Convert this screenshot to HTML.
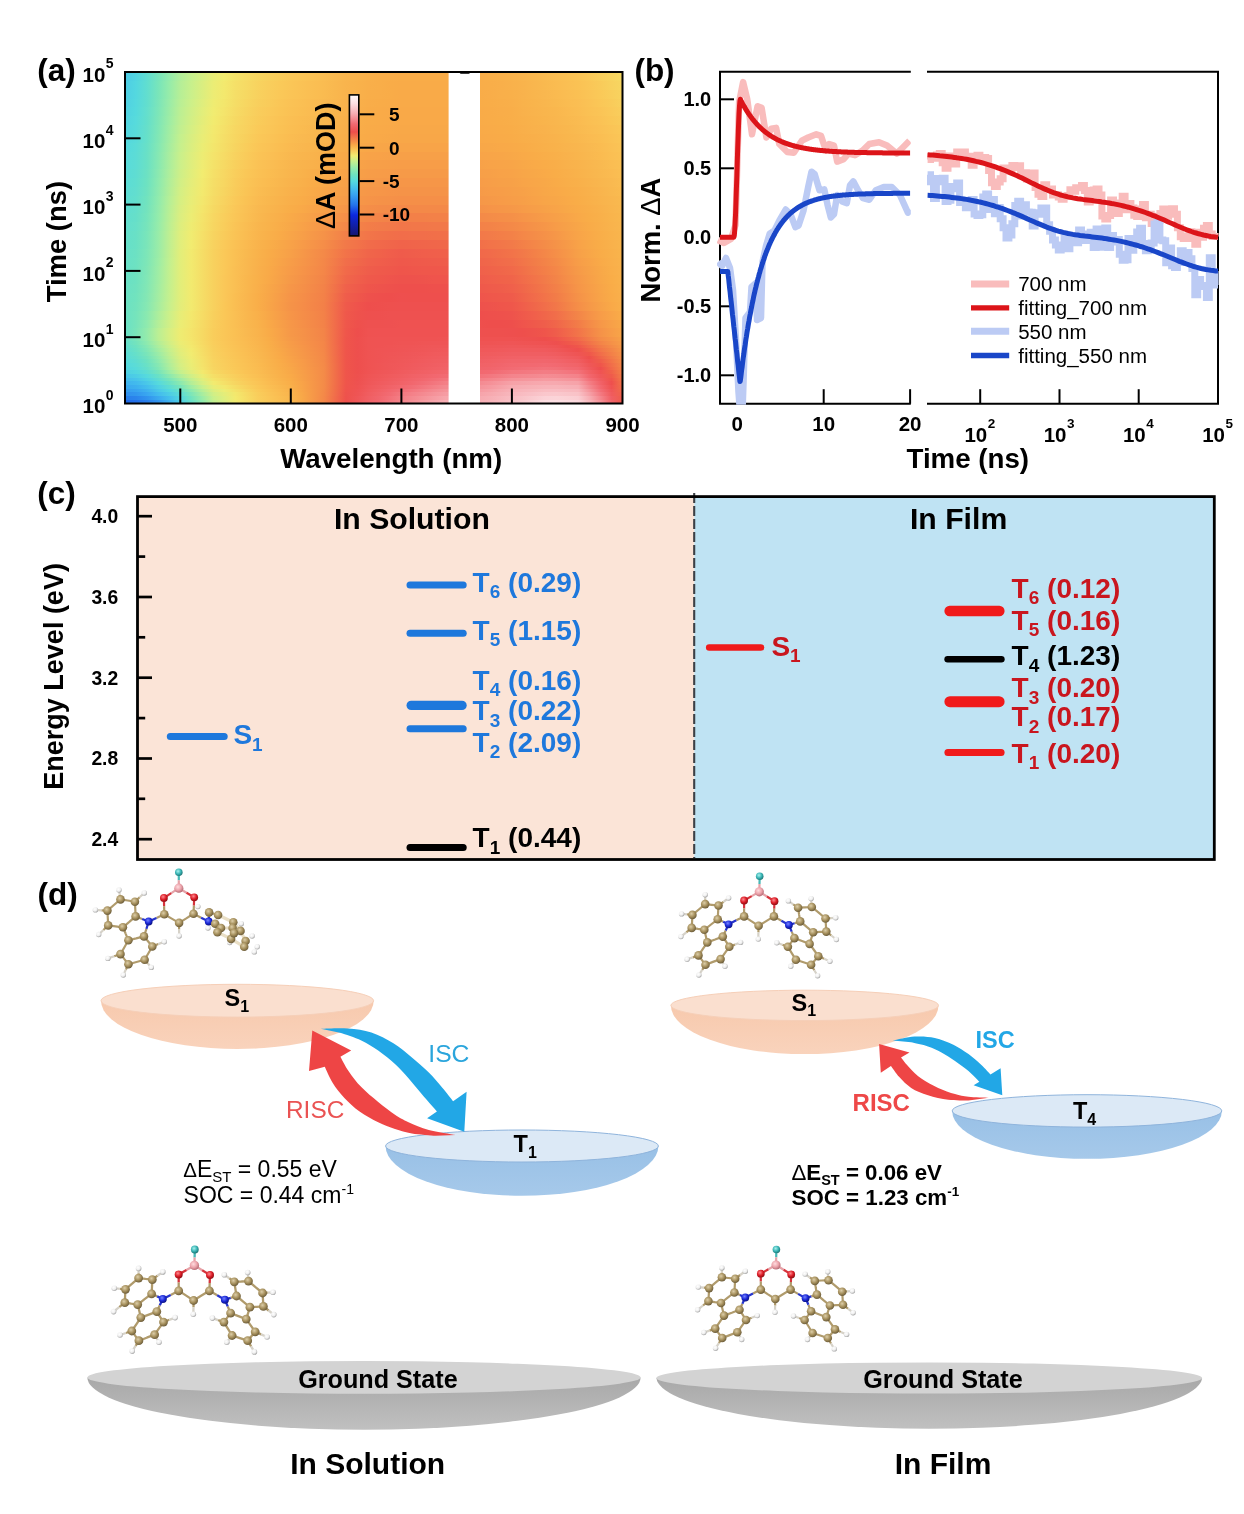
<!DOCTYPE html>
<html lang="en"><head><meta charset="utf-8"><title>Figure</title>
<style>
html,body{margin:0;padding:0;background:#fff;}
body{width:1244px;height:1514px;overflow:hidden;}
svg{display:block;font-family:"Liberation Sans", sans-serif;}
</style></head><body>
<svg width="1244" height="1514" viewBox="0 0 1244 1514">
<defs>
<linearGradient id="h0" x1="0" x2="1" y1="0" y2="0"><stop offset="0%" stop-color="#4ccbe6"/><stop offset="2.2%" stop-color="#52d5e0"/><stop offset="4.4%" stop-color="#60ddd1"/><stop offset="6.7%" stop-color="#77e4bb"/><stop offset="8.9%" stop-color="#93ebac"/><stop offset="11.1%" stop-color="#b1ee9a"/><stop offset="13.3%" stop-color="#c5f08e"/><stop offset="15.6%" stop-color="#d7ef82"/><stop offset="17.8%" stop-color="#e9ed76"/><stop offset="20%" stop-color="#f2eb6f"/><stop offset="22.2%" stop-color="#f4e269"/><stop offset="24.4%" stop-color="#f6db65"/><stop offset="26.7%" stop-color="#f7d560"/><stop offset="28.9%" stop-color="#f8d05d"/><stop offset="31.1%" stop-color="#f9cc5a"/><stop offset="33.3%" stop-color="#fac758"/><stop offset="35.6%" stop-color="#fac456"/><stop offset="37.8%" stop-color="#fac154"/><stop offset="40%" stop-color="#fabd52"/><stop offset="42.2%" stop-color="#f9b950"/><stop offset="44.4%" stop-color="#f9b54d"/><stop offset="46.7%" stop-color="#f9b34c"/><stop offset="48.9%" stop-color="#f9b04a"/><stop offset="51.1%" stop-color="#f9ae49"/><stop offset="53.3%" stop-color="#f9ad49"/><stop offset="55.6%" stop-color="#f9ac48"/><stop offset="57.8%" stop-color="#f9ac48"/><stop offset="60%" stop-color="#f9ac48"/><stop offset="62.2%" stop-color="#f9ac48"/><stop offset="64.4%" stop-color="#f9ac48"/><stop offset="66.7%" stop-color="#f9ac48"/><stop offset="68.9%" stop-color="#f9ad49"/><stop offset="71.1%" stop-color="#f9ad49"/><stop offset="73.3%" stop-color="#f9af49"/><stop offset="75.6%" stop-color="#f9b04a"/><stop offset="77.8%" stop-color="#f9b24b"/><stop offset="80%" stop-color="#f9b44d"/><stop offset="82.2%" stop-color="#f9b74e"/><stop offset="84.4%" stop-color="#f9ba50"/><stop offset="86.7%" stop-color="#fabd52"/><stop offset="88.9%" stop-color="#fac053"/><stop offset="91.1%" stop-color="#fac355"/><stop offset="93.3%" stop-color="#fac858"/><stop offset="95.6%" stop-color="#f9ce5c"/><stop offset="97.8%" stop-color="#f8d35f"/><stop offset="100%" stop-color="#f6d963"/></linearGradient>
<linearGradient id="h1" x1="0" x2="1" y1="0" y2="0"><stop offset="0%" stop-color="#4dcde5"/><stop offset="2.2%" stop-color="#53d7e0"/><stop offset="4.4%" stop-color="#60ded0"/><stop offset="6.7%" stop-color="#78e5ba"/><stop offset="8.9%" stop-color="#95ecaa"/><stop offset="11.1%" stop-color="#b4ee98"/><stop offset="13.3%" stop-color="#c7f08c"/><stop offset="15.6%" stop-color="#daee80"/><stop offset="17.8%" stop-color="#ebed75"/><stop offset="20%" stop-color="#f3e96e"/><stop offset="22.2%" stop-color="#f5e068"/><stop offset="24.4%" stop-color="#f6da64"/><stop offset="26.7%" stop-color="#f8d35f"/><stop offset="28.9%" stop-color="#f9ce5c"/><stop offset="31.1%" stop-color="#faca59"/><stop offset="33.3%" stop-color="#fac657"/><stop offset="35.6%" stop-color="#fac255"/><stop offset="37.8%" stop-color="#fabf53"/><stop offset="40%" stop-color="#fabc51"/><stop offset="42.2%" stop-color="#f9b84f"/><stop offset="44.4%" stop-color="#f9b44d"/><stop offset="46.7%" stop-color="#f9b24b"/><stop offset="48.9%" stop-color="#f9af4a"/><stop offset="51.1%" stop-color="#f9ae49"/><stop offset="53.3%" stop-color="#f9ac48"/><stop offset="55.6%" stop-color="#f9ab48"/><stop offset="57.8%" stop-color="#f9ab48"/><stop offset="60%" stop-color="#f9ab48"/><stop offset="62.2%" stop-color="#f9ab48"/><stop offset="64.4%" stop-color="#f9ab48"/><stop offset="66.7%" stop-color="#f9ac48"/><stop offset="68.9%" stop-color="#f9ac48"/><stop offset="71.1%" stop-color="#f9ad49"/><stop offset="73.3%" stop-color="#f9ae49"/><stop offset="75.6%" stop-color="#f9af4a"/><stop offset="77.8%" stop-color="#f9b14b"/><stop offset="80%" stop-color="#f9b34c"/><stop offset="82.2%" stop-color="#f9b64e"/><stop offset="84.4%" stop-color="#f9b94f"/><stop offset="86.7%" stop-color="#fabc51"/><stop offset="88.9%" stop-color="#fabf53"/><stop offset="91.1%" stop-color="#fac254"/><stop offset="93.3%" stop-color="#fac657"/><stop offset="95.6%" stop-color="#f9cb5a"/><stop offset="97.8%" stop-color="#f8d15e"/><stop offset="100%" stop-color="#f7d661"/></linearGradient>
<linearGradient id="h2" x1="0" x2="1" y1="0" y2="0"><stop offset="0%" stop-color="#4ecfe4"/><stop offset="2.2%" stop-color="#54d8df"/><stop offset="4.4%" stop-color="#62decf"/><stop offset="6.7%" stop-color="#7ae5b9"/><stop offset="8.9%" stop-color="#97eca9"/><stop offset="11.1%" stop-color="#b6ef96"/><stop offset="13.3%" stop-color="#caf08b"/><stop offset="15.6%" stop-color="#dcee7e"/><stop offset="17.8%" stop-color="#edec74"/><stop offset="20%" stop-color="#f3e86d"/><stop offset="22.2%" stop-color="#f5de67"/><stop offset="24.4%" stop-color="#f6d862"/><stop offset="26.7%" stop-color="#f8d15e"/><stop offset="28.9%" stop-color="#f9cc5b"/><stop offset="31.1%" stop-color="#fac858"/><stop offset="33.3%" stop-color="#fac456"/><stop offset="35.6%" stop-color="#fac154"/><stop offset="37.8%" stop-color="#fabe52"/><stop offset="40%" stop-color="#fabb50"/><stop offset="42.2%" stop-color="#f9b74e"/><stop offset="44.4%" stop-color="#f9b34c"/><stop offset="46.7%" stop-color="#f9b14b"/><stop offset="48.9%" stop-color="#f9ae49"/><stop offset="51.1%" stop-color="#f9ad49"/><stop offset="53.3%" stop-color="#f9ac48"/><stop offset="55.6%" stop-color="#f9aa48"/><stop offset="57.8%" stop-color="#f9aa48"/><stop offset="60%" stop-color="#f9aa48"/><stop offset="62.2%" stop-color="#f9aa48"/><stop offset="64.4%" stop-color="#f9aa48"/><stop offset="66.7%" stop-color="#f9ab48"/><stop offset="68.9%" stop-color="#f9ac48"/><stop offset="71.1%" stop-color="#f9ac48"/><stop offset="73.3%" stop-color="#f9ad49"/><stop offset="75.6%" stop-color="#f9af4a"/><stop offset="77.8%" stop-color="#f9b04a"/><stop offset="80%" stop-color="#f9b24c"/><stop offset="82.2%" stop-color="#f9b54d"/><stop offset="84.4%" stop-color="#f9b74f"/><stop offset="86.7%" stop-color="#faba50"/><stop offset="88.9%" stop-color="#fabd52"/><stop offset="91.1%" stop-color="#fac053"/><stop offset="93.3%" stop-color="#fac456"/><stop offset="95.6%" stop-color="#fac958"/><stop offset="97.8%" stop-color="#f9ce5c"/><stop offset="100%" stop-color="#f8d35f"/></linearGradient>
<linearGradient id="h3" x1="0" x2="1" y1="0" y2="0"><stop offset="0%" stop-color="#4fd0e3"/><stop offset="2.2%" stop-color="#55d9de"/><stop offset="4.4%" stop-color="#62dece"/><stop offset="6.7%" stop-color="#7ce5b9"/><stop offset="8.9%" stop-color="#9aeca8"/><stop offset="11.1%" stop-color="#b9ef95"/><stop offset="13.3%" stop-color="#cdf089"/><stop offset="15.6%" stop-color="#dfee7d"/><stop offset="17.8%" stop-color="#efec72"/><stop offset="20%" stop-color="#f3e66c"/><stop offset="22.2%" stop-color="#f5dd66"/><stop offset="24.4%" stop-color="#f7d661"/><stop offset="26.7%" stop-color="#f8cf5d"/><stop offset="28.9%" stop-color="#f9cb5a"/><stop offset="31.1%" stop-color="#fac657"/><stop offset="33.3%" stop-color="#fac255"/><stop offset="35.6%" stop-color="#fabf53"/><stop offset="37.8%" stop-color="#fabc51"/><stop offset="40%" stop-color="#f9b950"/><stop offset="42.2%" stop-color="#f9b64e"/><stop offset="44.4%" stop-color="#f9b24c"/><stop offset="46.7%" stop-color="#f9b04a"/><stop offset="48.9%" stop-color="#f9ad49"/><stop offset="51.1%" stop-color="#f9ac48"/><stop offset="53.3%" stop-color="#f9ab48"/><stop offset="55.6%" stop-color="#f9aa48"/><stop offset="57.8%" stop-color="#f9aa48"/><stop offset="60%" stop-color="#f9aa48"/><stop offset="62.2%" stop-color="#f9aa48"/><stop offset="64.4%" stop-color="#f9aa48"/><stop offset="66.7%" stop-color="#f9aa48"/><stop offset="68.9%" stop-color="#f9ab48"/><stop offset="71.1%" stop-color="#f9ac48"/><stop offset="73.3%" stop-color="#f9ad48"/><stop offset="75.6%" stop-color="#f9ae49"/><stop offset="77.8%" stop-color="#f9af4a"/><stop offset="80%" stop-color="#f9b24b"/><stop offset="82.2%" stop-color="#f9b44c"/><stop offset="84.4%" stop-color="#f9b64e"/><stop offset="86.7%" stop-color="#f9b94f"/><stop offset="88.9%" stop-color="#fabc51"/><stop offset="91.1%" stop-color="#fabe53"/><stop offset="93.3%" stop-color="#fac255"/><stop offset="95.6%" stop-color="#fac757"/><stop offset="97.8%" stop-color="#f9cb5a"/><stop offset="100%" stop-color="#f8d15e"/></linearGradient>
<linearGradient id="h4" x1="0" x2="1" y1="0" y2="0"><stop offset="0%" stop-color="#50d2e2"/><stop offset="2.2%" stop-color="#55dadd"/><stop offset="4.4%" stop-color="#64dfcd"/><stop offset="6.7%" stop-color="#7de6b8"/><stop offset="8.9%" stop-color="#9ceca6"/><stop offset="11.1%" stop-color="#bcef93"/><stop offset="13.3%" stop-color="#d0ef87"/><stop offset="15.6%" stop-color="#e2ee7b"/><stop offset="17.8%" stop-color="#f1ec71"/><stop offset="20%" stop-color="#f4e46b"/><stop offset="22.2%" stop-color="#f6db65"/><stop offset="24.4%" stop-color="#f7d460"/><stop offset="26.7%" stop-color="#f9cd5c"/><stop offset="28.9%" stop-color="#fac959"/><stop offset="31.1%" stop-color="#fac556"/><stop offset="33.3%" stop-color="#fac154"/><stop offset="35.6%" stop-color="#fabe52"/><stop offset="37.8%" stop-color="#fabb51"/><stop offset="40%" stop-color="#f9b84f"/><stop offset="42.2%" stop-color="#f9b54d"/><stop offset="44.4%" stop-color="#f9b14b"/><stop offset="46.7%" stop-color="#f9af4a"/><stop offset="48.9%" stop-color="#f9ac48"/><stop offset="51.1%" stop-color="#f9ab48"/><stop offset="53.3%" stop-color="#f9aa48"/><stop offset="55.6%" stop-color="#f9a948"/><stop offset="57.8%" stop-color="#f9a948"/><stop offset="60%" stop-color="#f9a948"/><stop offset="62.2%" stop-color="#f9a948"/><stop offset="64.4%" stop-color="#f9a948"/><stop offset="66.7%" stop-color="#f9aa48"/><stop offset="68.9%" stop-color="#f9ab48"/><stop offset="71.1%" stop-color="#f9ab48"/><stop offset="73.3%" stop-color="#f9ac48"/><stop offset="75.6%" stop-color="#f9ad49"/><stop offset="77.8%" stop-color="#f9ae49"/><stop offset="80%" stop-color="#f9b14b"/><stop offset="82.2%" stop-color="#f9b34c"/><stop offset="84.4%" stop-color="#f9b54d"/><stop offset="86.7%" stop-color="#f9b74e"/><stop offset="88.9%" stop-color="#faba50"/><stop offset="91.1%" stop-color="#fabd52"/><stop offset="93.3%" stop-color="#fac154"/><stop offset="95.6%" stop-color="#fac456"/><stop offset="97.8%" stop-color="#fac959"/><stop offset="100%" stop-color="#f9ce5c"/></linearGradient>
<linearGradient id="h5" x1="0" x2="1" y1="0" y2="0"><stop offset="0%" stop-color="#51d4e1"/><stop offset="2.2%" stop-color="#57dbdc"/><stop offset="4.4%" stop-color="#64dfcb"/><stop offset="6.7%" stop-color="#7fe6b7"/><stop offset="8.9%" stop-color="#9eeda5"/><stop offset="11.1%" stop-color="#beef92"/><stop offset="13.3%" stop-color="#d2ef85"/><stop offset="15.6%" stop-color="#e4ed79"/><stop offset="17.8%" stop-color="#f2eb6f"/><stop offset="20%" stop-color="#f4e269"/><stop offset="22.2%" stop-color="#f6d963"/><stop offset="24.4%" stop-color="#f8d25f"/><stop offset="26.7%" stop-color="#f9cc5a"/><stop offset="28.9%" stop-color="#fac758"/><stop offset="31.1%" stop-color="#fac355"/><stop offset="33.3%" stop-color="#fabf53"/><stop offset="35.6%" stop-color="#fabc51"/><stop offset="37.8%" stop-color="#f9ba50"/><stop offset="40%" stop-color="#f9b74e"/><stop offset="42.2%" stop-color="#f9b34c"/><stop offset="44.4%" stop-color="#f9b04a"/><stop offset="46.7%" stop-color="#f9ae49"/><stop offset="48.9%" stop-color="#f9ac48"/><stop offset="51.1%" stop-color="#f9ab48"/><stop offset="53.3%" stop-color="#f9aa48"/><stop offset="55.6%" stop-color="#f9a948"/><stop offset="57.8%" stop-color="#f9a948"/><stop offset="60%" stop-color="#f9a948"/><stop offset="62.2%" stop-color="#f9a948"/><stop offset="64.4%" stop-color="#f9a948"/><stop offset="66.7%" stop-color="#f9a948"/><stop offset="68.9%" stop-color="#f9aa48"/><stop offset="71.1%" stop-color="#f9ab48"/><stop offset="73.3%" stop-color="#f9ac48"/><stop offset="75.6%" stop-color="#f9ad48"/><stop offset="77.8%" stop-color="#f9ae49"/><stop offset="80%" stop-color="#f9b04a"/><stop offset="82.2%" stop-color="#f9b24b"/><stop offset="84.4%" stop-color="#f9b44c"/><stop offset="86.7%" stop-color="#f9b64e"/><stop offset="88.9%" stop-color="#f9b94f"/><stop offset="91.1%" stop-color="#fabb51"/><stop offset="93.3%" stop-color="#fabf53"/><stop offset="95.6%" stop-color="#fac255"/><stop offset="97.8%" stop-color="#fac757"/><stop offset="100%" stop-color="#f9cb5a"/></linearGradient>
<linearGradient id="h6" x1="0" x2="1" y1="0" y2="0"><stop offset="0%" stop-color="#52d6e0"/><stop offset="2.2%" stop-color="#58dbda"/><stop offset="4.4%" stop-color="#66dfca"/><stop offset="6.7%" stop-color="#80e7b6"/><stop offset="8.9%" stop-color="#a1eda3"/><stop offset="11.1%" stop-color="#c1ef90"/><stop offset="13.3%" stop-color="#d5ef83"/><stop offset="15.6%" stop-color="#e7ed78"/><stop offset="17.8%" stop-color="#f3e96e"/><stop offset="20%" stop-color="#f5e068"/><stop offset="22.2%" stop-color="#f7d762"/><stop offset="24.4%" stop-color="#f8d15e"/><stop offset="26.7%" stop-color="#faca59"/><stop offset="28.9%" stop-color="#fac657"/><stop offset="31.1%" stop-color="#fac254"/><stop offset="33.3%" stop-color="#fabe52"/><stop offset="35.6%" stop-color="#fabb50"/><stop offset="37.8%" stop-color="#f9b84f"/><stop offset="40%" stop-color="#f9b54d"/><stop offset="42.2%" stop-color="#f9b24c"/><stop offset="44.4%" stop-color="#f9af4a"/><stop offset="46.7%" stop-color="#f9ad49"/><stop offset="48.9%" stop-color="#f9ab48"/><stop offset="51.1%" stop-color="#f9aa48"/><stop offset="53.3%" stop-color="#f9a948"/><stop offset="55.6%" stop-color="#f8a848"/><stop offset="57.8%" stop-color="#f8a848"/><stop offset="60%" stop-color="#f8a848"/><stop offset="62.2%" stop-color="#f8a848"/><stop offset="64.4%" stop-color="#f8a848"/><stop offset="66.7%" stop-color="#f9a948"/><stop offset="68.9%" stop-color="#f9a948"/><stop offset="71.1%" stop-color="#f9aa48"/><stop offset="73.3%" stop-color="#f9ab48"/><stop offset="75.6%" stop-color="#f9ac48"/><stop offset="77.8%" stop-color="#f9ad48"/><stop offset="80%" stop-color="#f9af4a"/><stop offset="82.2%" stop-color="#f9b14b"/><stop offset="84.4%" stop-color="#f9b24c"/><stop offset="86.7%" stop-color="#f9b54d"/><stop offset="88.9%" stop-color="#f9b74e"/><stop offset="91.1%" stop-color="#f9ba50"/><stop offset="93.3%" stop-color="#fabd52"/><stop offset="95.6%" stop-color="#fac054"/><stop offset="97.8%" stop-color="#fac456"/><stop offset="100%" stop-color="#fac858"/></linearGradient>
<linearGradient id="h7" x1="0" x2="1" y1="0" y2="0"><stop offset="0%" stop-color="#53d7df"/><stop offset="2.2%" stop-color="#59dbd9"/><stop offset="4.4%" stop-color="#66e0c9"/><stop offset="6.7%" stop-color="#82e7b5"/><stop offset="8.9%" stop-color="#a3eda2"/><stop offset="11.1%" stop-color="#c4f08e"/><stop offset="13.3%" stop-color="#d8ee81"/><stop offset="15.6%" stop-color="#e9ed76"/><stop offset="17.8%" stop-color="#f3e86d"/><stop offset="20%" stop-color="#f5de67"/><stop offset="22.2%" stop-color="#f7d661"/><stop offset="24.4%" stop-color="#f8cf5c"/><stop offset="26.7%" stop-color="#fac858"/><stop offset="28.9%" stop-color="#fac456"/><stop offset="31.1%" stop-color="#fac053"/><stop offset="33.3%" stop-color="#fabc51"/><stop offset="35.6%" stop-color="#f9b950"/><stop offset="37.8%" stop-color="#f9b74e"/><stop offset="40%" stop-color="#f9b44d"/><stop offset="42.2%" stop-color="#f9b14b"/><stop offset="44.4%" stop-color="#f9ae49"/><stop offset="46.7%" stop-color="#f9ac48"/><stop offset="48.9%" stop-color="#f9aa48"/><stop offset="51.1%" stop-color="#f9a948"/><stop offset="53.3%" stop-color="#f8a848"/><stop offset="55.6%" stop-color="#f8a748"/><stop offset="57.8%" stop-color="#f8a748"/><stop offset="60%" stop-color="#f8a748"/><stop offset="62.2%" stop-color="#f8a748"/><stop offset="64.4%" stop-color="#f8a748"/><stop offset="66.7%" stop-color="#f8a848"/><stop offset="68.9%" stop-color="#f9a948"/><stop offset="71.1%" stop-color="#f9a948"/><stop offset="73.3%" stop-color="#f9aa48"/><stop offset="75.6%" stop-color="#f9ab48"/><stop offset="77.8%" stop-color="#f9ac48"/><stop offset="80%" stop-color="#f9ae49"/><stop offset="82.2%" stop-color="#f9af4a"/><stop offset="84.4%" stop-color="#f9b14b"/><stop offset="86.7%" stop-color="#f9b34c"/><stop offset="88.9%" stop-color="#f9b64d"/><stop offset="91.1%" stop-color="#f9b84f"/><stop offset="93.3%" stop-color="#fabb51"/><stop offset="95.6%" stop-color="#fabe52"/><stop offset="97.8%" stop-color="#fac255"/><stop offset="100%" stop-color="#fac657"/></linearGradient>
<linearGradient id="h8" x1="0" x2="1" y1="0" y2="0"><stop offset="0%" stop-color="#54d9de"/><stop offset="2.2%" stop-color="#5bdcd7"/><stop offset="4.4%" stop-color="#68e0c7"/><stop offset="6.7%" stop-color="#84e8b4"/><stop offset="8.9%" stop-color="#a6eda0"/><stop offset="11.1%" stop-color="#c6f08d"/><stop offset="13.3%" stop-color="#daee80"/><stop offset="15.6%" stop-color="#ebed74"/><stop offset="17.8%" stop-color="#f3e66c"/><stop offset="20%" stop-color="#f5dd66"/><stop offset="22.2%" stop-color="#f7d460"/><stop offset="24.4%" stop-color="#f9cd5b"/><stop offset="26.7%" stop-color="#fac657"/><stop offset="28.9%" stop-color="#fac255"/><stop offset="31.1%" stop-color="#fabe52"/><stop offset="33.3%" stop-color="#faba50"/><stop offset="35.6%" stop-color="#f9b74f"/><stop offset="37.8%" stop-color="#f9b54d"/><stop offset="40%" stop-color="#f9b24b"/><stop offset="42.2%" stop-color="#f9af4a"/><stop offset="44.4%" stop-color="#f9ac48"/><stop offset="46.7%" stop-color="#f9a948"/><stop offset="48.9%" stop-color="#f8a748"/><stop offset="51.1%" stop-color="#f8a648"/><stop offset="53.3%" stop-color="#f8a548"/><stop offset="55.6%" stop-color="#f8a448"/><stop offset="57.8%" stop-color="#f8a448"/><stop offset="60%" stop-color="#f8a448"/><stop offset="62.2%" stop-color="#f8a448"/><stop offset="64.4%" stop-color="#f8a448"/><stop offset="66.7%" stop-color="#f8a548"/><stop offset="68.9%" stop-color="#f8a648"/><stop offset="71.1%" stop-color="#f8a748"/><stop offset="73.3%" stop-color="#f8a848"/><stop offset="75.6%" stop-color="#f9a948"/><stop offset="77.8%" stop-color="#f9aa48"/><stop offset="80%" stop-color="#f9ac48"/><stop offset="82.2%" stop-color="#f9ae49"/><stop offset="84.4%" stop-color="#f9b04a"/><stop offset="86.7%" stop-color="#f9b24b"/><stop offset="88.9%" stop-color="#f9b44d"/><stop offset="91.1%" stop-color="#f9b64e"/><stop offset="93.3%" stop-color="#f9b950"/><stop offset="95.6%" stop-color="#fabc51"/><stop offset="97.8%" stop-color="#fac054"/><stop offset="100%" stop-color="#fac456"/></linearGradient>
<linearGradient id="h9" x1="0" x2="1" y1="0" y2="0"><stop offset="0%" stop-color="#56dadd"/><stop offset="2.2%" stop-color="#5cdcd6"/><stop offset="4.4%" stop-color="#69e0c6"/><stop offset="6.7%" stop-color="#86e8b3"/><stop offset="8.9%" stop-color="#a9ed9f"/><stop offset="11.1%" stop-color="#c9f08b"/><stop offset="13.3%" stop-color="#ddee7e"/><stop offset="15.6%" stop-color="#edec73"/><stop offset="17.8%" stop-color="#f4e46b"/><stop offset="20%" stop-color="#f6db65"/><stop offset="22.2%" stop-color="#f8d25f"/><stop offset="24.4%" stop-color="#f9cb5a"/><stop offset="26.7%" stop-color="#fac456"/><stop offset="28.9%" stop-color="#fac054"/><stop offset="31.1%" stop-color="#fabc51"/><stop offset="33.3%" stop-color="#f9b84f"/><stop offset="35.6%" stop-color="#f9b54d"/><stop offset="37.8%" stop-color="#f9b34c"/><stop offset="40%" stop-color="#f9b04a"/><stop offset="42.2%" stop-color="#f9ac48"/><stop offset="44.4%" stop-color="#f9a948"/><stop offset="46.7%" stop-color="#f8a648"/><stop offset="48.9%" stop-color="#f8a348"/><stop offset="51.1%" stop-color="#f8a248"/><stop offset="53.3%" stop-color="#f7a148"/><stop offset="55.6%" stop-color="#f7a048"/><stop offset="57.8%" stop-color="#f7a048"/><stop offset="60%" stop-color="#f7a048"/><stop offset="62.2%" stop-color="#f7a048"/><stop offset="64.4%" stop-color="#f7a048"/><stop offset="66.7%" stop-color="#f8a248"/><stop offset="68.9%" stop-color="#f8a348"/><stop offset="71.1%" stop-color="#f8a448"/><stop offset="73.3%" stop-color="#f8a548"/><stop offset="75.6%" stop-color="#f8a648"/><stop offset="77.8%" stop-color="#f8a848"/><stop offset="80%" stop-color="#f9aa48"/><stop offset="82.2%" stop-color="#f9ac48"/><stop offset="84.4%" stop-color="#f9ae49"/><stop offset="86.7%" stop-color="#f9b04a"/><stop offset="88.9%" stop-color="#f9b24c"/><stop offset="91.1%" stop-color="#f9b54d"/><stop offset="93.3%" stop-color="#f9b84f"/><stop offset="95.6%" stop-color="#fabb50"/><stop offset="97.8%" stop-color="#fabf53"/><stop offset="100%" stop-color="#fac255"/></linearGradient>
<linearGradient id="h10" x1="0" x2="1" y1="0" y2="0"><stop offset="0%" stop-color="#58dbdb"/><stop offset="2.2%" stop-color="#5eddd4"/><stop offset="4.4%" stop-color="#6ae1c4"/><stop offset="6.7%" stop-color="#88e9b1"/><stop offset="8.9%" stop-color="#abee9d"/><stop offset="11.1%" stop-color="#ccf08a"/><stop offset="13.3%" stop-color="#dfee7d"/><stop offset="15.6%" stop-color="#f0ec72"/><stop offset="17.8%" stop-color="#f4e269"/><stop offset="20%" stop-color="#f6d963"/><stop offset="22.2%" stop-color="#f8d05d"/><stop offset="24.4%" stop-color="#fac959"/><stop offset="26.7%" stop-color="#fac255"/><stop offset="28.9%" stop-color="#fabe53"/><stop offset="31.1%" stop-color="#faba50"/><stop offset="33.3%" stop-color="#f9b64e"/><stop offset="35.6%" stop-color="#f9b34c"/><stop offset="37.8%" stop-color="#f9b14b"/><stop offset="40%" stop-color="#f9ae49"/><stop offset="42.2%" stop-color="#f9aa48"/><stop offset="44.4%" stop-color="#f8a648"/><stop offset="46.7%" stop-color="#f8a348"/><stop offset="48.9%" stop-color="#f7a048"/><stop offset="51.1%" stop-color="#f79f48"/><stop offset="53.3%" stop-color="#f79e48"/><stop offset="55.6%" stop-color="#f79d48"/><stop offset="57.8%" stop-color="#f79d48"/><stop offset="60%" stop-color="#f79d48"/><stop offset="62.2%" stop-color="#f79d48"/><stop offset="64.4%" stop-color="#f79d48"/><stop offset="66.7%" stop-color="#f79f48"/><stop offset="68.9%" stop-color="#f7a048"/><stop offset="71.1%" stop-color="#f7a148"/><stop offset="73.3%" stop-color="#f8a348"/><stop offset="75.6%" stop-color="#f8a448"/><stop offset="77.8%" stop-color="#f8a548"/><stop offset="80%" stop-color="#f8a848"/><stop offset="82.2%" stop-color="#f9aa48"/><stop offset="84.4%" stop-color="#f9ac48"/><stop offset="86.7%" stop-color="#f9ae49"/><stop offset="88.9%" stop-color="#f9b14b"/><stop offset="91.1%" stop-color="#f9b34c"/><stop offset="93.3%" stop-color="#f9b64e"/><stop offset="95.6%" stop-color="#f9b950"/><stop offset="97.8%" stop-color="#fabd52"/><stop offset="100%" stop-color="#fac054"/></linearGradient>
<linearGradient id="h11" x1="0" x2="1" y1="0" y2="0"><stop offset="0%" stop-color="#59dbd9"/><stop offset="2.2%" stop-color="#5fddd2"/><stop offset="4.4%" stop-color="#6ce1c3"/><stop offset="6.7%" stop-color="#8be9b0"/><stop offset="8.9%" stop-color="#aeee9c"/><stop offset="11.1%" stop-color="#ceef88"/><stop offset="13.3%" stop-color="#e1ee7b"/><stop offset="15.6%" stop-color="#f2ec70"/><stop offset="17.8%" stop-color="#f5e068"/><stop offset="20%" stop-color="#f7d762"/><stop offset="22.2%" stop-color="#f9ce5c"/><stop offset="24.4%" stop-color="#fac757"/><stop offset="26.7%" stop-color="#fac154"/><stop offset="28.9%" stop-color="#fabd51"/><stop offset="31.1%" stop-color="#f9b94f"/><stop offset="33.3%" stop-color="#f9b54d"/><stop offset="35.6%" stop-color="#f9b24b"/><stop offset="37.8%" stop-color="#f9ae49"/><stop offset="40%" stop-color="#f9ab48"/><stop offset="42.2%" stop-color="#f8a748"/><stop offset="44.4%" stop-color="#f8a348"/><stop offset="46.7%" stop-color="#f7a048"/><stop offset="48.9%" stop-color="#f79d48"/><stop offset="51.1%" stop-color="#f79c48"/><stop offset="53.3%" stop-color="#f79b48"/><stop offset="55.6%" stop-color="#f69a48"/><stop offset="57.8%" stop-color="#f69a48"/><stop offset="60%" stop-color="#f69a48"/><stop offset="62.2%" stop-color="#f69a48"/><stop offset="64.4%" stop-color="#f69a48"/><stop offset="66.7%" stop-color="#f79b48"/><stop offset="68.9%" stop-color="#f79d48"/><stop offset="71.1%" stop-color="#f79f48"/><stop offset="73.3%" stop-color="#f7a048"/><stop offset="75.6%" stop-color="#f8a248"/><stop offset="77.8%" stop-color="#f8a348"/><stop offset="80%" stop-color="#f8a648"/><stop offset="82.2%" stop-color="#f8a848"/><stop offset="84.4%" stop-color="#f9aa48"/><stop offset="86.7%" stop-color="#f9ad48"/><stop offset="88.9%" stop-color="#f9af4a"/><stop offset="91.1%" stop-color="#f9b24b"/><stop offset="93.3%" stop-color="#f9b54d"/><stop offset="95.6%" stop-color="#f9b84f"/><stop offset="97.8%" stop-color="#fabb51"/><stop offset="100%" stop-color="#fabf53"/></linearGradient>
<linearGradient id="h12" x1="0" x2="1" y1="0" y2="0"><stop offset="0%" stop-color="#5bdcd7"/><stop offset="2.2%" stop-color="#60ded0"/><stop offset="4.4%" stop-color="#6de2c1"/><stop offset="6.7%" stop-color="#8deaaf"/><stop offset="8.9%" stop-color="#b1ee9a"/><stop offset="11.1%" stop-color="#d1ef86"/><stop offset="13.3%" stop-color="#e4ed7a"/><stop offset="15.6%" stop-color="#f2ea6f"/><stop offset="17.8%" stop-color="#f5de67"/><stop offset="20%" stop-color="#f7d661"/><stop offset="22.2%" stop-color="#f9cc5b"/><stop offset="24.4%" stop-color="#fac556"/><stop offset="26.7%" stop-color="#fabf53"/><stop offset="28.9%" stop-color="#fabb50"/><stop offset="31.1%" stop-color="#f9b74e"/><stop offset="33.3%" stop-color="#f9b34c"/><stop offset="35.6%" stop-color="#f9b04a"/><stop offset="37.8%" stop-color="#f9ac48"/><stop offset="40%" stop-color="#f9a948"/><stop offset="42.2%" stop-color="#f8a548"/><stop offset="44.4%" stop-color="#f7a048"/><stop offset="46.7%" stop-color="#f79d48"/><stop offset="48.9%" stop-color="#f69a48"/><stop offset="51.1%" stop-color="#f69948"/><stop offset="53.3%" stop-color="#f69848"/><stop offset="55.6%" stop-color="#f69648"/><stop offset="57.8%" stop-color="#f69648"/><stop offset="60%" stop-color="#f69648"/><stop offset="62.2%" stop-color="#f69648"/><stop offset="64.4%" stop-color="#f69648"/><stop offset="66.7%" stop-color="#f69848"/><stop offset="68.9%" stop-color="#f69a48"/><stop offset="71.1%" stop-color="#f79c48"/><stop offset="73.3%" stop-color="#f79e48"/><stop offset="75.6%" stop-color="#f7a048"/><stop offset="77.8%" stop-color="#f7a148"/><stop offset="80%" stop-color="#f8a448"/><stop offset="82.2%" stop-color="#f8a648"/><stop offset="84.4%" stop-color="#f8a848"/><stop offset="86.7%" stop-color="#f9ab48"/><stop offset="88.9%" stop-color="#f9ae49"/><stop offset="91.1%" stop-color="#f9b04a"/><stop offset="93.3%" stop-color="#f9b34c"/><stop offset="95.6%" stop-color="#f9b64e"/><stop offset="97.8%" stop-color="#f9b950"/><stop offset="100%" stop-color="#fabd52"/></linearGradient>
<linearGradient id="h13" x1="0" x2="1" y1="0" y2="0"><stop offset="0%" stop-color="#5ddcd5"/><stop offset="2.2%" stop-color="#62decf"/><stop offset="4.4%" stop-color="#6fe2c0"/><stop offset="6.7%" stop-color="#8feaae"/><stop offset="8.9%" stop-color="#b3ee98"/><stop offset="11.1%" stop-color="#d4ef84"/><stop offset="13.3%" stop-color="#e6ed78"/><stop offset="15.6%" stop-color="#f3e96e"/><stop offset="17.8%" stop-color="#f5dd66"/><stop offset="20%" stop-color="#f7d460"/><stop offset="22.2%" stop-color="#f9cb5a"/><stop offset="24.4%" stop-color="#fac455"/><stop offset="26.7%" stop-color="#fabd52"/><stop offset="28.9%" stop-color="#f9b94f"/><stop offset="31.1%" stop-color="#f9b54d"/><stop offset="33.3%" stop-color="#f9b14b"/><stop offset="35.6%" stop-color="#f9ae49"/><stop offset="37.8%" stop-color="#f9aa48"/><stop offset="40%" stop-color="#f8a648"/><stop offset="42.2%" stop-color="#f8a248"/><stop offset="44.4%" stop-color="#f79e48"/><stop offset="46.7%" stop-color="#f69a48"/><stop offset="48.9%" stop-color="#f69748"/><stop offset="51.1%" stop-color="#f69648"/><stop offset="53.3%" stop-color="#f69448"/><stop offset="55.6%" stop-color="#f59348"/><stop offset="57.8%" stop-color="#f59348"/><stop offset="60%" stop-color="#f59348"/><stop offset="62.2%" stop-color="#f59348"/><stop offset="64.4%" stop-color="#f59348"/><stop offset="66.7%" stop-color="#f69548"/><stop offset="68.9%" stop-color="#f69748"/><stop offset="71.1%" stop-color="#f69a48"/><stop offset="73.3%" stop-color="#f79c48"/><stop offset="75.6%" stop-color="#f79d48"/><stop offset="77.8%" stop-color="#f79f48"/><stop offset="80%" stop-color="#f7a148"/><stop offset="82.2%" stop-color="#f8a448"/><stop offset="84.4%" stop-color="#f8a748"/><stop offset="86.7%" stop-color="#f9a948"/><stop offset="88.9%" stop-color="#f9ac48"/><stop offset="91.1%" stop-color="#f9ae49"/><stop offset="93.3%" stop-color="#f9b14b"/><stop offset="95.6%" stop-color="#f9b44d"/><stop offset="97.8%" stop-color="#f9b84f"/><stop offset="100%" stop-color="#fabb50"/></linearGradient>
<linearGradient id="h14" x1="0" x2="1" y1="0" y2="0"><stop offset="0%" stop-color="#5eddd3"/><stop offset="2.2%" stop-color="#63dfcd"/><stop offset="4.4%" stop-color="#71e3be"/><stop offset="6.7%" stop-color="#91ebad"/><stop offset="8.9%" stop-color="#b6ef97"/><stop offset="11.1%" stop-color="#d6ef82"/><stop offset="13.3%" stop-color="#e8ed77"/><stop offset="15.6%" stop-color="#f3e76d"/><stop offset="17.8%" stop-color="#f6db65"/><stop offset="20%" stop-color="#f8d25f"/><stop offset="22.2%" stop-color="#fac959"/><stop offset="24.4%" stop-color="#fac254"/><stop offset="26.7%" stop-color="#fabb51"/><stop offset="28.9%" stop-color="#f9b74e"/><stop offset="31.1%" stop-color="#f9b34c"/><stop offset="33.3%" stop-color="#f9af4a"/><stop offset="35.6%" stop-color="#f9ac48"/><stop offset="37.8%" stop-color="#f8a848"/><stop offset="40%" stop-color="#f8a448"/><stop offset="42.2%" stop-color="#f79f48"/><stop offset="44.4%" stop-color="#f79b48"/><stop offset="46.7%" stop-color="#f69748"/><stop offset="48.9%" stop-color="#f69448"/><stop offset="51.1%" stop-color="#f59248"/><stop offset="53.3%" stop-color="#f59148"/><stop offset="55.6%" stop-color="#f58f48"/><stop offset="57.8%" stop-color="#f58f48"/><stop offset="60%" stop-color="#f58f48"/><stop offset="62.2%" stop-color="#f58f48"/><stop offset="64.4%" stop-color="#f58f48"/><stop offset="66.7%" stop-color="#f59248"/><stop offset="68.9%" stop-color="#f69448"/><stop offset="71.1%" stop-color="#f69748"/><stop offset="73.3%" stop-color="#f69948"/><stop offset="75.6%" stop-color="#f79b48"/><stop offset="77.8%" stop-color="#f79d48"/><stop offset="80%" stop-color="#f79f48"/><stop offset="82.2%" stop-color="#f8a248"/><stop offset="84.4%" stop-color="#f8a548"/><stop offset="86.7%" stop-color="#f8a748"/><stop offset="88.9%" stop-color="#f9aa48"/><stop offset="91.1%" stop-color="#f9ad48"/><stop offset="93.3%" stop-color="#f9b04a"/><stop offset="95.6%" stop-color="#f9b34c"/><stop offset="97.8%" stop-color="#f9b64e"/><stop offset="100%" stop-color="#f9b94f"/></linearGradient>
<linearGradient id="h15" x1="0" x2="1" y1="0" y2="0"><stop offset="0%" stop-color="#60ddd1"/><stop offset="2.2%" stop-color="#65dfcb"/><stop offset="4.4%" stop-color="#73e3bd"/><stop offset="6.7%" stop-color="#93ebac"/><stop offset="8.9%" stop-color="#b8ef95"/><stop offset="11.1%" stop-color="#d9ee81"/><stop offset="13.3%" stop-color="#eaed75"/><stop offset="15.6%" stop-color="#f4e56b"/><stop offset="17.8%" stop-color="#f6d963"/><stop offset="20%" stop-color="#f8d05d"/><stop offset="22.2%" stop-color="#fac758"/><stop offset="24.4%" stop-color="#fac054"/><stop offset="26.7%" stop-color="#f9b950"/><stop offset="28.9%" stop-color="#f9b54d"/><stop offset="31.1%" stop-color="#f9b14b"/><stop offset="33.3%" stop-color="#f9ad48"/><stop offset="35.6%" stop-color="#f9a948"/><stop offset="37.8%" stop-color="#f8a448"/><stop offset="40%" stop-color="#f7a048"/><stop offset="42.2%" stop-color="#f79b48"/><stop offset="44.4%" stop-color="#f69648"/><stop offset="46.7%" stop-color="#f59248"/><stop offset="48.9%" stop-color="#f58e48"/><stop offset="51.1%" stop-color="#f48c48"/><stop offset="53.3%" stop-color="#f48b48"/><stop offset="55.6%" stop-color="#f48948"/><stop offset="57.8%" stop-color="#f48948"/><stop offset="60%" stop-color="#f48948"/><stop offset="62.2%" stop-color="#f48948"/><stop offset="64.4%" stop-color="#f48948"/><stop offset="66.7%" stop-color="#f48c48"/><stop offset="68.9%" stop-color="#f58f48"/><stop offset="71.1%" stop-color="#f59148"/><stop offset="73.3%" stop-color="#f69448"/><stop offset="75.6%" stop-color="#f69648"/><stop offset="77.8%" stop-color="#f69848"/><stop offset="80%" stop-color="#f79b48"/><stop offset="82.2%" stop-color="#f79e48"/><stop offset="84.4%" stop-color="#f7a148"/><stop offset="86.7%" stop-color="#f8a448"/><stop offset="88.9%" stop-color="#f8a848"/><stop offset="91.1%" stop-color="#f9ab48"/><stop offset="93.3%" stop-color="#f9ae49"/><stop offset="95.6%" stop-color="#f9b14b"/><stop offset="97.8%" stop-color="#f9b54d"/><stop offset="100%" stop-color="#f9b84f"/></linearGradient>
<linearGradient id="h16" x1="0" x2="1" y1="0" y2="0"><stop offset="0%" stop-color="#61decf"/><stop offset="2.2%" stop-color="#66dfc9"/><stop offset="4.4%" stop-color="#75e4bc"/><stop offset="6.7%" stop-color="#94ecab"/><stop offset="8.9%" stop-color="#baef94"/><stop offset="11.1%" stop-color="#dbee80"/><stop offset="13.3%" stop-color="#eced74"/><stop offset="15.6%" stop-color="#f4e36a"/><stop offset="17.8%" stop-color="#f7d762"/><stop offset="20%" stop-color="#f9ce5c"/><stop offset="22.2%" stop-color="#fac657"/><stop offset="24.4%" stop-color="#fabf53"/><stop offset="26.7%" stop-color="#f9b84f"/><stop offset="28.9%" stop-color="#f9b34c"/><stop offset="31.1%" stop-color="#f9af4a"/><stop offset="33.3%" stop-color="#f9aa48"/><stop offset="35.6%" stop-color="#f8a548"/><stop offset="37.8%" stop-color="#f7a048"/><stop offset="40%" stop-color="#f79b48"/><stop offset="42.2%" stop-color="#f69548"/><stop offset="44.4%" stop-color="#f58f48"/><stop offset="46.7%" stop-color="#f48a48"/><stop offset="48.9%" stop-color="#f48648"/><stop offset="51.1%" stop-color="#f38448"/><stop offset="53.3%" stop-color="#f38248"/><stop offset="55.6%" stop-color="#f38048"/><stop offset="57.8%" stop-color="#f38048"/><stop offset="60%" stop-color="#f38048"/><stop offset="62.2%" stop-color="#f38148"/><stop offset="64.4%" stop-color="#f38148"/><stop offset="66.7%" stop-color="#f38448"/><stop offset="68.9%" stop-color="#f48648"/><stop offset="71.1%" stop-color="#f48948"/><stop offset="73.3%" stop-color="#f48c48"/><stop offset="75.6%" stop-color="#f58e48"/><stop offset="77.8%" stop-color="#f59048"/><stop offset="80%" stop-color="#f69448"/><stop offset="82.2%" stop-color="#f69848"/><stop offset="84.4%" stop-color="#f79c48"/><stop offset="86.7%" stop-color="#f7a048"/><stop offset="88.9%" stop-color="#f8a448"/><stop offset="91.1%" stop-color="#f9a948"/><stop offset="93.3%" stop-color="#f9ad48"/><stop offset="95.6%" stop-color="#f9b04a"/><stop offset="97.8%" stop-color="#f9b44c"/><stop offset="100%" stop-color="#f9b74e"/></linearGradient>
<linearGradient id="h17" x1="0" x2="1" y1="0" y2="0"><stop offset="0%" stop-color="#63dece"/><stop offset="2.2%" stop-color="#68e0c8"/><stop offset="4.4%" stop-color="#77e4bb"/><stop offset="6.7%" stop-color="#96ecaa"/><stop offset="8.9%" stop-color="#bcef93"/><stop offset="11.1%" stop-color="#ddee7e"/><stop offset="13.3%" stop-color="#eeec72"/><stop offset="15.6%" stop-color="#f4e269"/><stop offset="17.8%" stop-color="#f7d661"/><stop offset="20%" stop-color="#f9cd5b"/><stop offset="22.2%" stop-color="#fac456"/><stop offset="24.4%" stop-color="#fabd52"/><stop offset="26.7%" stop-color="#f9b64e"/><stop offset="28.9%" stop-color="#f9b24b"/><stop offset="31.1%" stop-color="#f9ad49"/><stop offset="33.3%" stop-color="#f8a848"/><stop offset="35.6%" stop-color="#f8a248"/><stop offset="37.8%" stop-color="#f79c48"/><stop offset="40%" stop-color="#f69648"/><stop offset="42.2%" stop-color="#f58f48"/><stop offset="44.4%" stop-color="#f48848"/><stop offset="46.7%" stop-color="#f38248"/><stop offset="48.9%" stop-color="#f37d48"/><stop offset="51.1%" stop-color="#f27b49"/><stop offset="53.3%" stop-color="#f27949"/><stop offset="55.6%" stop-color="#f27649"/><stop offset="57.8%" stop-color="#f27749"/><stop offset="60%" stop-color="#f27749"/><stop offset="62.2%" stop-color="#f27849"/><stop offset="64.4%" stop-color="#f27849"/><stop offset="66.7%" stop-color="#f27b49"/><stop offset="68.9%" stop-color="#f37e48"/><stop offset="71.1%" stop-color="#f38148"/><stop offset="73.3%" stop-color="#f38348"/><stop offset="75.6%" stop-color="#f48648"/><stop offset="77.8%" stop-color="#f48948"/><stop offset="80%" stop-color="#f58d48"/><stop offset="82.2%" stop-color="#f59248"/><stop offset="84.4%" stop-color="#f69648"/><stop offset="86.7%" stop-color="#f79c48"/><stop offset="88.9%" stop-color="#f7a148"/><stop offset="91.1%" stop-color="#f8a648"/><stop offset="93.3%" stop-color="#f9ab48"/><stop offset="95.6%" stop-color="#f9af4a"/><stop offset="97.8%" stop-color="#f9b34c"/><stop offset="100%" stop-color="#f9b64e"/></linearGradient>
<linearGradient id="h18" x1="0" x2="1" y1="0" y2="0"><stop offset="0%" stop-color="#64dfcc"/><stop offset="2.2%" stop-color="#69e0c6"/><stop offset="4.4%" stop-color="#79e5ba"/><stop offset="6.7%" stop-color="#98eca9"/><stop offset="8.9%" stop-color="#beef92"/><stop offset="11.1%" stop-color="#dfee7d"/><stop offset="13.3%" stop-color="#f0ec71"/><stop offset="15.6%" stop-color="#f5e068"/><stop offset="17.8%" stop-color="#f7d460"/><stop offset="20%" stop-color="#f9cb5a"/><stop offset="22.2%" stop-color="#fac355"/><stop offset="24.4%" stop-color="#fabc51"/><stop offset="26.7%" stop-color="#f9b54d"/><stop offset="28.9%" stop-color="#f9b04a"/><stop offset="31.1%" stop-color="#f9ab48"/><stop offset="33.3%" stop-color="#f8a548"/><stop offset="35.6%" stop-color="#f79f48"/><stop offset="37.8%" stop-color="#f69848"/><stop offset="40%" stop-color="#f59248"/><stop offset="42.2%" stop-color="#f48948"/><stop offset="44.4%" stop-color="#f38048"/><stop offset="46.7%" stop-color="#f27b49"/><stop offset="48.9%" stop-color="#f27549"/><stop offset="51.1%" stop-color="#f17249"/><stop offset="53.3%" stop-color="#f16f49"/><stop offset="55.6%" stop-color="#f16d4a"/><stop offset="57.8%" stop-color="#f16e4a"/><stop offset="60%" stop-color="#f16e4a"/><stop offset="62.2%" stop-color="#f16f49"/><stop offset="64.4%" stop-color="#f17049"/><stop offset="66.7%" stop-color="#f27349"/><stop offset="68.9%" stop-color="#f27549"/><stop offset="71.1%" stop-color="#f27849"/><stop offset="73.3%" stop-color="#f27b49"/><stop offset="75.6%" stop-color="#f37e48"/><stop offset="77.8%" stop-color="#f38148"/><stop offset="80%" stop-color="#f48748"/><stop offset="82.2%" stop-color="#f48c48"/><stop offset="84.4%" stop-color="#f59148"/><stop offset="86.7%" stop-color="#f69748"/><stop offset="88.9%" stop-color="#f79e48"/><stop offset="91.1%" stop-color="#f8a448"/><stop offset="93.3%" stop-color="#f9a948"/><stop offset="95.6%" stop-color="#f9ae49"/><stop offset="97.8%" stop-color="#f9b24b"/><stop offset="100%" stop-color="#f9b54d"/></linearGradient>
<linearGradient id="h19" x1="0" x2="1" y1="0" y2="0"><stop offset="0%" stop-color="#65dfca"/><stop offset="2.2%" stop-color="#6ae1c4"/><stop offset="4.4%" stop-color="#7be5b9"/><stop offset="6.7%" stop-color="#9aeca8"/><stop offset="8.9%" stop-color="#c0ef91"/><stop offset="11.1%" stop-color="#e1ee7c"/><stop offset="13.3%" stop-color="#f2ec70"/><stop offset="15.6%" stop-color="#f5de67"/><stop offset="17.8%" stop-color="#f8d25f"/><stop offset="20%" stop-color="#fac959"/><stop offset="22.2%" stop-color="#fac154"/><stop offset="24.4%" stop-color="#faba50"/><stop offset="26.7%" stop-color="#f9b34c"/><stop offset="28.9%" stop-color="#f9ae49"/><stop offset="31.1%" stop-color="#f8a848"/><stop offset="33.3%" stop-color="#f8a248"/><stop offset="35.6%" stop-color="#f79b48"/><stop offset="37.8%" stop-color="#f69448"/><stop offset="40%" stop-color="#f58d48"/><stop offset="42.2%" stop-color="#f38348"/><stop offset="44.4%" stop-color="#f27949"/><stop offset="46.7%" stop-color="#f27349"/><stop offset="48.9%" stop-color="#f16c4a"/><stop offset="51.1%" stop-color="#f1694a"/><stop offset="53.3%" stop-color="#f0664a"/><stop offset="55.6%" stop-color="#f0634a"/><stop offset="57.8%" stop-color="#f0644a"/><stop offset="60%" stop-color="#f0654a"/><stop offset="62.2%" stop-color="#f0664a"/><stop offset="64.4%" stop-color="#f0674a"/><stop offset="66.7%" stop-color="#f16a4a"/><stop offset="68.9%" stop-color="#f16d4a"/><stop offset="71.1%" stop-color="#f16f49"/><stop offset="73.3%" stop-color="#f27349"/><stop offset="75.6%" stop-color="#f27649"/><stop offset="77.8%" stop-color="#f27a49"/><stop offset="80%" stop-color="#f38048"/><stop offset="82.2%" stop-color="#f48648"/><stop offset="84.4%" stop-color="#f48c48"/><stop offset="86.7%" stop-color="#f59348"/><stop offset="88.9%" stop-color="#f69a48"/><stop offset="91.1%" stop-color="#f8a248"/><stop offset="93.3%" stop-color="#f8a848"/><stop offset="95.6%" stop-color="#f9ad48"/><stop offset="97.8%" stop-color="#f9b14b"/><stop offset="100%" stop-color="#f9b54d"/></linearGradient>
<linearGradient id="h20" x1="0" x2="1" y1="0" y2="0"><stop offset="0%" stop-color="#67e0c9"/><stop offset="2.2%" stop-color="#6ce1c3"/><stop offset="4.4%" stop-color="#7de6b8"/><stop offset="6.7%" stop-color="#9beca7"/><stop offset="8.9%" stop-color="#c1ef90"/><stop offset="11.1%" stop-color="#e2ee7a"/><stop offset="13.3%" stop-color="#f2ea6f"/><stop offset="15.6%" stop-color="#f5dd66"/><stop offset="17.8%" stop-color="#f8d15e"/><stop offset="20%" stop-color="#fac858"/><stop offset="22.2%" stop-color="#fac053"/><stop offset="24.4%" stop-color="#f9b94f"/><stop offset="26.7%" stop-color="#f9b24b"/><stop offset="28.9%" stop-color="#f9ac48"/><stop offset="31.1%" stop-color="#f8a648"/><stop offset="33.3%" stop-color="#f7a048"/><stop offset="35.6%" stop-color="#f69848"/><stop offset="37.8%" stop-color="#f59048"/><stop offset="40%" stop-color="#f48948"/><stop offset="42.2%" stop-color="#f37e48"/><stop offset="44.4%" stop-color="#f27349"/><stop offset="46.7%" stop-color="#f16c4a"/><stop offset="48.9%" stop-color="#f0654a"/><stop offset="51.1%" stop-color="#f0624a"/><stop offset="53.3%" stop-color="#f05e4b"/><stop offset="55.6%" stop-color="#ef5b4b"/><stop offset="57.8%" stop-color="#ef5d4b"/><stop offset="60%" stop-color="#f05e4b"/><stop offset="62.2%" stop-color="#f05f4b"/><stop offset="64.4%" stop-color="#f0604b"/><stop offset="66.7%" stop-color="#f0634a"/><stop offset="68.9%" stop-color="#f0654a"/><stop offset="71.1%" stop-color="#f1684a"/><stop offset="73.3%" stop-color="#f16b4a"/><stop offset="75.6%" stop-color="#f16f49"/><stop offset="77.8%" stop-color="#f27349"/><stop offset="80%" stop-color="#f27949"/><stop offset="82.2%" stop-color="#f38048"/><stop offset="84.4%" stop-color="#f48748"/><stop offset="86.7%" stop-color="#f58f48"/><stop offset="88.9%" stop-color="#f69748"/><stop offset="91.1%" stop-color="#f7a048"/><stop offset="93.3%" stop-color="#f8a648"/><stop offset="95.6%" stop-color="#f9ac48"/><stop offset="97.8%" stop-color="#f9b04a"/><stop offset="100%" stop-color="#f9b44c"/></linearGradient>
<linearGradient id="h21" x1="0" x2="1" y1="0" y2="0"><stop offset="0%" stop-color="#68e0c8"/><stop offset="2.2%" stop-color="#6de2c2"/><stop offset="4.4%" stop-color="#7ee6b7"/><stop offset="6.7%" stop-color="#9deda6"/><stop offset="8.9%" stop-color="#c2f090"/><stop offset="11.1%" stop-color="#e2ee7a"/><stop offset="13.3%" stop-color="#f2ea6f"/><stop offset="15.6%" stop-color="#f5dd66"/><stop offset="17.8%" stop-color="#f8d15e"/><stop offset="20%" stop-color="#fac858"/><stop offset="22.2%" stop-color="#fac053"/><stop offset="24.4%" stop-color="#f9b84f"/><stop offset="26.7%" stop-color="#f9b14b"/><stop offset="28.9%" stop-color="#f9ab48"/><stop offset="31.1%" stop-color="#f8a448"/><stop offset="33.3%" stop-color="#f79d48"/><stop offset="35.6%" stop-color="#f69648"/><stop offset="37.8%" stop-color="#f58f48"/><stop offset="40%" stop-color="#f48748"/><stop offset="42.2%" stop-color="#f27b49"/><stop offset="44.4%" stop-color="#f16e4a"/><stop offset="46.7%" stop-color="#f0684a"/><stop offset="48.9%" stop-color="#f0614b"/><stop offset="51.1%" stop-color="#f05e4b"/><stop offset="53.3%" stop-color="#ef5b4b"/><stop offset="55.6%" stop-color="#ef584b"/><stop offset="57.8%" stop-color="#ef594b"/><stop offset="60%" stop-color="#ef5a4b"/><stop offset="62.2%" stop-color="#ef5b4b"/><stop offset="64.4%" stop-color="#ef5c4b"/><stop offset="66.7%" stop-color="#f05f4b"/><stop offset="68.9%" stop-color="#f0614b"/><stop offset="71.1%" stop-color="#f0644a"/><stop offset="73.3%" stop-color="#f0674a"/><stop offset="75.6%" stop-color="#f16b4a"/><stop offset="77.8%" stop-color="#f16e4a"/><stop offset="80%" stop-color="#f27549"/><stop offset="82.2%" stop-color="#f27c48"/><stop offset="84.4%" stop-color="#f38348"/><stop offset="86.7%" stop-color="#f48b48"/><stop offset="88.9%" stop-color="#f69448"/><stop offset="91.1%" stop-color="#f79d48"/><stop offset="93.3%" stop-color="#f8a348"/><stop offset="95.6%" stop-color="#f9aa48"/><stop offset="97.8%" stop-color="#f9af4a"/><stop offset="100%" stop-color="#f9b34c"/></linearGradient>
<linearGradient id="h22" x1="0" x2="1" y1="0" y2="0"><stop offset="0%" stop-color="#68e0c7"/><stop offset="2.2%" stop-color="#6de2c1"/><stop offset="4.4%" stop-color="#80e6b6"/><stop offset="6.7%" stop-color="#9feda5"/><stop offset="8.9%" stop-color="#c3f08f"/><stop offset="11.1%" stop-color="#e2ee7a"/><stop offset="13.3%" stop-color="#f2ea6f"/><stop offset="15.6%" stop-color="#f5dd66"/><stop offset="17.8%" stop-color="#f8d15e"/><stop offset="20%" stop-color="#fac858"/><stop offset="22.2%" stop-color="#fabf53"/><stop offset="24.4%" stop-color="#f9b84f"/><stop offset="26.7%" stop-color="#f9b04b"/><stop offset="28.9%" stop-color="#f9aa48"/><stop offset="31.1%" stop-color="#f8a248"/><stop offset="33.3%" stop-color="#f79b48"/><stop offset="35.6%" stop-color="#f69448"/><stop offset="37.8%" stop-color="#f58d48"/><stop offset="40%" stop-color="#f48648"/><stop offset="42.2%" stop-color="#f27849"/><stop offset="44.4%" stop-color="#f16a4a"/><stop offset="46.7%" stop-color="#f0634a"/><stop offset="48.9%" stop-color="#ef5d4b"/><stop offset="51.1%" stop-color="#ef5a4b"/><stop offset="53.3%" stop-color="#ef584b"/><stop offset="55.6%" stop-color="#ef554b"/><stop offset="57.8%" stop-color="#ef564b"/><stop offset="60%" stop-color="#ef574b"/><stop offset="62.2%" stop-color="#ef574b"/><stop offset="64.4%" stop-color="#ef584b"/><stop offset="66.7%" stop-color="#ef5b4b"/><stop offset="68.9%" stop-color="#ef5d4b"/><stop offset="71.1%" stop-color="#f0604b"/><stop offset="73.3%" stop-color="#f0634a"/><stop offset="75.6%" stop-color="#f0664a"/><stop offset="77.8%" stop-color="#f1694a"/><stop offset="80%" stop-color="#f17049"/><stop offset="82.2%" stop-color="#f27849"/><stop offset="84.4%" stop-color="#f37f48"/><stop offset="86.7%" stop-color="#f48748"/><stop offset="88.9%" stop-color="#f59148"/><stop offset="91.1%" stop-color="#f69a48"/><stop offset="93.3%" stop-color="#f7a148"/><stop offset="95.6%" stop-color="#f8a848"/><stop offset="97.8%" stop-color="#f9ae49"/><stop offset="100%" stop-color="#f9b24c"/></linearGradient>
<linearGradient id="h23" x1="0" x2="1" y1="0" y2="0"><stop offset="0%" stop-color="#69e0c6"/><stop offset="2.2%" stop-color="#6ee2c0"/><stop offset="4.4%" stop-color="#81e7b6"/><stop offset="6.7%" stop-color="#a0eda4"/><stop offset="8.9%" stop-color="#c3f08f"/><stop offset="11.1%" stop-color="#e2ee7a"/><stop offset="13.3%" stop-color="#f2ea6f"/><stop offset="15.6%" stop-color="#f5dd66"/><stop offset="17.8%" stop-color="#f8d15e"/><stop offset="20%" stop-color="#fac758"/><stop offset="22.2%" stop-color="#fabf53"/><stop offset="24.4%" stop-color="#f9b74e"/><stop offset="26.7%" stop-color="#f9b04a"/><stop offset="28.9%" stop-color="#f9a948"/><stop offset="31.1%" stop-color="#f7a148"/><stop offset="33.3%" stop-color="#f69948"/><stop offset="35.6%" stop-color="#f59248"/><stop offset="37.8%" stop-color="#f48b48"/><stop offset="40%" stop-color="#f38448"/><stop offset="42.2%" stop-color="#f27549"/><stop offset="44.4%" stop-color="#f0664a"/><stop offset="46.7%" stop-color="#f05f4b"/><stop offset="48.9%" stop-color="#ef594b"/><stop offset="51.1%" stop-color="#ef574b"/><stop offset="53.3%" stop-color="#ef544c"/><stop offset="55.6%" stop-color="#ee524c"/><stop offset="57.8%" stop-color="#ee524c"/><stop offset="60%" stop-color="#ee534c"/><stop offset="62.2%" stop-color="#ef544c"/><stop offset="64.4%" stop-color="#ef544c"/><stop offset="66.7%" stop-color="#ef574b"/><stop offset="68.9%" stop-color="#ef5a4b"/><stop offset="71.1%" stop-color="#ef5c4b"/><stop offset="73.3%" stop-color="#f05f4b"/><stop offset="75.6%" stop-color="#f0624a"/><stop offset="77.8%" stop-color="#f0644a"/><stop offset="80%" stop-color="#f16c4a"/><stop offset="82.2%" stop-color="#f27349"/><stop offset="84.4%" stop-color="#f27b49"/><stop offset="86.7%" stop-color="#f38448"/><stop offset="88.9%" stop-color="#f58e48"/><stop offset="91.1%" stop-color="#f69748"/><stop offset="93.3%" stop-color="#f79f48"/><stop offset="95.6%" stop-color="#f8a748"/><stop offset="97.8%" stop-color="#f9ad48"/><stop offset="100%" stop-color="#f9b24b"/></linearGradient>
<linearGradient id="h24" x1="0" x2="1" y1="0" y2="0"><stop offset="0%" stop-color="#6ae1c5"/><stop offset="2.2%" stop-color="#70e2bf"/><stop offset="4.4%" stop-color="#82e7b5"/><stop offset="6.7%" stop-color="#a2eda3"/><stop offset="8.9%" stop-color="#c4f08e"/><stop offset="11.1%" stop-color="#e2ee7a"/><stop offset="13.3%" stop-color="#f2ea6f"/><stop offset="15.6%" stop-color="#f5dd66"/><stop offset="17.8%" stop-color="#f8d15e"/><stop offset="20%" stop-color="#fac758"/><stop offset="22.2%" stop-color="#fabf53"/><stop offset="24.4%" stop-color="#f9b74e"/><stop offset="26.7%" stop-color="#f9af4a"/><stop offset="28.9%" stop-color="#f8a748"/><stop offset="31.1%" stop-color="#f79f48"/><stop offset="33.3%" stop-color="#f69648"/><stop offset="35.6%" stop-color="#f59048"/><stop offset="37.8%" stop-color="#f48948"/><stop offset="40%" stop-color="#f38248"/><stop offset="42.2%" stop-color="#f17249"/><stop offset="44.4%" stop-color="#f0614b"/><stop offset="46.7%" stop-color="#ef5b4b"/><stop offset="48.9%" stop-color="#ef554b"/><stop offset="51.1%" stop-color="#ee534c"/><stop offset="53.3%" stop-color="#ee514c"/><stop offset="55.6%" stop-color="#ee4f4c"/><stop offset="57.8%" stop-color="#ee4f4c"/><stop offset="60%" stop-color="#ee4f4c"/><stop offset="62.2%" stop-color="#ee504c"/><stop offset="64.4%" stop-color="#ee504c"/><stop offset="66.7%" stop-color="#ee534c"/><stop offset="68.9%" stop-color="#ef564b"/><stop offset="71.1%" stop-color="#ef584b"/><stop offset="73.3%" stop-color="#ef5b4b"/><stop offset="75.6%" stop-color="#ef5d4b"/><stop offset="77.8%" stop-color="#f0604b"/><stop offset="80%" stop-color="#f0674a"/><stop offset="82.2%" stop-color="#f16f49"/><stop offset="84.4%" stop-color="#f27749"/><stop offset="86.7%" stop-color="#f38048"/><stop offset="88.9%" stop-color="#f48a48"/><stop offset="91.1%" stop-color="#f69548"/><stop offset="93.3%" stop-color="#f79d48"/><stop offset="95.6%" stop-color="#f8a548"/><stop offset="97.8%" stop-color="#f9ac48"/><stop offset="100%" stop-color="#f9b14b"/></linearGradient>
<linearGradient id="h25" x1="0" x2="1" y1="0" y2="0"><stop offset="0%" stop-color="#6be1c4"/><stop offset="2.2%" stop-color="#71e3be"/><stop offset="4.4%" stop-color="#84e7b4"/><stop offset="6.7%" stop-color="#a4eda2"/><stop offset="8.9%" stop-color="#c5f08e"/><stop offset="11.1%" stop-color="#e2ee7a"/><stop offset="13.3%" stop-color="#f2ea6f"/><stop offset="15.6%" stop-color="#f5dd66"/><stop offset="17.8%" stop-color="#f8d15e"/><stop offset="20%" stop-color="#fac758"/><stop offset="22.2%" stop-color="#fabe52"/><stop offset="24.4%" stop-color="#f9b64e"/><stop offset="26.7%" stop-color="#f9ae49"/><stop offset="28.9%" stop-color="#f8a648"/><stop offset="31.1%" stop-color="#f79d48"/><stop offset="33.3%" stop-color="#f69448"/><stop offset="35.6%" stop-color="#f58e48"/><stop offset="37.8%" stop-color="#f48748"/><stop offset="40%" stop-color="#f38148"/><stop offset="42.2%" stop-color="#f16f49"/><stop offset="44.4%" stop-color="#ef5d4b"/><stop offset="46.7%" stop-color="#ef574b"/><stop offset="48.9%" stop-color="#ee514c"/><stop offset="51.1%" stop-color="#ee4f4c"/><stop offset="53.3%" stop-color="#ee4e4c"/><stop offset="55.6%" stop-color="#ee4f4e"/><stop offset="57.8%" stop-color="#ee4f4d"/><stop offset="60%" stop-color="#ee4f4d"/><stop offset="62.2%" stop-color="#ee4f4d"/><stop offset="64.4%" stop-color="#ee4f4d"/><stop offset="66.7%" stop-color="#ee4f4c"/><stop offset="68.9%" stop-color="#ee524c"/><stop offset="71.1%" stop-color="#ef544c"/><stop offset="73.3%" stop-color="#ef574b"/><stop offset="75.6%" stop-color="#ef594b"/><stop offset="77.8%" stop-color="#ef5b4b"/><stop offset="80%" stop-color="#f0634a"/><stop offset="82.2%" stop-color="#f16b4a"/><stop offset="84.4%" stop-color="#f27349"/><stop offset="86.7%" stop-color="#f27c48"/><stop offset="88.9%" stop-color="#f48748"/><stop offset="91.1%" stop-color="#f59248"/><stop offset="93.3%" stop-color="#f79b48"/><stop offset="95.6%" stop-color="#f8a448"/><stop offset="97.8%" stop-color="#f9ab48"/><stop offset="100%" stop-color="#f9b04b"/></linearGradient>
<linearGradient id="h26" x1="0" x2="1" y1="0" y2="0"><stop offset="0%" stop-color="#6be1c3"/><stop offset="2.2%" stop-color="#73e3bd"/><stop offset="4.4%" stop-color="#86e8b3"/><stop offset="6.7%" stop-color="#a7eda0"/><stop offset="8.9%" stop-color="#c7f08d"/><stop offset="11.1%" stop-color="#e3ed7a"/><stop offset="13.3%" stop-color="#f2ea6f"/><stop offset="15.6%" stop-color="#f5dd66"/><stop offset="17.8%" stop-color="#f8d15e"/><stop offset="20%" stop-color="#fac757"/><stop offset="22.2%" stop-color="#fabe52"/><stop offset="24.4%" stop-color="#f9b64e"/><stop offset="26.7%" stop-color="#f9ae49"/><stop offset="28.9%" stop-color="#f8a548"/><stop offset="31.1%" stop-color="#f79c48"/><stop offset="33.3%" stop-color="#f59348"/><stop offset="35.6%" stop-color="#f58d48"/><stop offset="37.8%" stop-color="#f48648"/><stop offset="40%" stop-color="#f38048"/><stop offset="42.2%" stop-color="#f16d4a"/><stop offset="44.4%" stop-color="#ef5a4b"/><stop offset="46.7%" stop-color="#ef534c"/><stop offset="48.9%" stop-color="#ee4e4c"/><stop offset="51.1%" stop-color="#ee4f4d"/><stop offset="53.3%" stop-color="#ee504e"/><stop offset="55.6%" stop-color="#ee504f"/><stop offset="57.8%" stop-color="#ee504f"/><stop offset="60%" stop-color="#ee504f"/><stop offset="62.2%" stop-color="#ee504f"/><stop offset="64.4%" stop-color="#ee504f"/><stop offset="66.7%" stop-color="#ee4f4e"/><stop offset="68.9%" stop-color="#ee4e4c"/><stop offset="71.1%" stop-color="#ee514c"/><stop offset="73.3%" stop-color="#ee534c"/><stop offset="75.6%" stop-color="#ef554b"/><stop offset="77.8%" stop-color="#ef574b"/><stop offset="80%" stop-color="#f05e4b"/><stop offset="82.2%" stop-color="#f0664a"/><stop offset="84.4%" stop-color="#f16e4a"/><stop offset="86.7%" stop-color="#f27749"/><stop offset="88.9%" stop-color="#f38348"/><stop offset="91.1%" stop-color="#f58e48"/><stop offset="93.3%" stop-color="#f69848"/><stop offset="95.6%" stop-color="#f7a148"/><stop offset="97.8%" stop-color="#f9a948"/><stop offset="100%" stop-color="#f9af4a"/></linearGradient>
<linearGradient id="h27" x1="0" x2="1" y1="0" y2="0"><stop offset="0%" stop-color="#6be1c4"/><stop offset="2.2%" stop-color="#75e4bc"/><stop offset="4.4%" stop-color="#8ae9b0"/><stop offset="6.7%" stop-color="#adee9c"/><stop offset="8.9%" stop-color="#ccf089"/><stop offset="11.1%" stop-color="#e7ed77"/><stop offset="13.3%" stop-color="#f3e86d"/><stop offset="15.6%" stop-color="#f6dc65"/><stop offset="17.8%" stop-color="#f8d05d"/><stop offset="20%" stop-color="#fac757"/><stop offset="22.2%" stop-color="#fabf53"/><stop offset="24.4%" stop-color="#f9b74e"/><stop offset="26.7%" stop-color="#f9b04a"/><stop offset="28.9%" stop-color="#f8a748"/><stop offset="31.1%" stop-color="#f79e48"/><stop offset="33.3%" stop-color="#f69548"/><stop offset="35.6%" stop-color="#f58e48"/><stop offset="37.8%" stop-color="#f48848"/><stop offset="40%" stop-color="#f38148"/><stop offset="42.2%" stop-color="#f16d4a"/><stop offset="44.4%" stop-color="#ef584b"/><stop offset="46.7%" stop-color="#ee524c"/><stop offset="48.9%" stop-color="#ee504e"/><stop offset="51.1%" stop-color="#ee504f"/><stop offset="53.3%" stop-color="#ee5150"/><stop offset="55.6%" stop-color="#ee5150"/><stop offset="57.8%" stop-color="#ee5150"/><stop offset="60%" stop-color="#ee5150"/><stop offset="62.2%" stop-color="#ee5150"/><stop offset="64.4%" stop-color="#ee5150"/><stop offset="66.7%" stop-color="#ee504f"/><stop offset="68.9%" stop-color="#ee4f4d"/><stop offset="71.1%" stop-color="#ee4e4c"/><stop offset="73.3%" stop-color="#ee504c"/><stop offset="75.6%" stop-color="#ee514c"/><stop offset="77.8%" stop-color="#ee534c"/><stop offset="80%" stop-color="#ef594b"/><stop offset="82.2%" stop-color="#f05f4b"/><stop offset="84.4%" stop-color="#f0664a"/><stop offset="86.7%" stop-color="#f16e4a"/><stop offset="88.9%" stop-color="#f27a49"/><stop offset="91.1%" stop-color="#f38548"/><stop offset="93.3%" stop-color="#f59148"/><stop offset="95.6%" stop-color="#f79c48"/><stop offset="97.8%" stop-color="#f8a448"/><stop offset="100%" stop-color="#f9ac48"/></linearGradient>
<linearGradient id="h28" x1="0" x2="1" y1="0" y2="0"><stop offset="0%" stop-color="#6ae1c5"/><stop offset="2.2%" stop-color="#78e4bb"/><stop offset="4.4%" stop-color="#8feaae"/><stop offset="6.7%" stop-color="#b4ee98"/><stop offset="8.9%" stop-color="#d1ef86"/><stop offset="11.1%" stop-color="#ebed75"/><stop offset="13.3%" stop-color="#f3e66c"/><stop offset="15.6%" stop-color="#f6da64"/><stop offset="17.8%" stop-color="#f9ce5c"/><stop offset="20%" stop-color="#fac657"/><stop offset="22.2%" stop-color="#fabf53"/><stop offset="24.4%" stop-color="#f9b84f"/><stop offset="26.7%" stop-color="#f9b24b"/><stop offset="28.9%" stop-color="#f9a948"/><stop offset="31.1%" stop-color="#f7a048"/><stop offset="33.3%" stop-color="#f69748"/><stop offset="35.6%" stop-color="#f59048"/><stop offset="37.8%" stop-color="#f48948"/><stop offset="40%" stop-color="#f38248"/><stop offset="42.2%" stop-color="#f16d4a"/><stop offset="44.4%" stop-color="#ef574b"/><stop offset="46.7%" stop-color="#ee504c"/><stop offset="48.9%" stop-color="#ee5150"/><stop offset="51.1%" stop-color="#ee5150"/><stop offset="53.3%" stop-color="#ee5151"/><stop offset="55.6%" stop-color="#ef5251"/><stop offset="57.8%" stop-color="#ef5251"/><stop offset="60%" stop-color="#ef5251"/><stop offset="62.2%" stop-color="#ef5251"/><stop offset="64.4%" stop-color="#ef5251"/><stop offset="66.7%" stop-color="#ee5150"/><stop offset="68.9%" stop-color="#ee504f"/><stop offset="71.1%" stop-color="#ee4f4d"/><stop offset="73.3%" stop-color="#ee4e4c"/><stop offset="75.6%" stop-color="#ee4e4c"/><stop offset="77.8%" stop-color="#ee4f4c"/><stop offset="80%" stop-color="#ef544c"/><stop offset="82.2%" stop-color="#ef594b"/><stop offset="84.4%" stop-color="#ef5e4b"/><stop offset="86.7%" stop-color="#f0664a"/><stop offset="88.9%" stop-color="#f17149"/><stop offset="91.1%" stop-color="#f27c48"/><stop offset="93.3%" stop-color="#f48a48"/><stop offset="95.6%" stop-color="#f69748"/><stop offset="97.8%" stop-color="#f7a048"/><stop offset="100%" stop-color="#f8a848"/></linearGradient>
<linearGradient id="h29" x1="0" x2="1" y1="0" y2="0"><stop offset="0%" stop-color="#69e1c6"/><stop offset="2.2%" stop-color="#7ae5b9"/><stop offset="4.4%" stop-color="#94ebab"/><stop offset="6.7%" stop-color="#bbef94"/><stop offset="8.9%" stop-color="#d7ef82"/><stop offset="11.1%" stop-color="#eeec72"/><stop offset="13.3%" stop-color="#f4e46b"/><stop offset="15.6%" stop-color="#f6d963"/><stop offset="17.8%" stop-color="#f9cd5b"/><stop offset="20%" stop-color="#fac657"/><stop offset="22.2%" stop-color="#fac053"/><stop offset="24.4%" stop-color="#f9b950"/><stop offset="26.7%" stop-color="#f9b34c"/><stop offset="28.9%" stop-color="#f9ab48"/><stop offset="31.1%" stop-color="#f8a248"/><stop offset="33.3%" stop-color="#f69848"/><stop offset="35.6%" stop-color="#f59248"/><stop offset="37.8%" stop-color="#f48b48"/><stop offset="40%" stop-color="#f38448"/><stop offset="42.2%" stop-color="#f16d4a"/><stop offset="44.4%" stop-color="#ef564b"/><stop offset="46.7%" stop-color="#ee4e4c"/><stop offset="48.9%" stop-color="#ef5251"/><stop offset="51.1%" stop-color="#ef5252"/><stop offset="53.3%" stop-color="#ef5252"/><stop offset="55.6%" stop-color="#ef5252"/><stop offset="57.8%" stop-color="#ef5252"/><stop offset="60%" stop-color="#ef5252"/><stop offset="62.2%" stop-color="#ef5252"/><stop offset="64.4%" stop-color="#ef5252"/><stop offset="66.7%" stop-color="#ef5251"/><stop offset="68.9%" stop-color="#ee5150"/><stop offset="71.1%" stop-color="#ee504f"/><stop offset="73.3%" stop-color="#ee504e"/><stop offset="75.6%" stop-color="#ee504e"/><stop offset="77.8%" stop-color="#ee4f4e"/><stop offset="80%" stop-color="#ee4f4c"/><stop offset="82.2%" stop-color="#ee524c"/><stop offset="84.4%" stop-color="#ef554b"/><stop offset="86.7%" stop-color="#ef5d4b"/><stop offset="88.9%" stop-color="#f1684a"/><stop offset="91.1%" stop-color="#f27449"/><stop offset="93.3%" stop-color="#f38348"/><stop offset="95.6%" stop-color="#f59248"/><stop offset="97.8%" stop-color="#f79c48"/><stop offset="100%" stop-color="#f8a548"/></linearGradient>
<linearGradient id="h30" x1="0" x2="1" y1="0" y2="0"><stop offset="0%" stop-color="#68e0c8"/><stop offset="2.2%" stop-color="#79e5ba"/><stop offset="4.4%" stop-color="#93ebac"/><stop offset="6.7%" stop-color="#baef94"/><stop offset="8.9%" stop-color="#d6ef82"/><stop offset="11.1%" stop-color="#eeec72"/><stop offset="13.3%" stop-color="#f4e56b"/><stop offset="15.6%" stop-color="#f6d963"/><stop offset="17.8%" stop-color="#f9cd5b"/><stop offset="20%" stop-color="#fac657"/><stop offset="22.2%" stop-color="#fac054"/><stop offset="24.4%" stop-color="#faba50"/><stop offset="26.7%" stop-color="#f9b44d"/><stop offset="28.9%" stop-color="#f9ad48"/><stop offset="31.1%" stop-color="#f8a348"/><stop offset="33.3%" stop-color="#f69a48"/><stop offset="35.6%" stop-color="#f59348"/><stop offset="37.8%" stop-color="#f48c48"/><stop offset="40%" stop-color="#f38548"/><stop offset="42.2%" stop-color="#f16d4a"/><stop offset="44.4%" stop-color="#ef554b"/><stop offset="46.7%" stop-color="#ee4f4d"/><stop offset="48.9%" stop-color="#ef5352"/><stop offset="51.1%" stop-color="#ef5353"/><stop offset="53.3%" stop-color="#ef5353"/><stop offset="55.6%" stop-color="#ef5353"/><stop offset="57.8%" stop-color="#ef5353"/><stop offset="60%" stop-color="#ef5353"/><stop offset="62.2%" stop-color="#ef5353"/><stop offset="64.4%" stop-color="#ef5454"/><stop offset="66.7%" stop-color="#ef5353"/><stop offset="68.9%" stop-color="#ef5252"/><stop offset="71.1%" stop-color="#ef5251"/><stop offset="73.3%" stop-color="#ef5251"/><stop offset="75.6%" stop-color="#ef5251"/><stop offset="77.8%" stop-color="#ef5251"/><stop offset="80%" stop-color="#ee5150"/><stop offset="82.2%" stop-color="#ee504e"/><stop offset="84.4%" stop-color="#ee4e4c"/><stop offset="86.7%" stop-color="#ef544c"/><stop offset="88.9%" stop-color="#f05f4b"/><stop offset="91.1%" stop-color="#f16a4a"/><stop offset="93.3%" stop-color="#f27b49"/><stop offset="95.6%" stop-color="#f48c48"/><stop offset="97.8%" stop-color="#f69648"/><stop offset="100%" stop-color="#f7a148"/></linearGradient>
<linearGradient id="h31" x1="0" x2="1" y1="0" y2="0"><stop offset="0%" stop-color="#65dfcb"/><stop offset="2.2%" stop-color="#73e3bd"/><stop offset="4.4%" stop-color="#8deaaf"/><stop offset="6.7%" stop-color="#b2ee99"/><stop offset="8.9%" stop-color="#d1ef86"/><stop offset="11.1%" stop-color="#ebed75"/><stop offset="13.3%" stop-color="#f3e76c"/><stop offset="15.6%" stop-color="#f6da64"/><stop offset="17.8%" stop-color="#f9ce5c"/><stop offset="20%" stop-color="#fac758"/><stop offset="22.2%" stop-color="#fac154"/><stop offset="24.4%" stop-color="#fabb51"/><stop offset="26.7%" stop-color="#f9b54d"/><stop offset="28.9%" stop-color="#f9ae49"/><stop offset="31.1%" stop-color="#f8a548"/><stop offset="33.3%" stop-color="#f79c48"/><stop offset="35.6%" stop-color="#f69448"/><stop offset="37.8%" stop-color="#f58d48"/><stop offset="40%" stop-color="#f48648"/><stop offset="42.2%" stop-color="#f16d4a"/><stop offset="44.4%" stop-color="#ef554b"/><stop offset="46.7%" stop-color="#ee4f4d"/><stop offset="48.9%" stop-color="#ef5352"/><stop offset="51.1%" stop-color="#ef5353"/><stop offset="53.3%" stop-color="#ef5353"/><stop offset="55.6%" stop-color="#ef5454"/><stop offset="57.8%" stop-color="#ef5454"/><stop offset="60%" stop-color="#ef5555"/><stop offset="62.2%" stop-color="#ef5556"/><stop offset="64.4%" stop-color="#ef5556"/><stop offset="66.7%" stop-color="#ef5555"/><stop offset="68.9%" stop-color="#ef5455"/><stop offset="71.1%" stop-color="#ef5454"/><stop offset="73.3%" stop-color="#ef5454"/><stop offset="75.6%" stop-color="#ef5555"/><stop offset="77.8%" stop-color="#ef5556"/><stop offset="80%" stop-color="#ef5454"/><stop offset="82.2%" stop-color="#ef5353"/><stop offset="84.4%" stop-color="#ef5252"/><stop offset="86.7%" stop-color="#ee4f4e"/><stop offset="88.9%" stop-color="#ef564b"/><stop offset="91.1%" stop-color="#f0604b"/><stop offset="93.3%" stop-color="#f17249"/><stop offset="95.6%" stop-color="#f38448"/><stop offset="97.8%" stop-color="#f59148"/><stop offset="100%" stop-color="#f79d48"/></linearGradient>
<linearGradient id="h32" x1="0" x2="1" y1="0" y2="0"><stop offset="0%" stop-color="#62dece"/><stop offset="2.2%" stop-color="#6ee2c1"/><stop offset="4.4%" stop-color="#86e8b3"/><stop offset="6.7%" stop-color="#abee9e"/><stop offset="8.9%" stop-color="#cbf08a"/><stop offset="11.1%" stop-color="#e7ed77"/><stop offset="13.3%" stop-color="#f3e96e"/><stop offset="15.6%" stop-color="#f6dc65"/><stop offset="17.8%" stop-color="#f8cf5d"/><stop offset="20%" stop-color="#fac858"/><stop offset="22.2%" stop-color="#fac255"/><stop offset="24.4%" stop-color="#fabc51"/><stop offset="26.7%" stop-color="#f9b64e"/><stop offset="28.9%" stop-color="#f9af49"/><stop offset="31.1%" stop-color="#f8a648"/><stop offset="33.3%" stop-color="#f79d48"/><stop offset="35.6%" stop-color="#f69648"/><stop offset="37.8%" stop-color="#f58e48"/><stop offset="40%" stop-color="#f48648"/><stop offset="42.2%" stop-color="#f16e4a"/><stop offset="44.4%" stop-color="#ef554b"/><stop offset="46.7%" stop-color="#ee4f4d"/><stop offset="48.9%" stop-color="#ef5352"/><stop offset="51.1%" stop-color="#ef5353"/><stop offset="53.3%" stop-color="#ef5454"/><stop offset="55.6%" stop-color="#ef5555"/><stop offset="57.8%" stop-color="#ef5556"/><stop offset="60%" stop-color="#ef5657"/><stop offset="62.2%" stop-color="#ef5758"/><stop offset="64.4%" stop-color="#ef5758"/><stop offset="66.7%" stop-color="#ef5758"/><stop offset="68.9%" stop-color="#ef5758"/><stop offset="71.1%" stop-color="#ef5657"/><stop offset="73.3%" stop-color="#ef5758"/><stop offset="75.6%" stop-color="#ef5759"/><stop offset="77.8%" stop-color="#ef585a"/><stop offset="80%" stop-color="#ef5859"/><stop offset="82.2%" stop-color="#ef5758"/><stop offset="84.4%" stop-color="#ef5657"/><stop offset="86.7%" stop-color="#ef5454"/><stop offset="88.9%" stop-color="#ee4f4d"/><stop offset="91.1%" stop-color="#ef564b"/><stop offset="93.3%" stop-color="#f1694a"/><stop offset="95.6%" stop-color="#f27c48"/><stop offset="97.8%" stop-color="#f48b48"/><stop offset="100%" stop-color="#f69a48"/></linearGradient>
<linearGradient id="h33" x1="0" x2="1" y1="0" y2="0"><stop offset="0%" stop-color="#5fddd2"/><stop offset="2.2%" stop-color="#6ae1c5"/><stop offset="4.4%" stop-color="#80e7b6"/><stop offset="6.7%" stop-color="#a3eda2"/><stop offset="8.9%" stop-color="#c5f08e"/><stop offset="11.1%" stop-color="#e3ed7a"/><stop offset="13.3%" stop-color="#f2eb6f"/><stop offset="15.6%" stop-color="#f5dd66"/><stop offset="17.8%" stop-color="#f8d05d"/><stop offset="20%" stop-color="#fac959"/><stop offset="22.2%" stop-color="#fac355"/><stop offset="24.4%" stop-color="#fabd52"/><stop offset="26.7%" stop-color="#f9b74e"/><stop offset="28.9%" stop-color="#f9b04a"/><stop offset="31.1%" stop-color="#f8a848"/><stop offset="33.3%" stop-color="#f79f48"/><stop offset="35.6%" stop-color="#f69748"/><stop offset="37.8%" stop-color="#f58f48"/><stop offset="40%" stop-color="#f48748"/><stop offset="42.2%" stop-color="#f16e4a"/><stop offset="44.4%" stop-color="#ef554b"/><stop offset="46.7%" stop-color="#ee4f4d"/><stop offset="48.9%" stop-color="#ef5352"/><stop offset="51.1%" stop-color="#ef5454"/><stop offset="53.3%" stop-color="#ef5455"/><stop offset="55.6%" stop-color="#ef5556"/><stop offset="57.8%" stop-color="#ef5657"/><stop offset="60%" stop-color="#ef5758"/><stop offset="62.2%" stop-color="#ef585a"/><stop offset="64.4%" stop-color="#f0595b"/><stop offset="66.7%" stop-color="#f0595b"/><stop offset="68.9%" stop-color="#f0595b"/><stop offset="71.1%" stop-color="#f0595a"/><stop offset="73.3%" stop-color="#f0595b"/><stop offset="75.6%" stop-color="#f05a5c"/><stop offset="77.8%" stop-color="#f05b5e"/><stop offset="80%" stop-color="#f05b5e"/><stop offset="82.2%" stop-color="#f05b5d"/><stop offset="84.4%" stop-color="#f05a5d"/><stop offset="86.7%" stop-color="#ef5859"/><stop offset="88.9%" stop-color="#ef5353"/><stop offset="91.1%" stop-color="#ee4f4d"/><stop offset="93.3%" stop-color="#f0604b"/><stop offset="95.6%" stop-color="#f27549"/><stop offset="97.8%" stop-color="#f38548"/><stop offset="100%" stop-color="#f69648"/></linearGradient>
<linearGradient id="h34" x1="0" x2="1" y1="0" y2="0"><stop offset="0%" stop-color="#5cdcd5"/><stop offset="2.2%" stop-color="#66e0c9"/><stop offset="4.4%" stop-color="#7ae5b9"/><stop offset="6.7%" stop-color="#9beca7"/><stop offset="8.9%" stop-color="#c0ef91"/><stop offset="11.1%" stop-color="#e0ee7c"/><stop offset="13.3%" stop-color="#f1ec71"/><stop offset="15.6%" stop-color="#f5de67"/><stop offset="17.8%" stop-color="#f8d15e"/><stop offset="20%" stop-color="#faca5a"/><stop offset="22.2%" stop-color="#fac456"/><stop offset="24.4%" stop-color="#fabe52"/><stop offset="26.7%" stop-color="#f9b84f"/><stop offset="28.9%" stop-color="#f9b14b"/><stop offset="31.1%" stop-color="#f9a948"/><stop offset="33.3%" stop-color="#f7a048"/><stop offset="35.6%" stop-color="#f69848"/><stop offset="37.8%" stop-color="#f59048"/><stop offset="40%" stop-color="#f48848"/><stop offset="42.2%" stop-color="#f16e4a"/><stop offset="44.4%" stop-color="#ef554b"/><stop offset="46.7%" stop-color="#ee4f4d"/><stop offset="48.9%" stop-color="#ef5352"/><stop offset="51.1%" stop-color="#ef5454"/><stop offset="53.3%" stop-color="#ef5556"/><stop offset="55.6%" stop-color="#ef5657"/><stop offset="57.8%" stop-color="#ef5759"/><stop offset="60%" stop-color="#f0585a"/><stop offset="62.2%" stop-color="#f05a5c"/><stop offset="64.4%" stop-color="#f05b5d"/><stop offset="66.7%" stop-color="#f05b5d"/><stop offset="68.9%" stop-color="#f05b5d"/><stop offset="71.1%" stop-color="#f05b5d"/><stop offset="73.3%" stop-color="#f05c5e"/><stop offset="75.6%" stop-color="#f05d60"/><stop offset="77.8%" stop-color="#f05e62"/><stop offset="80%" stop-color="#f05e62"/><stop offset="82.2%" stop-color="#f05e62"/><stop offset="84.4%" stop-color="#f05e62"/><stop offset="86.7%" stop-color="#f05c5f"/><stop offset="88.9%" stop-color="#ef585a"/><stop offset="91.1%" stop-color="#ef5454"/><stop offset="93.3%" stop-color="#ef574b"/><stop offset="95.6%" stop-color="#f16d4a"/><stop offset="97.8%" stop-color="#f38048"/><stop offset="100%" stop-color="#f59248"/></linearGradient>
<linearGradient id="h35" x1="0" x2="1" y1="0" y2="0"><stop offset="0%" stop-color="#5adcd8"/><stop offset="2.2%" stop-color="#63decd"/><stop offset="4.4%" stop-color="#74e3bd"/><stop offset="6.7%" stop-color="#94ebab"/><stop offset="8.9%" stop-color="#baef94"/><stop offset="11.1%" stop-color="#dcee7f"/><stop offset="13.3%" stop-color="#efec72"/><stop offset="15.6%" stop-color="#f5e068"/><stop offset="17.8%" stop-color="#f8d25f"/><stop offset="20%" stop-color="#f9cb5a"/><stop offset="22.2%" stop-color="#fac556"/><stop offset="24.4%" stop-color="#fabf53"/><stop offset="26.7%" stop-color="#f9b94f"/><stop offset="28.9%" stop-color="#f9b24b"/><stop offset="31.1%" stop-color="#f9aa48"/><stop offset="33.3%" stop-color="#f8a248"/><stop offset="35.6%" stop-color="#f69948"/><stop offset="37.8%" stop-color="#f59148"/><stop offset="40%" stop-color="#f48948"/><stop offset="42.2%" stop-color="#f16f49"/><stop offset="44.4%" stop-color="#ef554b"/><stop offset="46.7%" stop-color="#ee4f4d"/><stop offset="48.9%" stop-color="#ef5352"/><stop offset="51.1%" stop-color="#ef5454"/><stop offset="53.3%" stop-color="#ef5656"/><stop offset="55.6%" stop-color="#ef5758"/><stop offset="57.8%" stop-color="#ef585a"/><stop offset="60%" stop-color="#f05a5c"/><stop offset="62.2%" stop-color="#f05b5e"/><stop offset="64.4%" stop-color="#f05d60"/><stop offset="66.7%" stop-color="#f05d60"/><stop offset="68.9%" stop-color="#f05d60"/><stop offset="71.1%" stop-color="#f05d60"/><stop offset="73.3%" stop-color="#f05e62"/><stop offset="75.6%" stop-color="#f16064"/><stop offset="77.8%" stop-color="#f16166"/><stop offset="80%" stop-color="#f16267"/><stop offset="82.2%" stop-color="#f16267"/><stop offset="84.4%" stop-color="#f16268"/><stop offset="86.7%" stop-color="#f16165"/><stop offset="88.9%" stop-color="#f05d60"/><stop offset="91.1%" stop-color="#f0595b"/><stop offset="93.3%" stop-color="#ee4f4c"/><stop offset="95.6%" stop-color="#f0654a"/><stop offset="97.8%" stop-color="#f27a49"/><stop offset="100%" stop-color="#f58f48"/></linearGradient>
<linearGradient id="h36" x1="0" x2="1" y1="0" y2="0"><stop offset="0%" stop-color="#57dbdc"/><stop offset="2.2%" stop-color="#5fddd1"/><stop offset="4.4%" stop-color="#6ee2c0"/><stop offset="6.7%" stop-color="#8eeaaf"/><stop offset="8.9%" stop-color="#b5ee98"/><stop offset="11.1%" stop-color="#d8ee81"/><stop offset="13.3%" stop-color="#eced74"/><stop offset="15.6%" stop-color="#f4e169"/><stop offset="17.8%" stop-color="#f8d35f"/><stop offset="20%" stop-color="#f9cc5b"/><stop offset="22.2%" stop-color="#fac657"/><stop offset="24.4%" stop-color="#fac053"/><stop offset="26.7%" stop-color="#f9ba50"/><stop offset="28.9%" stop-color="#f9b34c"/><stop offset="31.1%" stop-color="#f9ac48"/><stop offset="33.3%" stop-color="#f8a348"/><stop offset="35.6%" stop-color="#f79b48"/><stop offset="37.8%" stop-color="#f59248"/><stop offset="40%" stop-color="#f48948"/><stop offset="42.2%" stop-color="#f16f49"/><stop offset="44.4%" stop-color="#ef554b"/><stop offset="46.7%" stop-color="#ee4f4d"/><stop offset="48.9%" stop-color="#ef5352"/><stop offset="51.1%" stop-color="#ef5455"/><stop offset="53.3%" stop-color="#ef5657"/><stop offset="55.6%" stop-color="#ef5859"/><stop offset="57.8%" stop-color="#f0595b"/><stop offset="60%" stop-color="#f05b5e"/><stop offset="62.2%" stop-color="#f05d60"/><stop offset="64.4%" stop-color="#f05e62"/><stop offset="66.7%" stop-color="#f05f63"/><stop offset="68.9%" stop-color="#f05f63"/><stop offset="71.1%" stop-color="#f05f64"/><stop offset="73.3%" stop-color="#f16165"/><stop offset="75.6%" stop-color="#f16368"/><stop offset="77.8%" stop-color="#f1656b"/><stop offset="80%" stop-color="#f1656b"/><stop offset="82.2%" stop-color="#f1666c"/><stop offset="84.4%" stop-color="#f1666d"/><stop offset="86.7%" stop-color="#f1656b"/><stop offset="88.9%" stop-color="#f16166"/><stop offset="91.1%" stop-color="#f05e61"/><stop offset="93.3%" stop-color="#ef5252"/><stop offset="95.6%" stop-color="#ef5d4b"/><stop offset="97.8%" stop-color="#f27449"/><stop offset="100%" stop-color="#f48b48"/></linearGradient>
<linearGradient id="h37" x1="0" x2="1" y1="0" y2="0"><stop offset="0%" stop-color="#54d9de"/><stop offset="2.2%" stop-color="#5cdcd6"/><stop offset="4.4%" stop-color="#6ae1c5"/><stop offset="6.7%" stop-color="#87e8b2"/><stop offset="8.9%" stop-color="#afee9b"/><stop offset="11.1%" stop-color="#d5ef84"/><stop offset="13.3%" stop-color="#eaed75"/><stop offset="15.6%" stop-color="#f4e26a"/><stop offset="17.8%" stop-color="#f7d460"/><stop offset="20%" stop-color="#f9cd5c"/><stop offset="22.2%" stop-color="#fac757"/><stop offset="24.4%" stop-color="#fac154"/><stop offset="26.7%" stop-color="#fabb50"/><stop offset="28.9%" stop-color="#f9b44c"/><stop offset="31.1%" stop-color="#f9ad49"/><stop offset="33.3%" stop-color="#f8a548"/><stop offset="35.6%" stop-color="#f79c48"/><stop offset="37.8%" stop-color="#f59348"/><stop offset="40%" stop-color="#f48a48"/><stop offset="42.2%" stop-color="#f17049"/><stop offset="44.4%" stop-color="#ef554b"/><stop offset="46.7%" stop-color="#ee4f4d"/><stop offset="48.9%" stop-color="#ef5352"/><stop offset="51.1%" stop-color="#ef5555"/><stop offset="53.3%" stop-color="#ef5758"/><stop offset="55.6%" stop-color="#f0585a"/><stop offset="57.8%" stop-color="#f05a5d"/><stop offset="60%" stop-color="#f05c60"/><stop offset="62.2%" stop-color="#f05e62"/><stop offset="64.4%" stop-color="#f16065"/><stop offset="66.7%" stop-color="#f16165"/><stop offset="68.9%" stop-color="#f16166"/><stop offset="71.1%" stop-color="#f16267"/><stop offset="73.3%" stop-color="#f16368"/><stop offset="75.6%" stop-color="#f1656c"/><stop offset="77.8%" stop-color="#f2686f"/><stop offset="80%" stop-color="#f26970"/><stop offset="82.2%" stop-color="#f26971"/><stop offset="84.4%" stop-color="#f26b73"/><stop offset="86.7%" stop-color="#f26971"/><stop offset="88.9%" stop-color="#f1666c"/><stop offset="91.1%" stop-color="#f16368"/><stop offset="93.3%" stop-color="#ef5758"/><stop offset="95.6%" stop-color="#ef554b"/><stop offset="97.8%" stop-color="#f16e4a"/><stop offset="100%" stop-color="#f48748"/></linearGradient>
<linearGradient id="h38" x1="0" x2="1" y1="0" y2="0"><stop offset="0%" stop-color="#53d6e0"/><stop offset="2.2%" stop-color="#58dbda"/><stop offset="4.4%" stop-color="#66dfca"/><stop offset="6.7%" stop-color="#81e7b5"/><stop offset="8.9%" stop-color="#aaee9e"/><stop offset="11.1%" stop-color="#d1ef86"/><stop offset="13.3%" stop-color="#e8ed77"/><stop offset="15.6%" stop-color="#f4e46b"/><stop offset="17.8%" stop-color="#f7d561"/><stop offset="20%" stop-color="#f9ce5c"/><stop offset="22.2%" stop-color="#fac858"/><stop offset="24.4%" stop-color="#fac254"/><stop offset="26.7%" stop-color="#fabc51"/><stop offset="28.9%" stop-color="#f9b54d"/><stop offset="31.1%" stop-color="#f9ae49"/><stop offset="33.3%" stop-color="#f8a748"/><stop offset="35.6%" stop-color="#f79d48"/><stop offset="37.8%" stop-color="#f69448"/><stop offset="40%" stop-color="#f48b48"/><stop offset="42.2%" stop-color="#f17049"/><stop offset="44.4%" stop-color="#ef554b"/><stop offset="46.7%" stop-color="#ee4f4d"/><stop offset="48.9%" stop-color="#ef5352"/><stop offset="51.1%" stop-color="#ef5555"/><stop offset="53.3%" stop-color="#ef5758"/><stop offset="55.6%" stop-color="#f0595b"/><stop offset="57.8%" stop-color="#f05b5e"/><stop offset="60%" stop-color="#f05e61"/><stop offset="62.2%" stop-color="#f16064"/><stop offset="64.4%" stop-color="#f16267"/><stop offset="66.7%" stop-color="#f16368"/><stop offset="68.9%" stop-color="#f16369"/><stop offset="71.1%" stop-color="#f1646a"/><stop offset="73.3%" stop-color="#f1656c"/><stop offset="75.6%" stop-color="#f2686f"/><stop offset="77.8%" stop-color="#f26b73"/><stop offset="80%" stop-color="#f26e76"/><stop offset="82.2%" stop-color="#f27078"/><stop offset="84.4%" stop-color="#f3727a"/><stop offset="86.7%" stop-color="#f27178"/><stop offset="88.9%" stop-color="#f26b73"/><stop offset="91.1%" stop-color="#f2686f"/><stop offset="93.3%" stop-color="#f05b5e"/><stop offset="95.6%" stop-color="#ee4e4d"/><stop offset="97.8%" stop-color="#f1694a"/><stop offset="100%" stop-color="#f38448"/></linearGradient>
<linearGradient id="h39" x1="0" x2="1" y1="0" y2="0"><stop offset="0%" stop-color="#4fd0e3"/><stop offset="2.2%" stop-color="#53d7e0"/><stop offset="4.4%" stop-color="#5fddd2"/><stop offset="6.7%" stop-color="#76e4bb"/><stop offset="8.9%" stop-color="#9deda6"/><stop offset="11.1%" stop-color="#c4f08e"/><stop offset="13.3%" stop-color="#dfee7d"/><stop offset="15.6%" stop-color="#f3e96e"/><stop offset="17.8%" stop-color="#f6d963"/><stop offset="20%" stop-color="#f8d15e"/><stop offset="22.2%" stop-color="#faca59"/><stop offset="24.4%" stop-color="#fac355"/><stop offset="26.7%" stop-color="#fabd52"/><stop offset="28.9%" stop-color="#f9b64e"/><stop offset="31.1%" stop-color="#f9b04a"/><stop offset="33.3%" stop-color="#f8a848"/><stop offset="35.6%" stop-color="#f79f48"/><stop offset="37.8%" stop-color="#f69548"/><stop offset="40%" stop-color="#f48b48"/><stop offset="42.2%" stop-color="#f17049"/><stop offset="44.4%" stop-color="#ef554b"/><stop offset="46.7%" stop-color="#ee4f4d"/><stop offset="48.9%" stop-color="#ef5353"/><stop offset="51.1%" stop-color="#ef5657"/><stop offset="53.3%" stop-color="#ef585a"/><stop offset="55.6%" stop-color="#f05b5e"/><stop offset="57.8%" stop-color="#f05e61"/><stop offset="60%" stop-color="#f16065"/><stop offset="62.2%" stop-color="#f16368"/><stop offset="64.4%" stop-color="#f1666c"/><stop offset="66.7%" stop-color="#f1666d"/><stop offset="68.9%" stop-color="#f2676e"/><stop offset="71.1%" stop-color="#f2686f"/><stop offset="73.3%" stop-color="#f26a72"/><stop offset="75.6%" stop-color="#f27078"/><stop offset="77.8%" stop-color="#f3767d"/><stop offset="80%" stop-color="#f37880"/><stop offset="82.2%" stop-color="#f37b82"/><stop offset="84.4%" stop-color="#f37d85"/><stop offset="86.7%" stop-color="#f37c83"/><stop offset="88.9%" stop-color="#f3777f"/><stop offset="91.1%" stop-color="#f3727a"/><stop offset="93.3%" stop-color="#f16165"/><stop offset="95.6%" stop-color="#ef5353"/><stop offset="97.8%" stop-color="#f0624a"/><stop offset="100%" stop-color="#f38048"/></linearGradient>
<linearGradient id="h40" x1="0" x2="1" y1="0" y2="0"><stop offset="0%" stop-color="#49c7e8"/><stop offset="2.2%" stop-color="#4dcee5"/><stop offset="4.4%" stop-color="#56dadd"/><stop offset="6.7%" stop-color="#69e1c6"/><stop offset="8.9%" stop-color="#8ae9b0"/><stop offset="11.1%" stop-color="#b0ee9a"/><stop offset="13.3%" stop-color="#d0ef87"/><stop offset="15.6%" stop-color="#ebed74"/><stop offset="17.8%" stop-color="#f5df67"/><stop offset="20%" stop-color="#f7d662"/><stop offset="22.2%" stop-color="#f9ce5c"/><stop offset="24.4%" stop-color="#fac657"/><stop offset="26.7%" stop-color="#fabf53"/><stop offset="28.9%" stop-color="#f9b84f"/><stop offset="31.1%" stop-color="#f9b14b"/><stop offset="33.3%" stop-color="#f9aa48"/><stop offset="35.6%" stop-color="#f7a048"/><stop offset="37.8%" stop-color="#f69648"/><stop offset="40%" stop-color="#f48b48"/><stop offset="42.2%" stop-color="#f17049"/><stop offset="44.4%" stop-color="#ef554b"/><stop offset="46.7%" stop-color="#ee504e"/><stop offset="48.9%" stop-color="#ef5555"/><stop offset="51.1%" stop-color="#ef5859"/><stop offset="53.3%" stop-color="#f05b5d"/><stop offset="55.6%" stop-color="#f05e61"/><stop offset="57.8%" stop-color="#f16166"/><stop offset="60%" stop-color="#f1646a"/><stop offset="62.2%" stop-color="#f2676f"/><stop offset="64.4%" stop-color="#f26b73"/><stop offset="66.7%" stop-color="#f26e76"/><stop offset="68.9%" stop-color="#f27078"/><stop offset="71.1%" stop-color="#f3727a"/><stop offset="73.3%" stop-color="#f3777f"/><stop offset="75.6%" stop-color="#f37e85"/><stop offset="77.8%" stop-color="#f4848c"/><stop offset="80%" stop-color="#f4878e"/><stop offset="82.2%" stop-color="#f48990"/><stop offset="84.4%" stop-color="#f58c93"/><stop offset="86.7%" stop-color="#f48b92"/><stop offset="88.9%" stop-color="#f4868e"/><stop offset="91.1%" stop-color="#f48289"/><stop offset="93.3%" stop-color="#f2676e"/><stop offset="95.6%" stop-color="#ef585a"/><stop offset="97.8%" stop-color="#ef5b4b"/><stop offset="100%" stop-color="#f27c48"/></linearGradient>
<linearGradient id="h41" x1="0" x2="1" y1="0" y2="0"><stop offset="0%" stop-color="#44bdec"/><stop offset="2.2%" stop-color="#48c4ea"/><stop offset="4.4%" stop-color="#50d2e3"/><stop offset="6.7%" stop-color="#60ddd1"/><stop offset="8.9%" stop-color="#79e5ba"/><stop offset="11.1%" stop-color="#9ceca7"/><stop offset="13.3%" stop-color="#c1ef90"/><stop offset="15.6%" stop-color="#e1ee7b"/><stop offset="17.8%" stop-color="#f4e56b"/><stop offset="20%" stop-color="#f6db65"/><stop offset="22.2%" stop-color="#f8d15e"/><stop offset="24.4%" stop-color="#fac959"/><stop offset="26.7%" stop-color="#fac254"/><stop offset="28.9%" stop-color="#faba50"/><stop offset="31.1%" stop-color="#f9b34c"/><stop offset="33.3%" stop-color="#f9ac48"/><stop offset="35.6%" stop-color="#f7a148"/><stop offset="37.8%" stop-color="#f69648"/><stop offset="40%" stop-color="#f48b48"/><stop offset="42.2%" stop-color="#f17049"/><stop offset="44.4%" stop-color="#ef554b"/><stop offset="46.7%" stop-color="#ee504f"/><stop offset="48.9%" stop-color="#ef5657"/><stop offset="51.1%" stop-color="#f0595b"/><stop offset="53.3%" stop-color="#f05d60"/><stop offset="55.6%" stop-color="#f16065"/><stop offset="57.8%" stop-color="#f1646a"/><stop offset="60%" stop-color="#f2686f"/><stop offset="62.2%" stop-color="#f26e76"/><stop offset="64.4%" stop-color="#f3757d"/><stop offset="66.7%" stop-color="#f37880"/><stop offset="68.9%" stop-color="#f37b83"/><stop offset="71.1%" stop-color="#f47e86"/><stop offset="73.3%" stop-color="#f4848b"/><stop offset="75.6%" stop-color="#f58b92"/><stop offset="77.8%" stop-color="#f5939a"/><stop offset="80%" stop-color="#f5969c"/><stop offset="82.2%" stop-color="#f5989f"/><stop offset="84.4%" stop-color="#f69ba1"/><stop offset="86.7%" stop-color="#f69aa0"/><stop offset="88.9%" stop-color="#f5969c"/><stop offset="91.1%" stop-color="#f59299"/><stop offset="93.3%" stop-color="#f3727a"/><stop offset="95.6%" stop-color="#f05d61"/><stop offset="97.8%" stop-color="#ef544c"/><stop offset="100%" stop-color="#f27849"/></linearGradient>
<linearGradient id="h42" x1="0" x2="1" y1="0" y2="0"><stop offset="0%" stop-color="#3fb3ee"/><stop offset="2.2%" stop-color="#42baed"/><stop offset="4.4%" stop-color="#4ac8e8"/><stop offset="6.7%" stop-color="#56dadd"/><stop offset="8.9%" stop-color="#6be1c4"/><stop offset="11.1%" stop-color="#8ae9b0"/><stop offset="13.3%" stop-color="#b3ee98"/><stop offset="15.6%" stop-color="#d7ef82"/><stop offset="17.8%" stop-color="#f2eb70"/><stop offset="20%" stop-color="#f5e068"/><stop offset="22.2%" stop-color="#f7d561"/><stop offset="24.4%" stop-color="#f9cc5b"/><stop offset="26.7%" stop-color="#fac456"/><stop offset="28.9%" stop-color="#fabc51"/><stop offset="31.1%" stop-color="#f9b54d"/><stop offset="33.3%" stop-color="#f9ae49"/><stop offset="35.6%" stop-color="#f8a348"/><stop offset="37.8%" stop-color="#f69748"/><stop offset="40%" stop-color="#f48b48"/><stop offset="42.2%" stop-color="#f17049"/><stop offset="44.4%" stop-color="#ef554b"/><stop offset="46.7%" stop-color="#ee5150"/><stop offset="48.9%" stop-color="#ef5758"/><stop offset="51.1%" stop-color="#f05b5e"/><stop offset="53.3%" stop-color="#f05f63"/><stop offset="55.6%" stop-color="#f16368"/><stop offset="57.8%" stop-color="#f2676e"/><stop offset="60%" stop-color="#f26e76"/><stop offset="62.2%" stop-color="#f3767e"/><stop offset="64.4%" stop-color="#f47f86"/><stop offset="66.7%" stop-color="#f4838a"/><stop offset="68.9%" stop-color="#f4868e"/><stop offset="71.1%" stop-color="#f48a91"/><stop offset="73.3%" stop-color="#f59097"/><stop offset="75.6%" stop-color="#f699a0"/><stop offset="77.8%" stop-color="#f6a2a8"/><stop offset="80%" stop-color="#f6a4aa"/><stop offset="82.2%" stop-color="#f7a7ad"/><stop offset="84.4%" stop-color="#f7a9af"/><stop offset="86.7%" stop-color="#f7a9af"/><stop offset="88.9%" stop-color="#f6a5ab"/><stop offset="91.1%" stop-color="#f6a2a8"/><stop offset="93.3%" stop-color="#f47f86"/><stop offset="95.6%" stop-color="#f16268"/><stop offset="97.8%" stop-color="#ee4f4d"/><stop offset="100%" stop-color="#f27449"/></linearGradient>
<linearGradient id="h43" x1="0" x2="1" y1="0" y2="0"><stop offset="0%" stop-color="#3aa9ef"/><stop offset="2.2%" stop-color="#3db0ee"/><stop offset="4.4%" stop-color="#44beec"/><stop offset="6.7%" stop-color="#50d1e3"/><stop offset="8.9%" stop-color="#5fddd2"/><stop offset="11.1%" stop-color="#77e4bb"/><stop offset="13.3%" stop-color="#9feda4"/><stop offset="15.6%" stop-color="#c7f08d"/><stop offset="17.8%" stop-color="#e8ed77"/><stop offset="20%" stop-color="#f3e86e"/><stop offset="22.2%" stop-color="#f6dc65"/><stop offset="24.4%" stop-color="#f8d15e"/><stop offset="26.7%" stop-color="#fac757"/><stop offset="28.9%" stop-color="#fabf53"/><stop offset="31.1%" stop-color="#f9b84f"/><stop offset="33.3%" stop-color="#f9b04a"/><stop offset="35.6%" stop-color="#f8a448"/><stop offset="37.8%" stop-color="#f69748"/><stop offset="40%" stop-color="#f48b48"/><stop offset="42.2%" stop-color="#f16f49"/><stop offset="44.4%" stop-color="#ef544c"/><stop offset="46.7%" stop-color="#ef5251"/><stop offset="48.9%" stop-color="#f0595b"/><stop offset="51.1%" stop-color="#f05e61"/><stop offset="53.3%" stop-color="#f16368"/><stop offset="55.6%" stop-color="#f2686f"/><stop offset="57.8%" stop-color="#f26e76"/><stop offset="60%" stop-color="#f3777f"/><stop offset="62.2%" stop-color="#f48087"/><stop offset="64.4%" stop-color="#f48990"/><stop offset="66.7%" stop-color="#f58c93"/><stop offset="68.9%" stop-color="#f59096"/><stop offset="71.1%" stop-color="#f5939a"/><stop offset="73.3%" stop-color="#f699a0"/><stop offset="75.6%" stop-color="#f6a2a8"/><stop offset="77.8%" stop-color="#f7abb1"/><stop offset="80%" stop-color="#f7aeb4"/><stop offset="82.2%" stop-color="#f7b1b6"/><stop offset="84.4%" stop-color="#f8b3b9"/><stop offset="86.7%" stop-color="#f8b4b9"/><stop offset="88.9%" stop-color="#f7b1b7"/><stop offset="91.1%" stop-color="#f7aeb4"/><stop offset="93.3%" stop-color="#f48a91"/><stop offset="95.6%" stop-color="#f2686f"/><stop offset="97.8%" stop-color="#ef5352"/><stop offset="100%" stop-color="#f16f49"/></linearGradient>
<linearGradient id="h44" x1="0" x2="1" y1="0" y2="0"><stop offset="0%" stop-color="#359def"/><stop offset="2.2%" stop-color="#38a4f0"/><stop offset="4.4%" stop-color="#3fb2ee"/><stop offset="6.7%" stop-color="#4ac8e8"/><stop offset="8.9%" stop-color="#54d9df"/><stop offset="11.1%" stop-color="#67e0c8"/><stop offset="13.3%" stop-color="#8deaaf"/><stop offset="15.6%" stop-color="#b7ef96"/><stop offset="17.8%" stop-color="#dcee7f"/><stop offset="20%" stop-color="#eded74"/><stop offset="22.2%" stop-color="#f4e269"/><stop offset="24.4%" stop-color="#f7d661"/><stop offset="26.7%" stop-color="#faca59"/><stop offset="28.9%" stop-color="#fac254"/><stop offset="31.1%" stop-color="#faba50"/><stop offset="33.3%" stop-color="#f9b24c"/><stop offset="35.6%" stop-color="#f8a548"/><stop offset="37.8%" stop-color="#f69848"/><stop offset="40%" stop-color="#f48a48"/><stop offset="42.2%" stop-color="#f16f49"/><stop offset="44.4%" stop-color="#ef534c"/><stop offset="46.7%" stop-color="#ef5353"/><stop offset="48.9%" stop-color="#f05b5d"/><stop offset="51.1%" stop-color="#f16165"/><stop offset="53.3%" stop-color="#f2676e"/><stop offset="55.6%" stop-color="#f26f77"/><stop offset="57.8%" stop-color="#f37880"/><stop offset="60%" stop-color="#f48188"/><stop offset="62.2%" stop-color="#f48a91"/><stop offset="64.4%" stop-color="#f59399"/><stop offset="66.7%" stop-color="#f5959c"/><stop offset="68.9%" stop-color="#f6989f"/><stop offset="71.1%" stop-color="#f69ba2"/><stop offset="73.3%" stop-color="#f6a1a7"/><stop offset="75.6%" stop-color="#f7aab0"/><stop offset="77.8%" stop-color="#f8b1b7"/><stop offset="80%" stop-color="#f8b5bb"/><stop offset="82.2%" stop-color="#f8b9be"/><stop offset="84.4%" stop-color="#f9bdc2"/><stop offset="86.7%" stop-color="#f9bdc3"/><stop offset="88.9%" stop-color="#f8bbc0"/><stop offset="91.1%" stop-color="#f8b8be"/><stop offset="93.3%" stop-color="#f5969c"/><stop offset="95.6%" stop-color="#f26f77"/><stop offset="97.8%" stop-color="#ef5758"/><stop offset="100%" stop-color="#f16a4a"/></linearGradient>
<linearGradient id="h45" x1="0" x2="1" y1="0" y2="0"><stop offset="0%" stop-color="#3090ee"/><stop offset="2.2%" stop-color="#3297ee"/><stop offset="4.4%" stop-color="#39a6f0"/><stop offset="6.7%" stop-color="#43bced"/><stop offset="8.9%" stop-color="#4dcde5"/><stop offset="11.1%" stop-color="#5cdcd6"/><stop offset="13.3%" stop-color="#7de6b8"/><stop offset="15.6%" stop-color="#a8ed9f"/><stop offset="17.8%" stop-color="#d1ef86"/><stop offset="20%" stop-color="#e4ed79"/><stop offset="22.2%" stop-color="#f3e86d"/><stop offset="24.4%" stop-color="#f6da64"/><stop offset="26.7%" stop-color="#f9cd5b"/><stop offset="28.9%" stop-color="#fac456"/><stop offset="31.1%" stop-color="#fabc51"/><stop offset="33.3%" stop-color="#f9b44d"/><stop offset="35.6%" stop-color="#f8a748"/><stop offset="37.8%" stop-color="#f69848"/><stop offset="40%" stop-color="#f48948"/><stop offset="42.2%" stop-color="#f16e4a"/><stop offset="44.4%" stop-color="#ee524c"/><stop offset="46.7%" stop-color="#ef5454"/><stop offset="48.9%" stop-color="#f05d60"/><stop offset="51.1%" stop-color="#f16469"/><stop offset="53.3%" stop-color="#f26b73"/><stop offset="55.6%" stop-color="#f37980"/><stop offset="57.8%" stop-color="#f48189"/><stop offset="60%" stop-color="#f48a91"/><stop offset="62.2%" stop-color="#f5939a"/><stop offset="64.4%" stop-color="#f69ca3"/><stop offset="66.7%" stop-color="#f69fa5"/><stop offset="68.9%" stop-color="#f6a1a7"/><stop offset="71.1%" stop-color="#f6a3aa"/><stop offset="73.3%" stop-color="#f7a9af"/><stop offset="75.6%" stop-color="#f7b0b6"/><stop offset="77.8%" stop-color="#f8b7bd"/><stop offset="80%" stop-color="#f9bcc2"/><stop offset="82.2%" stop-color="#f9c1c7"/><stop offset="84.4%" stop-color="#fac7cc"/><stop offset="86.7%" stop-color="#fac8cd"/><stop offset="88.9%" stop-color="#f9c5ca"/><stop offset="91.1%" stop-color="#f9c2c7"/><stop offset="93.3%" stop-color="#f6a1a8"/><stop offset="95.6%" stop-color="#f37981"/><stop offset="97.8%" stop-color="#f05b5d"/><stop offset="100%" stop-color="#f0644a"/></linearGradient>
<linearGradient id="h46" x1="0" x2="1" y1="0" y2="0"><stop offset="0%" stop-color="#287feb"/><stop offset="2.2%" stop-color="#2b84ec"/><stop offset="4.4%" stop-color="#3193ee"/><stop offset="6.7%" stop-color="#3baaef"/><stop offset="8.9%" stop-color="#45c0ec"/><stop offset="11.1%" stop-color="#53d7df"/><stop offset="13.3%" stop-color="#71e3bf"/><stop offset="15.6%" stop-color="#9beca7"/><stop offset="17.8%" stop-color="#c9f08b"/><stop offset="20%" stop-color="#dfee7d"/><stop offset="22.2%" stop-color="#f3ea6e"/><stop offset="24.4%" stop-color="#f6dc65"/><stop offset="26.7%" stop-color="#f9ce5c"/><stop offset="28.9%" stop-color="#fac657"/><stop offset="31.1%" stop-color="#fabe52"/><stop offset="33.3%" stop-color="#f9b64e"/><stop offset="35.6%" stop-color="#f8a848"/><stop offset="37.8%" stop-color="#f69848"/><stop offset="40%" stop-color="#f48848"/><stop offset="42.2%" stop-color="#f16c4a"/><stop offset="44.4%" stop-color="#ee514c"/><stop offset="46.7%" stop-color="#ef5657"/><stop offset="48.9%" stop-color="#f05f63"/><stop offset="51.1%" stop-color="#f1666d"/><stop offset="53.3%" stop-color="#f37179"/><stop offset="55.6%" stop-color="#f47f86"/><stop offset="57.8%" stop-color="#f48990"/><stop offset="60%" stop-color="#f59399"/><stop offset="62.2%" stop-color="#f69ca3"/><stop offset="64.4%" stop-color="#f7a6ac"/><stop offset="66.7%" stop-color="#f7a8ae"/><stop offset="68.9%" stop-color="#f7a9af"/><stop offset="71.1%" stop-color="#f7aab0"/><stop offset="73.3%" stop-color="#f7afb5"/><stop offset="75.6%" stop-color="#f8b6bc"/><stop offset="77.8%" stop-color="#f9bdc3"/><stop offset="80%" stop-color="#f9c4c9"/><stop offset="82.2%" stop-color="#facbd0"/><stop offset="84.4%" stop-color="#fbd2d7"/><stop offset="86.7%" stop-color="#fbd4d8"/><stop offset="88.9%" stop-color="#fbd1d5"/><stop offset="91.1%" stop-color="#facdd2"/><stop offset="93.3%" stop-color="#f7aeb4"/><stop offset="95.6%" stop-color="#f4858c"/><stop offset="97.8%" stop-color="#f05f64"/><stop offset="100%" stop-color="#ef5d4b"/></linearGradient>
<linearGradient id="h47" x1="0" x2="1" y1="0" y2="0"><stop offset="0%" stop-color="#2069e8"/><stop offset="2.2%" stop-color="#2370e9"/><stop offset="4.4%" stop-color="#297feb"/><stop offset="6.7%" stop-color="#3295ee"/><stop offset="8.9%" stop-color="#3fb2ee"/><stop offset="11.1%" stop-color="#4ecee4"/><stop offset="13.3%" stop-color="#68e0c8"/><stop offset="15.6%" stop-color="#90ebad"/><stop offset="17.8%" stop-color="#c2ef90"/><stop offset="20%" stop-color="#daee80"/><stop offset="22.2%" stop-color="#f2eb6f"/><stop offset="24.4%" stop-color="#f5de66"/><stop offset="26.7%" stop-color="#f8d05d"/><stop offset="28.9%" stop-color="#fac758"/><stop offset="31.1%" stop-color="#fabf53"/><stop offset="33.3%" stop-color="#f9b74e"/><stop offset="35.6%" stop-color="#f8a848"/><stop offset="37.8%" stop-color="#f69848"/><stop offset="40%" stop-color="#f48748"/><stop offset="42.2%" stop-color="#f16b4a"/><stop offset="44.4%" stop-color="#ee4f4c"/><stop offset="46.7%" stop-color="#ef5859"/><stop offset="48.9%" stop-color="#f16267"/><stop offset="51.1%" stop-color="#f26971"/><stop offset="53.3%" stop-color="#f3777f"/><stop offset="55.6%" stop-color="#f4868d"/><stop offset="57.8%" stop-color="#f59097"/><stop offset="60%" stop-color="#f69ba1"/><stop offset="62.2%" stop-color="#f6a5ac"/><stop offset="64.4%" stop-color="#f7afb5"/><stop offset="66.7%" stop-color="#f7afb5"/><stop offset="68.9%" stop-color="#f7b0b6"/><stop offset="71.1%" stop-color="#f7b0b6"/><stop offset="73.3%" stop-color="#f8b4ba"/><stop offset="75.6%" stop-color="#f9bcc1"/><stop offset="77.8%" stop-color="#f9c4c9"/><stop offset="80%" stop-color="#faccd1"/><stop offset="82.2%" stop-color="#fbd5d9"/><stop offset="84.4%" stop-color="#fcdee2"/><stop offset="86.7%" stop-color="#fcdfe3"/><stop offset="88.9%" stop-color="#fcdce0"/><stop offset="91.1%" stop-color="#fbd8dd"/><stop offset="93.3%" stop-color="#f8b8bd"/><stop offset="95.6%" stop-color="#f59097"/><stop offset="97.8%" stop-color="#f1646a"/><stop offset="100%" stop-color="#ef564b"/></linearGradient>
<linearGradient id="cb" x1="0" x2="0" y1="0" y2="1"><stop offset="0%" stop-color="#fffbfb"/><stop offset="6.2%" stop-color="#fcdee2"/><stop offset="13.4%" stop-color="#f7acb2"/><stop offset="20.6%" stop-color="#f26a72"/><stop offset="26.3%" stop-color="#ee4e4c"/><stop offset="31.6%" stop-color="#f38248"/><stop offset="35.9%" stop-color="#f9ac48"/><stop offset="39.2%" stop-color="#fac858"/><stop offset="43.1%" stop-color="#f2ec70"/><stop offset="46.9%" stop-color="#c8f08c"/><stop offset="51.7%" stop-color="#96ecaa"/><stop offset="56.5%" stop-color="#6ee2c0"/><stop offset="61.2%" stop-color="#55dade"/><stop offset="66%" stop-color="#45c0ec"/><stop offset="70.8%" stop-color="#38a4f0"/><stop offset="78%" stop-color="#2474ea"/><stop offset="85.2%" stop-color="#0c28de"/><stop offset="100%" stop-color="#16166e"/></linearGradient>
<clipPath id="cb1"><rect x="717" y="71.7" width="193.8" height="333"/></clipPath>
<clipPath id="cb2"><rect x="927" y="71.7" width="292" height="333"/></clipPath>
<radialGradient id="atC" cx="0.4" cy="0.36" r="0.68"><stop offset="0" stop-color="#ddceA8"/><stop offset="0.55" stop-color="#a58f5c"/><stop offset="1" stop-color="#665736"/></radialGradient>
<radialGradient id="atH" cx="0.4" cy="0.36" r="0.68"><stop offset="0" stop-color="#ffffff"/><stop offset="0.55" stop-color="#efefef"/><stop offset="1" stop-color="#9c9c9c"/></radialGradient>
<radialGradient id="atN" cx="0.4" cy="0.36" r="0.68"><stop offset="0" stop-color="#7482ff"/><stop offset="0.55" stop-color="#1a28d6"/><stop offset="1" stop-color="#0a107a"/></radialGradient>
<radialGradient id="atO" cx="0.4" cy="0.36" r="0.68"><stop offset="0" stop-color="#ff8a90"/><stop offset="0.55" stop-color="#dc1c26"/><stop offset="1" stop-color="#860c12"/></radialGradient>
<radialGradient id="atB" cx="0.4" cy="0.36" r="0.68"><stop offset="0" stop-color="#ffdcdf"/><stop offset="0.55" stop-color="#eba2aa"/><stop offset="1" stop-color="#ae6670"/></radialGradient>
<radialGradient id="atF" cx="0.4" cy="0.36" r="0.68"><stop offset="0" stop-color="#a8f2ee"/><stop offset="0.55" stop-color="#38b4b4"/><stop offset="1" stop-color="#1a6e6e"/></radialGradient>
<linearGradient id="gPeach" x1="0" x2="0" y1="0" y2="1"><stop offset="0" stop-color="#f7c9ad"/><stop offset="1" stop-color="#f9d3bc"/></linearGradient>
<linearGradient id="gBlue" x1="0" x2="0" y1="0" y2="1"><stop offset="0" stop-color="#98c0e6"/><stop offset="1" stop-color="#a6c9ea"/></linearGradient>
<linearGradient id="gGrey" x1="0" x2="0" y1="0" y2="1"><stop offset="0" stop-color="#a8a8a8"/><stop offset="1" stop-color="#c0c0c0"/></linearGradient>
</defs>
<rect width="1244" height="1514" fill="#fff"/>
<g id="panelA">
<rect x="125" y="72" width="497.5" height="9" fill="url(#h0)"/>
<rect x="125" y="81" width="497.5" height="9" fill="url(#h1)"/>
<rect x="125" y="90" width="497.5" height="9" fill="url(#h2)"/>
<rect x="125" y="99" width="497.5" height="8" fill="url(#h3)"/>
<rect x="125" y="107" width="497.5" height="9" fill="url(#h4)"/>
<rect x="125" y="116" width="497.5" height="9" fill="url(#h5)"/>
<rect x="125" y="125" width="497.5" height="9" fill="url(#h6)"/>
<rect x="125" y="134" width="497.5" height="9" fill="url(#h7)"/>
<rect x="125" y="143" width="497.5" height="9" fill="url(#h8)"/>
<rect x="125" y="152" width="497.5" height="8" fill="url(#h9)"/>
<rect x="125" y="160" width="497.5" height="9" fill="url(#h10)"/>
<rect x="125" y="169" width="497.5" height="9" fill="url(#h11)"/>
<rect x="125" y="178" width="497.5" height="9" fill="url(#h12)"/>
<rect x="125" y="187" width="497.5" height="9" fill="url(#h13)"/>
<rect x="125" y="196" width="497.5" height="9" fill="url(#h14)"/>
<rect x="125" y="205" width="497.5" height="8" fill="url(#h15)"/>
<rect x="125" y="213" width="497.5" height="9" fill="url(#h16)"/>
<rect x="125" y="222" width="497.5" height="9" fill="url(#h17)"/>
<rect x="125" y="231" width="497.5" height="9" fill="url(#h18)"/>
<rect x="125" y="240" width="497.5" height="9" fill="url(#h19)"/>
<rect x="125" y="249" width="497.5" height="9" fill="url(#h20)"/>
<rect x="125" y="258" width="497.5" height="8" fill="url(#h21)"/>
<rect x="125" y="266" width="497.5" height="9" fill="url(#h22)"/>
<rect x="125" y="275" width="497.5" height="9" fill="url(#h23)"/>
<rect x="125" y="284" width="497.5" height="9" fill="url(#h24)"/>
<rect x="125" y="293" width="497.5" height="9" fill="url(#h25)"/>
<rect x="125" y="302" width="497.5" height="9" fill="url(#h26)"/>
<rect x="125" y="311" width="497.5" height="9" fill="url(#h27)"/>
<rect x="125" y="320" width="497.5" height="8" fill="url(#h28)"/>
<rect x="125" y="328" width="497.5" height="9" fill="url(#h29)"/>
<rect x="125" y="337" width="497.5" height="4" fill="url(#h30)"/>
<rect x="125" y="341" width="497.5" height="4" fill="url(#h31)"/>
<rect x="125" y="345" width="497.5" height="3" fill="url(#h32)"/>
<rect x="125" y="348" width="497.5" height="4" fill="url(#h33)"/>
<rect x="125" y="352" width="497.5" height="4" fill="url(#h34)"/>
<rect x="125" y="356" width="497.5" height="3" fill="url(#h35)"/>
<rect x="125" y="359" width="497.5" height="4" fill="url(#h36)"/>
<rect x="125" y="363" width="497.5" height="4" fill="url(#h37)"/>
<rect x="125" y="367" width="497.5" height="3" fill="url(#h38)"/>
<rect x="125" y="370" width="497.5" height="4" fill="url(#h39)"/>
<rect x="125" y="374" width="497.5" height="4" fill="url(#h40)"/>
<rect x="125" y="378" width="497.5" height="3" fill="url(#h41)"/>
<rect x="125" y="381" width="497.5" height="4" fill="url(#h42)"/>
<rect x="125" y="385" width="497.5" height="4" fill="url(#h43)"/>
<rect x="125" y="389" width="497.5" height="3" fill="url(#h44)"/>
<rect x="125" y="392" width="497.5" height="4" fill="url(#h45)"/>
<rect x="125" y="396" width="497.5" height="4" fill="url(#h46)"/>
<rect x="125" y="400" width="497.5" height="4" fill="url(#h47)"/>
<rect x="448.6" y="72" width="31.4" height="331.5" fill="#fff"/>
<rect x="125" y="72" width="497.5" height="331.5" fill="none" stroke="#000" stroke-width="2"/>
<ellipse cx="464.8" cy="72.9" rx="5" ry="0.9" fill="#000"/>
<line x1="180.3" y1="403.5" x2="180.3" y2="388.5" stroke="#000" stroke-width="2"/>
<line x1="290.8" y1="403.5" x2="290.8" y2="388.5" stroke="#000" stroke-width="2"/>
<line x1="401.4" y1="403.5" x2="401.4" y2="388.5" stroke="#000" stroke-width="2"/>
<line x1="511.9" y1="403.5" x2="511.9" y2="388.5" stroke="#000" stroke-width="2"/>
<line x1="125" y1="337.2" x2="140.5" y2="337.2" stroke="#000" stroke-width="2"/>
<line x1="125" y1="270.9" x2="140.5" y2="270.9" stroke="#000" stroke-width="2"/>
<line x1="125" y1="204.6" x2="140.5" y2="204.6" stroke="#000" stroke-width="2"/>
<line x1="125" y1="138.3" x2="140.5" y2="138.3" stroke="#000" stroke-width="2"/>
<text x="180.3" y="431.8" font-size="20.5" font-weight="bold" text-anchor="middle" fill="#000">500</text>
<text x="290.8" y="431.8" font-size="20.5" font-weight="bold" text-anchor="middle" fill="#000">600</text>
<text x="401.4" y="431.8" font-size="20.5" font-weight="bold" text-anchor="middle" fill="#000">700</text>
<text x="511.9" y="431.8" font-size="20.5" font-weight="bold" text-anchor="middle" fill="#000">800</text>
<text x="622.5" y="431.8" font-size="20.5" font-weight="bold" text-anchor="middle" fill="#000">900</text>
<text x="82.6" y="413.2" font-size="20.5" font-weight="bold">10<tspan dx="0.3" dy="-13.3" font-size="14">0</tspan></text>
<text x="82.6" y="346.9" font-size="20.5" font-weight="bold">10<tspan dx="0.3" dy="-13.3" font-size="14">1</tspan></text>
<text x="82.6" y="280.6" font-size="20.5" font-weight="bold">10<tspan dx="0.3" dy="-13.3" font-size="14">2</tspan></text>
<text x="82.6" y="214.3" font-size="20.5" font-weight="bold">10<tspan dx="0.3" dy="-13.3" font-size="14">3</tspan></text>
<text x="82.6" y="148" font-size="20.5" font-weight="bold">10<tspan dx="0.3" dy="-13.3" font-size="14">4</tspan></text>
<text x="82.6" y="81.7" font-size="20.5" font-weight="bold">10<tspan dx="0.3" dy="-13.3" font-size="14">5</tspan></text>
<text x="391.2" y="468.3" font-size="27.7" font-weight="bold" text-anchor="middle" fill="#000">Wavelength (nm)</text>
<text transform="translate(66,241.6) rotate(-90)" font-size="27.4" font-weight="bold" text-anchor="middle">Time (ns)</text>
<text x="37.3" y="80.8" font-size="31.5" font-weight="bold" text-anchor="start" fill="#000">(a)</text>
<rect x="349.4" y="94.9" width="9.4" height="141" fill="url(#cb)" stroke="#000" stroke-width="1.6"/>
<line x1="359.6" y1="114.3" x2="374.3" y2="114.3" stroke="#000" stroke-width="2"/>
<text x="389" y="121.2" font-size="19" font-weight="bold" text-anchor="start" fill="#000">5</text>
<line x1="359.6" y1="147.7" x2="374.3" y2="147.7" stroke="#000" stroke-width="2"/>
<text x="389" y="154.6" font-size="19" font-weight="bold" text-anchor="start" fill="#000">0</text>
<line x1="359.6" y1="181.1" x2="374.3" y2="181.1" stroke="#000" stroke-width="2"/>
<text x="382.7" y="188" font-size="19" font-weight="bold" text-anchor="start" fill="#000">-5</text>
<line x1="359.6" y1="214.5" x2="374.3" y2="214.5" stroke="#000" stroke-width="2"/>
<text x="382.7" y="221.4" font-size="19" font-weight="bold" text-anchor="start" fill="#000">-10</text>
<text transform="translate(334.5,165.7) rotate(-90)" font-size="27" font-weight="bold" text-anchor="middle"><tspan font-weight="normal">Δ</tspan>A (mOD)</text>
</g>
<g id="panelB">
<path d="M720 71.7 H909.8 M928 71.7 H1218 M720 403.7 H909.8 M928 403.7 H1218 M720 71.7 V403.7 M1218 71.7 V403.7" stroke="#000" stroke-width="2" fill="none" stroke-linecap="square"/>
<line x1="720" y1="99.3" x2="734" y2="99.3" stroke="#000" stroke-width="2"/>
<text x="711.2" y="106.2" font-size="20" font-weight="bold" text-anchor="end" fill="#000">1.0</text>
<line x1="720" y1="168.3" x2="734" y2="168.3" stroke="#000" stroke-width="2"/>
<text x="711.2" y="175.2" font-size="20" font-weight="bold" text-anchor="end" fill="#000">0.5</text>
<line x1="720" y1="237.3" x2="734" y2="237.3" stroke="#000" stroke-width="2"/>
<text x="711.2" y="244.2" font-size="20" font-weight="bold" text-anchor="end" fill="#000">0.0</text>
<line x1="720" y1="306.3" x2="734" y2="306.3" stroke="#000" stroke-width="2"/>
<text x="711.2" y="313.2" font-size="20" font-weight="bold" text-anchor="end" fill="#000">-0.5</text>
<line x1="720" y1="375.3" x2="734" y2="375.3" stroke="#000" stroke-width="2"/>
<text x="711.2" y="382.2" font-size="20" font-weight="bold" text-anchor="end" fill="#000">-1.0</text>
<line x1="737.3" y1="403.7" x2="737.3" y2="389.2" stroke="#000" stroke-width="2"/>
<text x="737.3" y="431.3" font-size="20.5" font-weight="bold" text-anchor="middle" fill="#000">0</text>
<line x1="823.7" y1="403.7" x2="823.7" y2="389.2" stroke="#000" stroke-width="2"/>
<text x="823.7" y="431.3" font-size="20.5" font-weight="bold" text-anchor="middle" fill="#000">10</text>
<line x1="910.1" y1="403.7" x2="910.1" y2="389.2" stroke="#000" stroke-width="2"/>
<text x="910.1" y="431.3" font-size="20.5" font-weight="bold" text-anchor="middle" fill="#000">20</text>
<line x1="980.2" y1="403.7" x2="980.2" y2="389.2" stroke="#000" stroke-width="2"/>
<text x="964.4" y="442.3" font-size="20.5" font-weight="bold">10<tspan dx="0.6" dy="-14.2" font-size="13.5">2</tspan></text>
<line x1="1059.5" y1="403.7" x2="1059.5" y2="389.2" stroke="#000" stroke-width="2"/>
<text x="1043.7" y="442.3" font-size="20.5" font-weight="bold">10<tspan dx="0.6" dy="-14.2" font-size="13.5">3</tspan></text>
<line x1="1138.7" y1="403.7" x2="1138.7" y2="389.2" stroke="#000" stroke-width="2"/>
<text x="1122.9" y="442.3" font-size="20.5" font-weight="bold">10<tspan dx="0.6" dy="-14.2" font-size="13.5">4</tspan></text>
<text x="1202.2" y="442.3" font-size="20.5" font-weight="bold">10<tspan dx="0.6" dy="-14.2" font-size="13.5">5</tspan></text>
<text x="967.8" y="468.3" font-size="27.7" font-weight="bold" text-anchor="middle" fill="#000">Time (ns)</text>
<text transform="translate(660,240) rotate(-90)" font-size="27.4" font-weight="bold" text-anchor="middle">Norm. <tspan font-weight="normal">Δ</tspan>A</text>
<text x="634.4" y="81.2" font-size="31.5" font-weight="bold" text-anchor="start" fill="#000">(b)</text>
<g clip-path="url(#cb1)" fill="none" stroke-linejoin="round">
<path d="M718 240 L724 243 L731 239 L735.5 225 L739.1 102.2 L743.1 82.1 L747.2 98.9 L752 134.3 L757.6 106.2 L761.6 107.8 L766.4 137.5 L771.3 128.7 L776.1 127.9 L779.3 144 L787.3 152 L793.8 152.8 L801.8 140.7 L808.2 137.5 L816.3 134.3 L821.1 135.9 L825.9 150.4 L829.1 144 L834 145.6 L837.2 161.6 L843.6 159.2 L848.4 153.6 L854.9 155.2 L862.9 150.4 L869.3 144 L879 142.3 L887 145.6 L896.7 153.6 L903.1 147.2 L909.5 140.7" stroke="#f9bcbc" stroke-width="6.5"/>
<path d="M718 262 L722 266 L726 258 L730 268 L733 290 L736 340 L738.5 392 L740 412 L742.5 412 L743.5 383 L744.5 350 L745.5 318 L750 312 L751.5 287 L756 283 L757 320 L761 318 L762.5 262 L766 246 L769.7 233.6 L774.5 230.4 L779.3 220.7 L785.7 209.5 L790.6 214.3 L795.4 227.2 L798.6 225.6 L803.4 211.1 L808.2 187 L811.5 171.7 L814.7 174.1 L819.5 190.2 L824.3 189.4 L827.5 204.7 L830.8 217.5 L834 214.3 L837.2 195 L842 201.4 L846.8 203.1 L850 185.4 L853.3 181.4 L858.1 190.2 L862.9 198.2 L869.3 199.8 L875.8 190.2 L883.8 187 L891.8 187 L899.9 195 L907.9 212.7 L910.3 209.5" stroke="#bccbf4" stroke-width="6.5"/>
<path d="M720 237.3 L720.5 237.3 L720.9 237.3 L721.3 237.3 L721.7 237.3 L722.2 237.3 L722.6 237.3 L723 237.3 L723.5 237.3 L723.9 237.3 L724.3 237.3 L724.8 237.3 L725.2 237.3 L725.6 237.3 L726.1 237.3 L726.5 237.3 L726.9 237.3 L727.4 237.3 L727.8 237.3 L728.2 237.3 L728.7 237.3 L729.1 237.3 L729.5 237.3 L730 237.3 L730.4 237.3 L730.8 237.3 L731.3 237.3 L731.7 237.3 L732.1 237.3 L732.5 237.3 L733 237.3 L733.4 237.3 L733.8 237.3 L734.3 235.5 L734.7 230.6 L735.1 222.9 L735.6 213.1 L736 201.5 L736.4 188.7 L736.9 175.2 L737.3 161.4 L737.7 147.9 L738.2 135.1 L738.6 123.5 L739 113.7 L739.5 106 L739.9 101.1 L740.3 99.3 L740.8 100.2 L741.2 101 L741.6 101.8 L742.1 102.7 L742.5 103.5 L742.9 104.3 L743.3 105 L743.8 105.8 L744.2 106.6 L744.6 107.3 L745.1 108 L745.5 108.8 L745.9 109.5 L746.4 110.2 L746.8 110.9 L747.2 111.5 L747.7 112.2 L748.1 112.9 L748.5 113.5 L749 114.1 L749.4 114.8 L749.8 115.4 L750.3 116 L750.7 116.6 L751.1 117.2 L751.6 117.7 L752 118.3 L752.4 118.9 L752.9 119.4 L753.3 119.9 L753.7 120.5 L754.1 121 L754.6 121.5 L755 122 L755.4 122.5 L755.9 123 L756.3 123.5 L756.7 124 L757.2 124.4 L757.6 124.9 L758 125.3 L758.5 125.8 L758.9 126.2 L759.3 126.7 L759.8 127.1 L760.2 127.5 L760.6 127.9 L761.1 128.3 L761.5 128.7 L761.9 129.1 L762.4 129.5 L762.8 129.9 L763.2 130.2 L763.7 130.6 L764.1 131 L764.5 131.3 L764.9 131.7 L765.4 132 L765.8 132.3 L766.2 132.7 L766.7 133 L767.1 133.3 L767.5 133.6 L768 133.9 L768.4 134.3 L768.8 134.6 L769.3 134.9 L769.7 135.1 L770.1 135.4 L770.6 135.7 L771 136 L771.4 136.3 L771.9 136.5 L772.3 136.8 L772.7 137.1 L773.2 137.3 L773.6 137.6 L774 137.8 L774.5 138.1 L774.9 138.3 L775.3 138.5 L775.7 138.8 L776.2 139 L776.6 139.2 L777 139.5 L777.5 139.7 L777.9 139.9 L778.3 140.1 L778.8 140.3 L779.2 140.5 L779.6 140.7 L780.1 140.9 L780.5 141.1 L780.9 141.3 L781.4 141.5 L781.8 141.7 L782.2 141.9 L782.7 142 L783.1 142.2 L783.5 142.4 L784 142.6 L784.4 142.7 L784.8 142.9 L785.3 143.1 L785.7 143.2 L786.1 143.4 L786.5 143.5 L787 143.7 L787.4 143.8 L787.8 144 L788.3 144.1 L788.7 144.3 L789.1 144.4 L789.6 144.6 L790 144.7 L790.4 144.8 L790.9 145 L791.3 145.1 L791.7 145.2 L792.2 145.4 L792.6 145.5 L793 145.6 L793.5 145.7 L793.9 145.8 L794.3 146 L794.8 146.1 L795.2 146.2 L795.6 146.3 L796.1 146.4 L796.5 146.5 L796.9 146.6 L797.3 146.7 L797.8 146.8 L798.2 146.9 L798.6 147 L799.1 147.1 L799.5 147.2 L799.9 147.3 L800.4 147.4 L800.8 147.5 L801.2 147.6 L801.7 147.7 L802.1 147.8 L802.5 147.8 L803 147.9 L803.4 148 L803.8 148.1 L804.3 148.2 L804.7 148.3 L805.1 148.3 L805.6 148.4 L806 148.5 L806.4 148.6 L806.9 148.6 L807.3 148.7 L807.7 148.8 L808.1 148.8 L808.6 148.9 L809 149 L809.4 149 L809.9 149.1 L810.3 149.2 L810.7 149.2 L811.2 149.3 L811.6 149.4 L812 149.4 L812.5 149.5 L812.9 149.5 L813.3 149.6 L813.8 149.7 L814.2 149.7 L814.6 149.8 L815.1 149.8 L815.5 149.9 L815.9 149.9 L816.4 150 L816.8 150 L817.2 150.1 L817.7 150.1 L818.1 150.2 L818.5 150.2 L818.9 150.3 L819.4 150.3 L819.8 150.4 L820.2 150.4 L820.7 150.4 L821.1 150.5 L821.5 150.5 L822 150.6 L822.4 150.6 L822.8 150.6 L823.3 150.7 L823.7 150.7 L824.1 150.8 L824.6 150.8 L825 150.8 L825.4 150.9 L825.9 150.9 L826.3 150.9 L826.7 151 L827.2 151 L827.6 151 L828 151.1 L828.5 151.1 L828.9 151.1 L829.3 151.2 L829.7 151.2 L830.2 151.2 L830.6 151.3 L831 151.3 L831.5 151.3 L831.9 151.4 L832.3 151.4 L832.8 151.4 L833.2 151.4 L833.6 151.5 L834.1 151.5 L834.5 151.5 L834.9 151.5 L835.4 151.6 L835.8 151.6 L836.2 151.6 L836.7 151.6 L837.1 151.7 L837.5 151.7 L838 151.7 L838.4 151.7 L838.8 151.8 L839.3 151.8 L839.7 151.8 L840.1 151.8 L840.5 151.8 L841 151.9 L841.4 151.9 L841.8 151.9 L842.3 151.9 L842.7 151.9 L843.1 152 L843.6 152 L844 152 L844.4 152 L844.9 152 L845.3 152.1 L845.7 152.1 L846.2 152.1 L846.6 152.1 L847 152.1 L847.5 152.1 L847.9 152.2 L848.3 152.2 L848.8 152.2 L849.2 152.2 L849.6 152.2 L850.1 152.2 L850.5 152.2 L850.9 152.3 L851.3 152.3 L851.8 152.3 L852.2 152.3 L852.6 152.3 L853.1 152.3 L853.5 152.3 L853.9 152.3 L854.4 152.4 L854.8 152.4 L855.2 152.4 L855.7 152.4 L856.1 152.4 L856.5 152.4 L857 152.4 L857.4 152.4 L857.8 152.5 L858.3 152.5 L858.7 152.5 L859.1 152.5 L859.6 152.5 L860 152.5 L860.4 152.5 L860.9 152.5 L861.3 152.5 L861.7 152.5 L862.1 152.6 L862.6 152.6 L863 152.6 L863.4 152.6 L863.9 152.6 L864.3 152.6 L864.7 152.6 L865.2 152.6 L865.6 152.6 L866 152.6 L866.5 152.6 L866.9 152.6 L867.3 152.7 L867.8 152.7 L868.2 152.7 L868.6 152.7 L869.1 152.7 L869.5 152.7 L869.9 152.7 L870.4 152.7 L870.8 152.7 L871.2 152.7 L871.7 152.7 L872.1 152.7 L872.5 152.7 L872.9 152.7 L873.4 152.7 L873.8 152.8 L874.2 152.8 L874.7 152.8 L875.1 152.8 L875.5 152.8 L876 152.8 L876.4 152.8 L876.8 152.8 L877.3 152.8 L877.7 152.8 L878.1 152.8 L878.6 152.8 L879 152.8 L879.4 152.8 L879.9 152.8 L880.3 152.8 L880.7 152.8 L881.2 152.8 L881.6 152.8 L882 152.8 L882.5 152.9 L882.9 152.9 L883.3 152.9 L883.7 152.9 L884.2 152.9 L884.6 152.9 L885 152.9 L885.5 152.9 L885.9 152.9 L886.3 152.9 L886.8 152.9 L887.2 152.9 L887.6 152.9 L888.1 152.9 L888.5 152.9 L888.9 152.9 L889.4 152.9 L889.8 152.9 L890.2 152.9 L890.7 152.9 L891.1 152.9 L891.5 152.9 L892 152.9 L892.4 152.9 L892.8 152.9 L893.3 152.9 L893.7 152.9 L894.1 152.9 L894.5 153 L895 153 L895.4 153 L895.8 153 L896.3 153 L896.7 153 L897.1 153 L897.6 153 L898 153 L898.4 153 L898.9 153 L899.3 153 L899.7 153 L900.2 153 L900.6 153 L901 153 L901.5 153 L901.9 153 L902.3 153 L902.8 153 L903.2 153 L903.6 153 L904.1 153 L904.5 153 L904.9 153 L905.3 153 L905.8 153 L906.2 153 L906.6 153 L907.1 153 L907.5 153 L907.9 153 L908.4 153 L908.8 153 L909.2 153 L909.7 153 L910.1 153" stroke="#dc1419" stroke-width="5"/>
<path d="M720 271.4 L720.5 271.4 L720.9 271.4 L721.3 271.4 L721.7 271.4 L722.2 271.4 L722.6 271.4 L723 271.4 L723.5 271.4 L723.9 271.4 L724.3 271.4 L724.8 271.4 L725.2 271.4 L725.6 271.4 L726.1 271.4 L726.5 271.4 L726.9 271.4 L727.4 271.4 L727.8 271.4 L728.2 275.3 L728.7 279.3 L729.1 283.2 L729.5 287.1 L730 291.1 L730.4 295 L730.8 298.9 L731.3 302.9 L731.7 306.8 L732.1 310.7 L732.5 314.7 L733 318.6 L733.4 322.6 L733.8 326.5 L734.3 330.4 L734.7 334.4 L735.1 338.3 L735.6 342.2 L736 346.2 L736.4 350.1 L736.9 354 L737.3 358 L737.7 361.9 L738.2 365.8 L738.6 369.8 L739 373.7 L739.5 377.7 L739.9 381.6 L740.3 381 L740.8 377.4 L741.2 373.9 L741.6 370.5 L742.1 367.1 L742.5 363.8 L742.9 360.5 L743.3 357.3 L743.8 354.2 L744.2 351.1 L744.6 348.1 L745.1 345.2 L745.5 342.3 L745.9 339.4 L746.4 336.6 L746.8 333.9 L747.2 331.2 L747.7 328.6 L748.1 326 L748.5 323.5 L749 321 L749.4 318.6 L749.8 316.2 L750.3 313.8 L750.7 311.5 L751.1 309.3 L751.6 307.1 L752 304.9 L752.4 302.8 L752.9 300.7 L753.3 298.6 L753.7 296.6 L754.1 294.7 L754.6 292.7 L755 290.8 L755.4 289 L755.9 287.1 L756.3 285.4 L756.7 283.6 L757.2 281.9 L757.6 280.2 L758 278.5 L758.5 276.9 L758.9 275.3 L759.3 273.7 L759.8 272.2 L760.2 270.7 L760.6 269.2 L761.1 267.8 L761.5 266.3 L761.9 265 L762.4 263.6 L762.8 262.2 L763.2 260.9 L763.7 259.6 L764.1 258.4 L764.5 257.1 L764.9 255.9 L765.4 254.7 L765.8 253.5 L766.2 252.4 L766.7 251.3 L767.1 250.2 L767.5 249.1 L768 248 L768.4 247 L768.8 245.9 L769.3 244.9 L769.7 243.9 L770.1 243 L770.6 242 L771 241.1 L771.4 240.2 L771.9 239.3 L772.3 238.4 L772.7 237.5 L773.2 236.7 L773.6 235.9 L774 235.1 L774.5 234.3 L774.9 233.5 L775.3 232.7 L775.7 232 L776.2 231.2 L776.6 230.5 L777 229.8 L777.5 229.1 L777.9 228.4 L778.3 227.7 L778.8 227.1 L779.2 226.4 L779.6 225.8 L780.1 225.2 L780.5 224.6 L780.9 224 L781.4 223.4 L781.8 222.8 L782.2 222.2 L782.7 221.7 L783.1 221.1 L783.5 220.6 L784 220.1 L784.4 219.6 L784.8 219.1 L785.3 218.6 L785.7 218.1 L786.1 217.6 L786.5 217.1 L787 216.7 L787.4 216.2 L787.8 215.8 L788.3 215.4 L788.7 214.9 L789.1 214.5 L789.6 214.1 L790 213.7 L790.4 213.3 L790.9 212.9 L791.3 212.6 L791.7 212.2 L792.2 211.8 L792.6 211.5 L793 211.1 L793.5 210.8 L793.9 210.4 L794.3 210.1 L794.8 209.8 L795.2 209.5 L795.6 209.2 L796.1 208.9 L796.5 208.6 L796.9 208.3 L797.3 208 L797.8 207.7 L798.2 207.4 L798.6 207.1 L799.1 206.9 L799.5 206.6 L799.9 206.4 L800.4 206.1 L800.8 205.9 L801.2 205.6 L801.7 205.4 L802.1 205.1 L802.5 204.9 L803 204.7 L803.4 204.5 L803.8 204.3 L804.3 204 L804.7 203.8 L805.1 203.6 L805.6 203.4 L806 203.2 L806.4 203 L806.9 202.9 L807.3 202.7 L807.7 202.5 L808.1 202.3 L808.6 202.1 L809 202 L809.4 201.8 L809.9 201.6 L810.3 201.5 L810.7 201.3 L811.2 201.2 L811.6 201 L812 200.9 L812.5 200.7 L812.9 200.6 L813.3 200.4 L813.8 200.3 L814.2 200.1 L814.6 200 L815.1 199.9 L815.5 199.8 L815.9 199.6 L816.4 199.5 L816.8 199.4 L817.2 199.3 L817.7 199.1 L818.1 199 L818.5 198.9 L818.9 198.8 L819.4 198.7 L819.8 198.6 L820.2 198.5 L820.7 198.4 L821.1 198.3 L821.5 198.2 L822 198.1 L822.4 198 L822.8 197.9 L823.3 197.8 L823.7 197.7 L824.1 197.6 L824.6 197.6 L825 197.5 L825.4 197.4 L825.9 197.3 L826.3 197.2 L826.7 197.2 L827.2 197.1 L827.6 197 L828 196.9 L828.5 196.9 L828.9 196.8 L829.3 196.7 L829.7 196.6 L830.2 196.6 L830.6 196.5 L831 196.5 L831.5 196.4 L831.9 196.3 L832.3 196.3 L832.8 196.2 L833.2 196.1 L833.6 196.1 L834.1 196 L834.5 196 L834.9 195.9 L835.4 195.9 L835.8 195.8 L836.2 195.8 L836.7 195.7 L837.1 195.7 L837.5 195.6 L838 195.6 L838.4 195.5 L838.8 195.5 L839.3 195.4 L839.7 195.4 L840.1 195.4 L840.5 195.3 L841 195.3 L841.4 195.2 L841.8 195.2 L842.3 195.1 L842.7 195.1 L843.1 195.1 L843.6 195 L844 195 L844.4 195 L844.9 194.9 L845.3 194.9 L845.7 194.9 L846.2 194.8 L846.6 194.8 L847 194.8 L847.5 194.7 L847.9 194.7 L848.3 194.7 L848.8 194.6 L849.2 194.6 L849.6 194.6 L850.1 194.6 L850.5 194.5 L850.9 194.5 L851.3 194.5 L851.8 194.5 L852.2 194.4 L852.6 194.4 L853.1 194.4 L853.5 194.4 L853.9 194.3 L854.4 194.3 L854.8 194.3 L855.2 194.3 L855.7 194.2 L856.1 194.2 L856.5 194.2 L857 194.2 L857.4 194.2 L857.8 194.1 L858.3 194.1 L858.7 194.1 L859.1 194.1 L859.6 194.1 L860 194.1 L860.4 194 L860.9 194 L861.3 194 L861.7 194 L862.1 194 L862.6 194 L863 193.9 L863.4 193.9 L863.9 193.9 L864.3 193.9 L864.7 193.9 L865.2 193.9 L865.6 193.9 L866 193.8 L866.5 193.8 L866.9 193.8 L867.3 193.8 L867.8 193.8 L868.2 193.8 L868.6 193.8 L869.1 193.7 L869.5 193.7 L869.9 193.7 L870.4 193.7 L870.8 193.7 L871.2 193.7 L871.7 193.7 L872.1 193.7 L872.5 193.7 L872.9 193.7 L873.4 193.6 L873.8 193.6 L874.2 193.6 L874.7 193.6 L875.1 193.6 L875.5 193.6 L876 193.6 L876.4 193.6 L876.8 193.6 L877.3 193.6 L877.7 193.6 L878.1 193.5 L878.6 193.5 L879 193.5 L879.4 193.5 L879.9 193.5 L880.3 193.5 L880.7 193.5 L881.2 193.5 L881.6 193.5 L882 193.5 L882.5 193.5 L882.9 193.5 L883.3 193.5 L883.7 193.5 L884.2 193.5 L884.6 193.4 L885 193.4 L885.5 193.4 L885.9 193.4 L886.3 193.4 L886.8 193.4 L887.2 193.4 L887.6 193.4 L888.1 193.4 L888.5 193.4 L888.9 193.4 L889.4 193.4 L889.8 193.4 L890.2 193.4 L890.7 193.4 L891.1 193.4 L891.5 193.4 L892 193.4 L892.4 193.4 L892.8 193.4 L893.3 193.3 L893.7 193.3 L894.1 193.3 L894.5 193.3 L895 193.3 L895.4 193.3 L895.8 193.3 L896.3 193.3 L896.7 193.3 L897.1 193.3 L897.6 193.3 L898 193.3 L898.4 193.3 L898.9 193.3 L899.3 193.3 L899.7 193.3 L900.2 193.3 L900.6 193.3 L901 193.3 L901.5 193.3 L901.9 193.3 L902.3 193.3 L902.8 193.3 L903.2 193.3 L903.6 193.3 L904.1 193.3 L904.5 193.3 L904.9 193.3 L905.3 193.3 L905.8 193.3 L906.2 193.3 L906.6 193.3 L907.1 193.3 L907.5 193.3 L907.9 193.2 L908.4 193.2 L908.8 193.2 L909.2 193.2 L909.7 193.2 L910.1 193.2" stroke="#1946c8" stroke-width="5"/>
</g>
<g clip-path="url(#cb2)" fill="none" stroke-linejoin="miter">
<path d="M927.6 159.6 L930.5 159.6 L930.5 156.4 L933.5 156.4 L933.5 158.3 L936.4 158.3 L936.4 155 L939.3 155 L939.3 153.4 L942.2 153.4 L942.2 162.8 L945.1 162.8 L945.1 168.2 L948 168.2 L948 156 L950.9 156 L950.9 161.1 L953.8 161.1 L953.8 164.1 L956.7 164.1 L956.7 152 L959.6 152 L959.6 156.3 L962.5 156.3 L962.5 151.9 L965.4 151.9 L965.4 156.7 L968.3 156.7 L968.3 156.3 L971.2 156.3 L971.2 165.2 L974.1 165.2 L974.1 160.9 L977 160.9 L977 155.2 L979.9 155.2 L979.9 159.2 L982.8 159.2 L982.8 157.6 L985.7 157.6 L985.7 158.6 L988.6 158.6 L988.6 170.4 L991.5 170.4 L991.5 182.7 L994.4 182.7 L994.4 186.4 L997.3 186.4 L997.3 181.9 L1000.2 181.9 L1000.2 178.7 L1003.1 178.7 L1003.1 168.1 L1006 168.1 L1006 171 L1008.9 171 L1008.9 168.6 L1011.9 168.6 L1011.9 165.4 L1014.8 165.4 L1014.8 167.6 L1017.7 167.6 L1017.7 165.7 L1020.6 165.7 L1020.6 175 L1023.5 175 L1023.5 172.7 L1026.4 172.7 L1026.4 178.9 L1029.3 178.9 L1029.3 173.6 L1032.2 173.6 L1032.2 173.1 L1035.1 173.1 L1035.1 187.6 L1038 187.6 L1038 194.2 L1040.9 194.2 L1040.9 196.4 L1043.8 196.4 L1043.8 184.7 L1046.7 184.7 L1046.7 189.6 L1049.6 189.6 L1049.6 189 L1052.5 189 L1052.5 195.1 L1055.4 195.1 L1055.4 194.7 L1058.3 194.7 L1058.3 197.1 L1061.2 197.1 L1061.2 199.3 L1064.1 199.3 L1064.1 196.5 L1067 196.5 L1067 195.5 L1069.9 195.5 L1069.9 189.7 L1072.8 189.7 L1072.8 191.3 L1075.7 191.3 L1075.7 187.8 L1078.6 187.8 L1078.6 187.8 L1081.5 187.8 L1081.5 185.6 L1084.4 185.6 L1084.4 190.5 L1087.3 190.5 L1087.3 202 L1090.2 202 L1090.2 194.9 L1093.2 194.9 L1093.2 190 L1096.1 190 L1096.1 189.1 L1099 189.1 L1099 195 L1101.9 195 L1101.9 215.9 L1104.8 215.9 L1104.8 219.1 L1107.7 219.1 L1107.7 215.5 L1110.6 215.5 L1110.6 200 L1113.5 200 L1113.5 206.4 L1116.4 206.4 L1116.4 213.5 L1119.3 213.5 L1119.3 203 L1122.2 203 L1122.2 196.2 L1125.1 196.2 L1125.1 209.7 L1128 209.7 L1128 203.4 L1130.9 203.4 L1130.9 208.1 L1133.8 208.1 L1133.8 215.3 L1136.7 215.3 L1136.7 216.5 L1139.6 216.5 L1139.6 209.1 L1142.5 209.1 L1142.5 204.5 L1145.4 204.5 L1145.4 217.8 L1148.3 217.8 L1148.3 214.2 L1151.2 214.2 L1151.2 223.5 L1154.1 223.5 L1154.1 216.2 L1157 216.2 L1157 220.6 L1159.9 220.6 L1159.9 213.4 L1162.8 213.4 L1162.8 209 L1165.7 209 L1165.7 216.3 L1168.6 216.3 L1168.6 210.3 L1171.6 210.3 L1171.6 208.8 L1174.5 208.8 L1174.5 214.2 L1177.4 214.2 L1177.4 227.8 L1180.3 227.8 L1180.3 236.7 L1183.2 236.7 L1183.2 238.4 L1186.1 238.4 L1186.1 236 L1189 236 L1189 231.8 L1191.9 231.8 L1191.9 238.6 L1194.8 238.6 L1194.8 244.2 L1197.7 244.2 L1197.7 232.3 L1200.6 232.3 L1200.6 237.3 L1203.5 237.3 L1203.5 228.3 L1206.4 228.3 L1206.4 225.6 L1209.3 225.6 L1209.3 233.9 L1212.2 233.9 L1212.2 236.4 L1215.1 236.4 L1215.1 236.6 L1218 236.6" stroke="#f9bcbc" stroke-width="7"/>
<path d="M927.6 174.7 L930.5 174.7 L930.5 181.8 L933.5 181.8 L933.5 198.5 L936.4 198.5 L936.4 178.5 L939.3 178.5 L939.3 181.7 L942.2 181.7 L942.2 178.3 L945.1 178.3 L945.1 201.6 L948 201.6 L948 200.2 L950.9 200.2 L950.9 186.6 L953.8 186.6 L953.8 188.8 L956.7 188.8 L956.7 183.1 L959.6 183.1 L959.6 202.4 L962.5 202.4 L962.5 201.6 L965.4 201.6 L965.4 207.7 L968.3 207.7 L968.3 202.5 L971.2 202.5 L971.2 199.6 L974.1 199.6 L974.1 214.1 L977 214.1 L977 215.4 L979.9 215.4 L979.9 214.7 L982.8 214.7 L982.8 197.1 L985.7 197.1 L985.7 193.9 L988.6 193.9 L988.6 209.6 L991.5 209.6 L991.5 199.5 L994.4 199.5 L994.4 213.7 L997.3 213.7 L997.3 207.4 L1000.2 207.4 L1000.2 218.7 L1003.1 218.7 L1003.1 227.8 L1006 227.8 L1006 238.1 L1008.9 238.1 L1008.9 235 L1011.9 235 L1011.9 223.8 L1014.8 223.8 L1014.8 205.6 L1017.7 205.6 L1017.7 201.2 L1020.6 201.2 L1020.6 215.9 L1023.5 215.9 L1023.5 204.8 L1026.4 204.8 L1026.4 212.1 L1029.3 212.1 L1029.3 212.3 L1032.2 212.3 L1032.2 226.1 L1035.1 226.1 L1035.1 212.7 L1038 212.7 L1038 214.3 L1040.9 214.3 L1040.9 208 L1043.8 208 L1043.8 207.9 L1046.7 207.9 L1046.7 224.8 L1049.6 224.8 L1049.6 231.3 L1052.5 231.3 L1052.5 240.1 L1055.4 240.1 L1055.4 245.1 L1058.3 245.1 L1058.3 250 L1061.2 250 L1061.2 246.1 L1064.1 246.1 L1064.1 236.3 L1067 236.3 L1067 248.8 L1069.9 248.8 L1069.9 236.1 L1072.8 236.1 L1072.8 240 L1075.7 240 L1075.7 242.7 L1078.6 242.7 L1078.6 230.1 L1081.5 230.1 L1081.5 233.9 L1084.4 233.9 L1084.4 240.4 L1087.3 240.4 L1087.3 238.9 L1090.2 238.9 L1090.2 232.3 L1093.2 232.3 L1093.2 247.4 L1096.1 247.4 L1096.1 229 L1099 229 L1099 247.2 L1101.9 247.2 L1101.9 235.6 L1104.8 235.6 L1104.8 228 L1107.7 228 L1107.7 247.6 L1110.6 247.6 L1110.6 235.5 L1113.5 235.5 L1113.5 242 L1116.4 242 L1116.4 239.4 L1119.3 239.4 L1119.3 254.3 L1122.2 254.3 L1122.2 260.3 L1125.1 260.3 L1125.1 259.7 L1128 259.7 L1128 238.4 L1130.9 238.4 L1130.9 250.3 L1133.8 250.3 L1133.8 240.6 L1136.7 240.6 L1136.7 231.9 L1139.6 231.9 L1139.6 228.2 L1142.5 228.2 L1142.5 243.6 L1145.4 243.6 L1145.4 250.7 L1148.3 250.7 L1148.3 249.8 L1151.2 249.8 L1151.2 243.1 L1154.1 243.1 L1154.1 224.1 L1157 224.1 L1157 222.4 L1159.9 222.4 L1159.9 240.1 L1162.8 240.1 L1162.8 240.8 L1165.7 240.8 L1165.7 262.7 L1168.6 262.7 L1168.6 248.1 L1171.6 248.1 L1171.6 265.7 L1174.5 265.7 L1174.5 267.5 L1177.4 267.5 L1177.4 261.4 L1180.3 261.4 L1180.3 250.8 L1183.2 250.8 L1183.2 262.6 L1186.1 262.6 L1186.1 252.4 L1189 252.4 L1189 258.7 L1191.9 258.7 L1191.9 268.5 L1194.8 268.5 L1194.8 294.8 L1197.7 294.8 L1197.7 279.6 L1200.6 279.6 L1200.6 285.5 L1203.5 285.5 L1203.5 286.6 L1206.4 286.6 L1206.4 297.4 L1209.3 297.4 L1209.3 257.7 L1212.2 257.7 L1212.2 274.4 L1215.1 274.4 L1215.1 285.1 L1218 285.1" stroke="#bccbf4" stroke-width="7"/>
<path d="M927.6 154.8 L930.1 155 L932.5 155.1 L934.9 155.3 L937.3 155.5 L939.7 155.8 L942.2 156 L944.6 156.2 L947 156.5 L949.4 156.8 L951.8 157.1 L954.3 157.4 L956.7 157.8 L959.1 158.1 L961.5 158.5 L963.9 158.9 L966.4 159.3 L968.8 159.8 L971.2 160.3 L973.6 160.8 L976 161.4 L978.5 161.9 L980.9 162.5 L983.3 163.2 L985.7 163.9 L988.1 164.6 L990.6 165.3 L993 166.1 L995.4 166.9 L997.8 167.8 L1000.2 168.7 L1002.7 169.6 L1005.1 170.5 L1007.5 171.5 L1009.9 172.6 L1012.3 173.6 L1014.8 174.7 L1017.2 175.8 L1019.6 177 L1022 178.1 L1024.4 179.3 L1026.9 180.5 L1029.3 181.7 L1031.7 182.9 L1034.1 184 L1036.5 185.2 L1039 186.4 L1041.4 187.5 L1043.8 188.6 L1046.2 189.6 L1048.6 190.7 L1051 191.6 L1053.5 192.6 L1055.9 193.4 L1058.3 194.2 L1060.7 195 L1063.1 195.7 L1065.6 196.3 L1068 196.9 L1070.4 197.4 L1072.8 197.9 L1075.2 198.3 L1077.7 198.7 L1080.1 199 L1082.5 199.4 L1084.9 199.7 L1087.3 200 L1089.8 200.3 L1092.2 200.6 L1094.6 200.9 L1097 201.2 L1099.4 201.5 L1101.9 201.9 L1104.3 202.2 L1106.7 202.6 L1109.1 203 L1111.5 203.5 L1114 203.9 L1116.4 204.4 L1118.8 204.9 L1121.2 205.4 L1123.6 206 L1126.1 206.6 L1128.5 207.2 L1130.9 207.9 L1133.3 208.6 L1135.7 209.3 L1138.2 210.1 L1140.6 210.8 L1143 211.7 L1145.4 212.5 L1147.8 213.4 L1150.3 214.3 L1152.7 215.3 L1155.1 216.2 L1157.5 217.2 L1159.9 218.2 L1162.4 219.3 L1164.8 220.3 L1167.2 221.4 L1169.6 222.5 L1172 223.5 L1174.5 224.6 L1176.9 225.7 L1179.3 226.7 L1181.7 227.7 L1184.1 228.7 L1186.6 229.7 L1189 230.6 L1191.4 231.5 L1193.8 232.3 L1196.2 233 L1198.7 233.8 L1201.1 234.4 L1203.5 235 L1205.9 235.5 L1208.3 236 L1210.8 236.4 L1213.2 236.7 L1215.6 237 L1218 237.2" stroke="#dc1419" stroke-width="5"/>
<path d="M927.6 195.3 L930.1 195.4 L932.5 195.6 L934.9 195.8 L937.3 196 L939.7 196.2 L942.2 196.4 L944.6 196.6 L947 196.8 L949.4 197.1 L951.8 197.4 L954.3 197.7 L956.7 198 L959.1 198.3 L961.5 198.6 L963.9 199 L966.4 199.4 L968.8 199.8 L971.2 200.3 L973.6 200.7 L976 201.2 L978.5 201.8 L980.9 202.3 L983.3 202.9 L985.7 203.5 L988.1 204.1 L990.6 204.8 L993 205.5 L995.4 206.3 L997.8 207 L1000.2 207.9 L1002.7 208.7 L1005.1 209.6 L1007.5 210.5 L1009.9 211.4 L1012.3 212.4 L1014.8 213.3 L1017.2 214.4 L1019.6 215.4 L1022 216.4 L1024.4 217.5 L1026.9 218.6 L1029.3 219.7 L1031.7 220.7 L1034.1 221.8 L1036.5 222.9 L1039 223.9 L1041.4 224.9 L1043.8 225.9 L1046.2 226.9 L1048.6 227.8 L1051 228.7 L1053.5 229.5 L1055.9 230.3 L1058.3 231.1 L1060.7 231.7 L1063.1 232.4 L1065.6 232.9 L1068 233.5 L1070.4 233.9 L1072.8 234.4 L1075.2 234.8 L1077.7 235.1 L1080.1 235.5 L1082.5 235.8 L1084.9 236.1 L1087.3 236.3 L1089.8 236.6 L1092.2 236.9 L1094.6 237.2 L1097 237.5 L1099.4 237.8 L1101.9 238.1 L1104.3 238.4 L1106.7 238.8 L1109.1 239.2 L1111.5 239.6 L1114 240 L1116.4 240.4 L1118.8 240.9 L1121.2 241.4 L1123.6 241.9 L1126.1 242.5 L1128.5 243.1 L1130.9 243.7 L1133.3 244.3 L1135.7 245 L1138.2 245.7 L1140.6 246.5 L1143 247.2 L1145.4 248 L1147.8 248.9 L1150.3 249.7 L1152.7 250.6 L1155.1 251.5 L1157.5 252.4 L1159.9 253.4 L1162.4 254.3 L1164.8 255.3 L1167.2 256.3 L1169.6 257.3 L1172 258.3 L1174.5 259.3 L1176.9 260.3 L1179.3 261.3 L1181.7 262.2 L1184.1 263.1 L1186.6 264 L1189 264.9 L1191.4 265.7 L1193.8 266.5 L1196.2 267.2 L1198.7 267.8 L1201.1 268.5 L1203.5 269 L1205.9 269.5 L1208.3 269.9 L1210.8 270.3 L1213.2 270.6 L1215.6 270.9 L1218 271.1" stroke="#1946c8" stroke-width="5"/>
</g>
<line x1="971" y1="283.9" x2="1009.2" y2="283.9" stroke="#f9bcbc" stroke-width="7"/>
<text x="1018.2" y="291.1" font-size="20.5" font-weight="normal" text-anchor="start" fill="#000">700 nm</text>
<line x1="971" y1="307.8" x2="1009.2" y2="307.8" stroke="#dc1419" stroke-width="5.3"/>
<text x="1018.2" y="315" font-size="20.5" font-weight="normal" text-anchor="start" fill="#000">fitting_700 nm</text>
<line x1="971" y1="331.3" x2="1009.2" y2="331.3" stroke="#bccbf4" stroke-width="7"/>
<text x="1018.2" y="338.5" font-size="20.5" font-weight="normal" text-anchor="start" fill="#000">550 nm</text>
<line x1="971" y1="355.5" x2="1009.2" y2="355.5" stroke="#1946c8" stroke-width="5.3"/>
<text x="1018.2" y="362.7" font-size="20.5" font-weight="normal" text-anchor="start" fill="#000">fitting_550 nm</text>
</g>
<g id="panelC">
<rect x="137.5" y="496.5" width="557" height="363" fill="#fbe4d7"/>
<rect x="694.3" y="496.5" width="520" height="363" fill="#bfe3f3"/>
<line x1="694.2" y1="493.1" x2="694.2" y2="858" stroke="#3c4046" stroke-width="2.1" stroke-dasharray="9.8 3.2"/>
<rect x="137.5" y="496.6" width="1076.8" height="362.9" fill="none" stroke="#000" stroke-width="2.8"/>
<line x1="138" y1="516.2" x2="152" y2="516.2" stroke="#000" stroke-width="2.7"/>
<text x="118.2" y="523" font-size="19.3" font-weight="bold" text-anchor="end" fill="#000">4.0</text>
<line x1="138" y1="556.6" x2="145.2" y2="556.6" stroke="#000" stroke-width="2.7"/>
<line x1="138" y1="597" x2="152" y2="597" stroke="#000" stroke-width="2.7"/>
<text x="118.2" y="603.8" font-size="19.3" font-weight="bold" text-anchor="end" fill="#000">3.6</text>
<line x1="138" y1="637.3" x2="145.2" y2="637.3" stroke="#000" stroke-width="2.7"/>
<line x1="138" y1="677.7" x2="152" y2="677.7" stroke="#000" stroke-width="2.7"/>
<text x="118.2" y="684.5" font-size="19.3" font-weight="bold" text-anchor="end" fill="#000">3.2</text>
<line x1="138" y1="718.1" x2="145.2" y2="718.1" stroke="#000" stroke-width="2.7"/>
<line x1="138" y1="758.5" x2="152" y2="758.5" stroke="#000" stroke-width="2.7"/>
<text x="118.2" y="765.2" font-size="19.3" font-weight="bold" text-anchor="end" fill="#000">2.8</text>
<line x1="138" y1="798.8" x2="145.2" y2="798.8" stroke="#000" stroke-width="2.7"/>
<line x1="138" y1="839.2" x2="152" y2="839.2" stroke="#000" stroke-width="2.7"/>
<text x="118.2" y="846" font-size="19.3" font-weight="bold" text-anchor="end" fill="#000">2.4</text>
<text transform="translate(63.2,676.4) rotate(-90)" font-size="27" font-weight="bold" text-anchor="middle">Energy Level (eV)</text>
<text x="37.3" y="504.4" font-size="31.5" font-weight="bold" text-anchor="start" fill="#000">(c)</text>
<text x="411.9" y="529" font-size="30.2" font-weight="bold" text-anchor="middle" fill="#000">In Solution</text>
<text x="958.6" y="528.8" font-size="30.2" font-weight="bold" text-anchor="middle" fill="#000">In Film</text>
<line x1="170.3" y1="736.5" x2="224.2" y2="736.5" stroke="#1e78dc" stroke-width="7" stroke-linecap="round"/>
<text x="233.4" y="744.4" font-size="28" font-weight="bold" text-anchor="start" fill="#1e78dc">S<tspan dy="6.6" font-size="19.0">1</tspan></text>
<line x1="410" y1="585" x2="463.2" y2="585" stroke="#1e78dc" stroke-width="7" stroke-linecap="round"/>
<line x1="410" y1="633.2" x2="463.2" y2="633.2" stroke="#1e78dc" stroke-width="7" stroke-linecap="round"/>
<line x1="411.2" y1="705.4" x2="462" y2="705.4" stroke="#1e78dc" stroke-width="9.4" stroke-linecap="round"/>
<line x1="410" y1="728.7" x2="463.2" y2="728.7" stroke="#1e78dc" stroke-width="7" stroke-linecap="round"/>
<line x1="410" y1="847.4" x2="463.2" y2="847.4" stroke="#000" stroke-width="7" stroke-linecap="round"/>
<text x="472.6" y="591.6" font-size="28" font-weight="bold" text-anchor="start" fill="#1e78dc">T<tspan dy="6.6" font-size="19.0">6</tspan><tspan dy="-6.6"> (0.29)</tspan></text>
<text x="472.6" y="639.7" font-size="28" font-weight="bold" text-anchor="start" fill="#1e78dc">T<tspan dy="6.6" font-size="19.0">5</tspan><tspan dy="-6.6"> (1.15)</tspan></text>
<text x="472.6" y="689.8" font-size="28" font-weight="bold" text-anchor="start" fill="#1e78dc">T<tspan dy="6.6" font-size="19.0">4</tspan><tspan dy="-6.6"> (0.16)</tspan></text>
<text x="472.6" y="719.9" font-size="28" font-weight="bold" text-anchor="start" fill="#1e78dc">T<tspan dy="6.6" font-size="19.0">3</tspan><tspan dy="-6.6"> (0.22)</tspan></text>
<text x="472.6" y="751.7" font-size="28" font-weight="bold" text-anchor="start" fill="#1e78dc">T<tspan dy="6.6" font-size="19.0">2</tspan><tspan dy="-6.6"> (2.09)</tspan></text>
<text x="472.6" y="847.4" font-size="28" font-weight="bold" text-anchor="start" fill="#000">T<tspan dy="6.6" font-size="19.0">1</tspan><tspan dy="-6.6"> (0.44)</tspan></text>
<line x1="709.2" y1="647.5" x2="761" y2="647.5" stroke="#f01a1a" stroke-width="6.5" stroke-linecap="round"/>
<text x="771.4" y="655.6" font-size="28" font-weight="bold" text-anchor="start" fill="#c9161e">S<tspan dy="6.6" font-size="19.0">1</tspan></text>
<line x1="949.7" y1="611" x2="999.3" y2="611" stroke="#f01a1a" stroke-width="10.6" stroke-linecap="round"/>
<line x1="947.6" y1="659.2" x2="1001.4" y2="659.2" stroke="#000" stroke-width="6.5" stroke-linecap="round"/>
<line x1="949.9" y1="701.7" x2="999.1" y2="701.7" stroke="#f01a1a" stroke-width="11" stroke-linecap="round"/>
<line x1="947.9" y1="752.5" x2="1001.1" y2="752.5" stroke="#f01a1a" stroke-width="7" stroke-linecap="round"/>
<text x="1011.6" y="597.6" font-size="28" font-weight="bold" text-anchor="start" fill="#c9161e">T<tspan dy="6.6" font-size="19.0">6</tspan><tspan dy="-6.6"> (0.12)</tspan></text>
<text x="1011.6" y="629.6" font-size="28" font-weight="bold" text-anchor="start" fill="#c9161e">T<tspan dy="6.6" font-size="19.0">5</tspan><tspan dy="-6.6"> (0.16)</tspan></text>
<text x="1011.6" y="665.3" font-size="28" font-weight="bold" text-anchor="start" fill="#000">T<tspan dy="6.6" font-size="19.0">4</tspan><tspan dy="-6.6"> (1.23)</tspan></text>
<text x="1011.6" y="697.2" font-size="28" font-weight="bold" text-anchor="start" fill="#c9161e">T<tspan dy="6.6" font-size="19.0">3</tspan><tspan dy="-6.6"> (0.20)</tspan></text>
<text x="1011.6" y="726.4" font-size="28" font-weight="bold" text-anchor="start" fill="#c9161e">T<tspan dy="6.6" font-size="19.0">2</tspan><tspan dy="-6.6"> (0.17)</tspan></text>
<text x="1011.6" y="762.6" font-size="28" font-weight="bold" text-anchor="start" fill="#c9161e">T<tspan dy="6.6" font-size="19.0">1</tspan><tspan dy="-6.6"> (0.20)</tspan></text>
</g>
<g id="panelD">
<text x="37.5" y="905.2" font-size="31.5" font-weight="bold" text-anchor="start" fill="#000">(d)</text>
<path d="M101 1000.7 A136.3 48.3 0 0 0 373.7 1000.7 Z" fill="url(#gPeach)"/>
<ellipse cx="237.3" cy="1000.7" rx="136.3" ry="16.4" fill="#fadfcf" stroke="#f6cfb8" stroke-width="1"/>
<path d="M385.6 1146 A136.4 49.8 0 0 0 658.4 1146 Z" fill="url(#gBlue)"/>
<ellipse cx="522" cy="1146" rx="136.4" ry="16" fill="#dce9f6" stroke="#8fb4dc" stroke-width="1"/>
<path d="M670.9 1005.4 A133.8 48.7 0 0 0 938.5 1005.4 Z" fill="url(#gPeach)"/>
<ellipse cx="804.7" cy="1005.4" rx="133.8" ry="15.2" fill="#fadfcf" stroke="#f6cfb8" stroke-width="1"/>
<path d="M952.2 1110.9 A134.8 47.9 0 0 0 1221.8 1110.9 Z" fill="url(#gBlue)"/>
<ellipse cx="1087" cy="1110.9" rx="134.8" ry="16.2" fill="#dce9f6" stroke="#8fb4dc" stroke-width="1"/>
<path d="M87.4 1377.4 A276.6 52.3 0 0 0 640.6 1377.4 Z" fill="url(#gGrey)"/>
<ellipse cx="364" cy="1377.4" rx="276.6" ry="16.4" fill="#d3d3d3"/>
<path d="M656.4 1378 A272.9 51.7 0 0 0 1202.1 1378 Z" fill="url(#gGrey)"/>
<ellipse cx="929.2" cy="1378" rx="272.9" ry="15.6" fill="#d3d3d3"/>
<path d="M320.8 1028.7 C325.3 1028.6 339.3 1027.7 347.8 1028.4 C356.2 1029 363.8 1029.9 371.4 1032.4 C379 1034.9 386.6 1039.1 393.4 1043.2 C400.1 1047.4 406 1052.5 411.9 1057.4 C417.8 1062.3 423.7 1067.5 428.8 1072.6 C433.9 1077.7 438.3 1083 442.3 1087.8 C446.4 1092.6 451.3 1099 453.1 1101.3 L466.6 1091.8 L464.3 1131.7 L427.1 1118.2 L436.9 1111.4 C434.4 1108.6 426.8 1100 422.1 1094.5 C417.3 1089 413 1083.4 408.5 1078.3 C404 1073.3 400.1 1068.8 395 1064.1 C390 1059.5 383.8 1054.6 378.2 1050.6 C372.5 1046.7 367.5 1043.4 361.3 1040.5 C355.1 1037.6 344.4 1034.3 341 1033.1 Z" fill="#22a7e6"/>
<path d="M455.8 1135 C451.3 1134.2 436.7 1132.1 428.8 1130 C420.9 1127.8 414.2 1124.7 408.5 1122.2 C402.9 1119.7 400.1 1118.2 395 1114.8 C390 1111.4 383.8 1106.6 378.2 1102 C372.5 1097.3 366.2 1092.3 361.3 1087.1 C356.3 1081.9 351.9 1076 348.5 1070.9 C345 1065.8 341.7 1059.1 340.4 1056.7 L351.2 1050.6 L312.3 1030.4 L309 1070.9 L324.8 1066.8 C326.1 1069.5 329.3 1077.5 332.6 1082.7 C335.8 1087.9 339.9 1093.1 344.4 1097.9 C348.9 1102.7 354 1107.4 359.6 1111.4 C365.2 1115.5 372.3 1119.3 378.2 1122.2 C384.1 1125.1 389.4 1127.1 395 1129 C400.7 1130.8 405.2 1132.2 411.9 1133.4 C418.7 1134.5 431.6 1135.3 435.6 1135.7 Z" fill="#ee4545"/>
<path d="M892.6 1040.6 C896.2 1040 907.5 1037 914.5 1036.6 C921.6 1036.1 928.3 1036.6 934.8 1037.9 C941.3 1039.3 947.7 1042 953.4 1044.7 C959 1047.4 963.9 1050.8 968.5 1054.1 C973.2 1057.5 977.7 1061.6 981.4 1064.9 C985 1068.3 989 1072.8 990.5 1074.4 L1000.6 1068.3 L1002.3 1095.3 L973.6 1085.2 L979.4 1081.8 C977.6 1080 972.6 1074.5 968.5 1071 C964.5 1067.5 959.5 1064 955 1060.9 C950.5 1057.8 946 1054.9 941.5 1052.5 C937 1050 933.1 1048.1 928 1046.4 C923 1044.7 914 1043 911.2 1042.3 Z" fill="#22a7e6"/>
<path d="M988.8 1097.7 C985.4 1097.5 974.2 1097.3 968.5 1096.7 C962.9 1096.1 960.1 1095.4 955 1094 C950 1092.5 943.8 1090.5 938.2 1087.9 C932.5 1085.3 926.1 1081.8 921.3 1078.5 C916.5 1075.1 912.8 1071.1 909.5 1067.7 C906.1 1064.2 902.4 1059.2 901 1057.5 L909.5 1052.5 L879.1 1044 L880.8 1072.7 L890.9 1066 C892.3 1067.8 896 1073.4 899.3 1077.1 C902.7 1080.8 906.4 1084.9 911.2 1087.9 C915.9 1090.9 921.8 1093.4 928 1095.3 C934.2 1097.3 941.5 1098.9 948.3 1099.7 C955 1100.6 965.2 1100.3 968.5 1100.4 Z" fill="#ee4545"/>
<text x="224.6" y="1006.2" font-size="23.5" font-weight="bold" text-anchor="start" fill="#000">S<tspan dy="5.5" font-size="16.0">1</tspan></text>
<text x="513.6" y="1152" font-size="23.5" font-weight="bold" text-anchor="start" fill="#000">T<tspan dy="5.5" font-size="16.0">1</tspan></text>
<text x="791.6" y="1010.7" font-size="23.5" font-weight="bold" text-anchor="start" fill="#000">S<tspan dy="5.5" font-size="16.0">1</tspan></text>
<text x="1072.9" y="1119" font-size="23.5" font-weight="bold" text-anchor="start" fill="#000">T<tspan dy="5.5" font-size="16.0">4</tspan></text>
<text x="428.3" y="1061.8" font-size="24.7" font-weight="normal" text-anchor="start" fill="#2aa5dc">ISC</text>
<text x="286" y="1117.5" font-size="24.4" font-weight="normal" text-anchor="start" fill="#ea5353">RISC</text>
<text x="975.6" y="1048" font-size="23.5" font-weight="bold" text-anchor="start" fill="#22a7e6">ISC</text>
<text x="852.6" y="1110.9" font-size="24" font-weight="bold" text-anchor="start" fill="#ee4848">RISC</text>
<text x="183.2" y="1176.7" font-size="23" font-weight="normal"><tspan font-size="20.5">Δ</tspan>E<tspan dy="5" font-size="15">ST</tspan><tspan dy="-5"> = 0.55 eV</tspan></text>
<text x="183.6" y="1202.7" font-size="23" font-weight="normal">SOC = 0.44 cm<tspan dy="-9" font-size="14">-1</tspan></text>
<text x="791.4" y="1179.6" font-size="22.3" font-weight="bold"><tspan font-weight="normal">Δ</tspan>E<tspan dy="5" font-size="14.5">ST</tspan><tspan dy="-5"> = 0.06 eV</tspan></text>
<text x="791.6" y="1205.2" font-size="22.3" font-weight="bold">SOC = 1.23 cm<tspan dy="-9" font-size="13.5">-1</tspan></text>
<text x="377.9" y="1388.3" font-size="25.2" font-weight="bold" text-anchor="middle" fill="#000">Ground State</text>
<text x="943" y="1388.3" font-size="25.2" font-weight="bold" text-anchor="middle" fill="#000">Ground State</text>
<text x="367.7" y="1473.6" font-size="30" font-weight="bold" text-anchor="middle" fill="#000">In Solution</text>
<text x="943" y="1473.6" font-size="30" font-weight="bold" text-anchor="middle" fill="#000">In Film</text>
<g>
<path d="M218.1 915L233.3 922.2M233.3 922.2L240.5 930.9M240.5 930.9L245.6 941M244.2 946.8L231.1 938.9M231.1 938.9L217.4 932.3M217.4 932.3L215.2 923.7M221 928L232.6 928M232.6 928L234 933.1M234 933.1L231.1 938.9" stroke="#e9dfc6" stroke-width="3.2" fill="none" stroke-linecap="round"/>
<path d="M178.8 872.3L178.8 880.3" stroke="#48b8b6" stroke-width="2.2" fill="none"/>
<path d="M178.8 880.3L178.8 888.2M178.8 888.2L171.3 893.1M178.8 888.2L186.5 892.8" stroke="#e6a2a8" stroke-width="2.2" fill="none"/>
<path d="M171.3 893.1L163.9 897.9M186.5 892.8L194.2 897.3M163.9 897.9L164.1 906.1M194.2 897.3L193.9 905.6" stroke="#d6343c" stroke-width="2.2" fill="none"/>
<path d="M164.1 906.1L164.3 914.3M193.9 905.6L193.5 913.8M164.3 914.3L171.7 918.6M171.7 918.6L179.1 922.9M193.5 913.8L186.3 918.4M186.3 918.4L179.1 922.9M179.1 922.9L179.1 929.5M164.3 914.3L156.5 917.9M193.5 913.8L201.1 917.7M142.2 919L135.6 916.4M135.6 916.4L135.3 909.1M135.3 909.1L134.9 901.7M134.9 901.7L127.7 900.5M127.7 900.5L120.5 899.4M120.5 899.4L113.9 905M113.9 905L107.4 910.6M107.4 910.6L107.8 918M107.8 918L108.2 925.4M108.2 925.4L115.5 926.3M115.5 926.3L122.9 927.3M122.9 927.3L129.3 921.9M129.3 921.9L135.6 916.4M122.9 927.3L125.7 933.8M125.7 933.8L128.4 940.3M128.4 940.3L136.2 938.4M136.2 938.4L144 936.4M144 936.4L146.4 928.9M128.4 940.3L124.4 947.2M124.4 947.2L120.5 954.1M120.5 954.1L124.4 959.1M124.4 959.1L128.4 964.2M128.4 964.2L136.5 962M136.5 962L144.6 959.8M144.6 959.8L148.4 953.2M148.4 953.2L152.3 946.5M152.3 946.5L148.2 941.5M148.2 941.5L144 936.4M134.9 901.7L139.6 897.3M120.5 899.4L119.7 894.7M107.4 910.6L101.4 910.3M108.2 925.4L103.4 930M152.3 946.5L158.3 944.1M120.5 954.1L114.2 956.2M128.4 964.2L125.9 969.6M144.6 959.8L147.9 963.6M208.9 916.9L209.1 912.4M209.1 912.4L213.6 913.7M213.6 913.7L218.1 915M215.2 923.7L212 922.6M221 928L218.1 925.8M218.1 925.8L215.2 923.7M245.6 941L244.9 943.9M244.9 943.9L244.2 946.8" stroke="#b09b6c" stroke-width="2.2" fill="none"/>
<path d="M179.1 929.5L179.1 936M139.6 897.3L144.3 893M119.7 894.7L119 890M101.4 910.3L95.4 909.9M103.4 930L98.7 934.5M158.3 944.1L164.3 941.8M114.2 956.2L107.9 958.4M125.9 969.6L123.3 975M147.9 963.6L151.3 967.4" stroke="#d6d2c8" stroke-width="2.2" fill="none"/>
<path d="M156.5 917.9L148.7 921.5M201.1 917.7L208.7 921.5M148.7 921.5L142.2 919M146.4 928.9L148.7 921.5M208.7 921.5L208.9 916.9M212 922.6L208.7 921.5" stroke="#2634cc" stroke-width="2.2" fill="none"/>
<circle cx="179.1" cy="936" r="2.7" fill="url(#atH)"/>
<circle cx="144.3" cy="893" r="2.7" fill="url(#atH)"/>
<circle cx="119" cy="890" r="2.7" fill="url(#atH)"/>
<circle cx="95.4" cy="909.9" r="2.7" fill="url(#atH)"/>
<circle cx="98.7" cy="934.5" r="2.7" fill="url(#atH)"/>
<circle cx="164.3" cy="941.8" r="2.7" fill="url(#atH)"/>
<circle cx="107.9" cy="958.4" r="2.7" fill="url(#atH)"/>
<circle cx="123.3" cy="975" r="2.7" fill="url(#atH)"/>
<circle cx="151.3" cy="967.4" r="2.7" fill="url(#atH)"/>
<circle cx="197.9" cy="906.6" r="2.7" fill="url(#atH)"/>
<circle cx="208" cy="928" r="2.7" fill="url(#atH)"/>
<circle cx="252.1" cy="936" r="2.7" fill="url(#atH)"/>
<circle cx="257.2" cy="946.8" r="2.7" fill="url(#atH)"/>
<circle cx="254.3" cy="951.9" r="2.7" fill="url(#atH)"/>
<circle cx="229.7" cy="942.5" r="2.7" fill="url(#atH)"/>
<circle cx="241.3" cy="923.7" r="2.7" fill="url(#atH)"/>
<circle cx="178.8" cy="872.3" r="3.8" fill="url(#atF)"/>
<circle cx="178.8" cy="888.2" r="4.6" fill="url(#atB)"/>
<circle cx="163.9" cy="897.9" r="3.9" fill="url(#atO)"/>
<circle cx="194.2" cy="897.3" r="3.9" fill="url(#atO)"/>
<circle cx="164.3" cy="914.3" r="4.3" fill="url(#atC)"/>
<circle cx="193.5" cy="913.8" r="4.3" fill="url(#atC)"/>
<circle cx="179.1" cy="922.9" r="4.3" fill="url(#atC)"/>
<circle cx="148.7" cy="921.5" r="3.9" fill="url(#atN)"/>
<circle cx="208.7" cy="921.5" r="3.9" fill="url(#atN)"/>
<circle cx="135.6" cy="916.4" r="4.3" fill="url(#atC)"/>
<circle cx="134.9" cy="901.7" r="4.3" fill="url(#atC)"/>
<circle cx="120.5" cy="899.4" r="4.3" fill="url(#atC)"/>
<circle cx="107.4" cy="910.6" r="4.3" fill="url(#atC)"/>
<circle cx="108.2" cy="925.4" r="4.3" fill="url(#atC)"/>
<circle cx="122.9" cy="927.3" r="4.3" fill="url(#atC)"/>
<circle cx="128.4" cy="940.3" r="4.3" fill="url(#atC)"/>
<circle cx="144" cy="936.4" r="4.3" fill="url(#atC)"/>
<circle cx="120.5" cy="954.1" r="4.3" fill="url(#atC)"/>
<circle cx="128.4" cy="964.2" r="4.3" fill="url(#atC)"/>
<circle cx="144.6" cy="959.8" r="4.3" fill="url(#atC)"/>
<circle cx="152.3" cy="946.5" r="4.3" fill="url(#atC)"/>
<circle cx="209.1" cy="912.4" r="4.3" fill="url(#atC)"/>
<circle cx="218.1" cy="915" r="4.3" fill="url(#atC)"/>
<circle cx="215.2" cy="923.7" r="4.3" fill="url(#atC)"/>
<circle cx="221" cy="928" r="4.3" fill="url(#atC)"/>
<circle cx="217.4" cy="932.3" r="4.3" fill="url(#atC)"/>
<circle cx="233.3" cy="922.2" r="4.3" fill="url(#atC)"/>
<circle cx="232.6" cy="928" r="4.3" fill="url(#atC)"/>
<circle cx="240.5" cy="930.9" r="4.3" fill="url(#atC)"/>
<circle cx="231.1" cy="938.9" r="4.3" fill="url(#atC)"/>
<circle cx="234" cy="933.1" r="4.3" fill="url(#atC)"/>
<circle cx="245.6" cy="941" r="4.3" fill="url(#atC)"/>
<circle cx="244.2" cy="946.8" r="4.3" fill="url(#atC)"/>
</g>
<g>
<path d="M759.7 876.3L759.5 884" stroke="#48b8b6" stroke-width="2.2" fill="none"/>
<path d="M759.5 884L759.3 891.8M759.3 891.8L751.7 896.1M759.3 891.8L766.9 896.5" stroke="#e6a2a8" stroke-width="2.2" fill="none"/>
<path d="M751.7 896.1L744.1 900.5M766.9 896.5L774.5 901.2M744.1 900.5L744.1 908.4M774.5 901.2L774.2 908.8" stroke="#d6343c" stroke-width="2.2" fill="none"/>
<path d="M744.1 908.4L744.1 916.4M774.2 908.8L773.9 916.4M744.1 916.4L751.3 921.1M751.3 921.1L758.6 925.8M773.9 916.4L766.2 921.1M766.2 921.1L758.6 925.8M758.6 925.8L758.4 932.4M744.1 916.4L736.3 920.3M773.9 916.4L781.4 920.7M723.2 921.8L717.7 919.3M717.7 919.3L718.1 912.4M718.1 912.4L718.5 905.5M718.5 905.5L711.8 904.8M711.8 904.8L705.2 904.1M705.2 904.1L698.8 909.5M698.8 909.5L692.4 914.9M692.4 914.9L692.1 921.4M692.1 921.4L691.7 927.9M691.7 927.9L698 928.9M698 928.9L704.3 929.8M704.3 929.8L711 924.5M711 924.5L717.7 919.3M704.3 929.8L705.8 936.1M705.8 936.1L707.3 942.4M707.3 942.4L715.1 939.5M715.1 939.5L722.8 936.6M722.8 936.6L725.7 930.5M707.3 942.4L702.9 948.9M702.9 948.9L698.5 955.4M698.5 955.4L702 960.1M702 960.1L705.5 964.8M705.5 964.8L713 961.9M713 961.9L720.6 959.1M720.6 959.1L725 952.9M725 952.9L729.3 946.8M729.3 946.8L726.1 941.7M726.1 941.7L722.8 936.6M718.5 905.5L723.5 901.8M705.2 904.1L705.2 899.4M692.4 914.9L687 914.4M691.7 927.9L686.3 932.3M729.3 946.8L735 944.6M698.5 955.4L692.8 957.4M705.5 964.8L702.2 969.9M720.6 959.1L722.8 962.7M794.6 923.2L800.2 921.4M800.2 921.4L799.1 914.6M799.1 914.6L798.1 907.7M798.1 907.7L804.9 907.3M804.9 907.3L811.8 907M811.8 907L818.7 912.7M818.7 912.7L825.5 918.5M825.5 918.5L825.9 925M825.9 925L826.3 931.6M826.3 931.6L819.8 931.9M819.8 931.9L813.2 932.3M813.2 932.3L806.7 926.9M806.7 926.9L800.2 921.4M813.2 932.3L811.4 938.1M811.4 938.1L809.6 943.9M809.6 943.9L802 941M802 941L794.4 938.1M794.4 938.1L791.7 931.6M809.6 943.9L814 950M814 950L818.3 956.2M818.3 956.2L814.7 960.5M814.7 960.5L811.1 964.8M811.1 964.8L803.5 962.3M803.5 962.3L795.9 959.8M795.9 959.8L791.9 953.3M791.9 953.3L787.9 946.8M787.9 946.8L791.2 942.4M791.2 942.4L794.4 938.1M798.1 907.7L793.2 904.3M811.8 907L811.4 902.8M825.5 918.5L830.6 918.2M826.3 931.6L831.3 935.5M787.9 946.8L782.4 944.8M818.3 956.2L824.1 958.7M811.1 964.8L814.3 970.3M795.9 959.8L793.4 963" stroke="#b09b6c" stroke-width="2.2" fill="none"/>
<path d="M758.4 932.4L758.3 939.1M723.5 901.8L728.6 898M705.2 899.4L705.2 894.7M687 914.4L681.6 913.9M686.3 932.3L680.9 936.6M735 944.6L740.6 942.4M692.8 957.4L687.1 959.3M702.2 969.9L698.9 975M722.8 962.7L725 966.3M793.2 904.3L788.4 900.9M811.4 902.8L811.1 898.6M830.6 918.2L835.7 917.8M831.3 935.5L836.4 939.5M782.4 944.8L776.8 942.8M824.1 958.7L829.9 961.2M814.3 970.3L817.6 975.7M793.4 963L790.8 966.3" stroke="#d6d2c8" stroke-width="2.2" fill="none"/>
<path d="M736.3 920.3L728.6 924.3M781.4 920.7L788.9 925M728.6 924.3L723.2 921.8M725.7 930.5L728.6 924.3M788.9 925L794.6 923.2M791.7 931.6L788.9 925" stroke="#2634cc" stroke-width="2.2" fill="none"/>
<circle cx="758.3" cy="939.1" r="2.7" fill="url(#atH)"/>
<circle cx="728.6" cy="898" r="2.7" fill="url(#atH)"/>
<circle cx="705.2" cy="894.7" r="2.7" fill="url(#atH)"/>
<circle cx="681.6" cy="913.9" r="2.7" fill="url(#atH)"/>
<circle cx="680.9" cy="936.6" r="2.7" fill="url(#atH)"/>
<circle cx="740.6" cy="942.4" r="2.7" fill="url(#atH)"/>
<circle cx="687.1" cy="959.3" r="2.7" fill="url(#atH)"/>
<circle cx="698.9" cy="975" r="2.7" fill="url(#atH)"/>
<circle cx="725" cy="966.3" r="2.7" fill="url(#atH)"/>
<circle cx="788.4" cy="900.9" r="2.7" fill="url(#atH)"/>
<circle cx="811.1" cy="898.6" r="2.7" fill="url(#atH)"/>
<circle cx="835.7" cy="917.8" r="2.7" fill="url(#atH)"/>
<circle cx="836.4" cy="939.5" r="2.7" fill="url(#atH)"/>
<circle cx="776.8" cy="942.8" r="2.7" fill="url(#atH)"/>
<circle cx="829.9" cy="961.2" r="2.7" fill="url(#atH)"/>
<circle cx="817.6" cy="975.7" r="2.7" fill="url(#atH)"/>
<circle cx="790.8" cy="966.3" r="2.7" fill="url(#atH)"/>
<circle cx="759.7" cy="876.3" r="3.8" fill="url(#atF)"/>
<circle cx="759.3" cy="891.8" r="4.6" fill="url(#atB)"/>
<circle cx="744.1" cy="900.5" r="3.9" fill="url(#atO)"/>
<circle cx="774.5" cy="901.2" r="3.9" fill="url(#atO)"/>
<circle cx="744.1" cy="916.4" r="4.3" fill="url(#atC)"/>
<circle cx="773.9" cy="916.4" r="4.3" fill="url(#atC)"/>
<circle cx="758.6" cy="925.8" r="4.3" fill="url(#atC)"/>
<circle cx="728.6" cy="924.3" r="3.9" fill="url(#atN)"/>
<circle cx="788.9" cy="925" r="3.9" fill="url(#atN)"/>
<circle cx="717.7" cy="919.3" r="4.3" fill="url(#atC)"/>
<circle cx="718.5" cy="905.5" r="4.3" fill="url(#atC)"/>
<circle cx="705.2" cy="904.1" r="4.3" fill="url(#atC)"/>
<circle cx="692.4" cy="914.9" r="4.3" fill="url(#atC)"/>
<circle cx="691.7" cy="927.9" r="4.3" fill="url(#atC)"/>
<circle cx="704.3" cy="929.8" r="4.3" fill="url(#atC)"/>
<circle cx="707.3" cy="942.4" r="4.3" fill="url(#atC)"/>
<circle cx="722.8" cy="936.6" r="4.3" fill="url(#atC)"/>
<circle cx="698.5" cy="955.4" r="4.3" fill="url(#atC)"/>
<circle cx="705.5" cy="964.8" r="4.3" fill="url(#atC)"/>
<circle cx="720.6" cy="959.1" r="4.3" fill="url(#atC)"/>
<circle cx="729.3" cy="946.8" r="4.3" fill="url(#atC)"/>
<circle cx="800.2" cy="921.4" r="4.3" fill="url(#atC)"/>
<circle cx="798.1" cy="907.7" r="4.3" fill="url(#atC)"/>
<circle cx="811.8" cy="907" r="4.3" fill="url(#atC)"/>
<circle cx="825.5" cy="918.5" r="4.3" fill="url(#atC)"/>
<circle cx="826.3" cy="931.6" r="4.3" fill="url(#atC)"/>
<circle cx="813.2" cy="932.3" r="4.3" fill="url(#atC)"/>
<circle cx="809.6" cy="943.9" r="4.3" fill="url(#atC)"/>
<circle cx="794.4" cy="938.1" r="4.3" fill="url(#atC)"/>
<circle cx="818.3" cy="956.2" r="4.3" fill="url(#atC)"/>
<circle cx="811.1" cy="964.8" r="4.3" fill="url(#atC)"/>
<circle cx="795.9" cy="959.8" r="4.3" fill="url(#atC)"/>
<circle cx="787.9" cy="946.8" r="4.3" fill="url(#atC)"/>
</g>
<g>
<path d="M776.4 1249.5L776.2 1257.2" stroke="#48b8b6" stroke-width="2.2" fill="none"/>
<path d="M776.2 1257.2L776 1265M776 1265L768.4 1269.3M776 1265L783.6 1269.7" stroke="#e6a2a8" stroke-width="2.2" fill="none"/>
<path d="M768.4 1269.3L760.8 1273.7M783.6 1269.7L791.2 1274.4M760.8 1273.7L760.8 1281.6M791.2 1274.4L790.9 1282" stroke="#d6343c" stroke-width="2.2" fill="none"/>
<path d="M760.8 1281.6L760.8 1289.6M790.9 1282L790.6 1289.6M760.8 1289.6L768 1294.3M768 1294.3L775.3 1299M790.6 1289.6L782.9 1294.3M782.9 1294.3L775.3 1299M775.3 1299L775.1 1305.6M760.8 1289.6L753 1293.5M790.6 1289.6L798.1 1293.9M739.9 1295L734.4 1292.5M734.4 1292.5L734.8 1285.6M734.8 1285.6L735.2 1278.7M735.2 1278.7L728.5 1278M728.5 1278L721.9 1277.3M721.9 1277.3L715.5 1282.7M715.5 1282.7L709.1 1288.1M709.1 1288.1L708.8 1294.6M708.8 1294.6L708.4 1301.1M708.4 1301.1L714.7 1302.1M714.7 1302.1L721 1303M721 1303L727.7 1297.7M727.7 1297.7L734.4 1292.5M721 1303L722.5 1309.3M722.5 1309.3L724 1315.6M724 1315.6L731.8 1312.7M731.8 1312.7L739.5 1309.8M739.5 1309.8L742.4 1303.7M724 1315.6L719.6 1322.1M719.6 1322.1L715.2 1328.6M715.2 1328.6L718.7 1333.3M718.7 1333.3L722.2 1338M722.2 1338L729.7 1335.1M729.7 1335.1L737.3 1332.3M737.3 1332.3L741.7 1326.1M741.7 1326.1L746 1320M746 1320L742.8 1314.9M742.8 1314.9L739.5 1309.8M735.2 1278.7L740.2 1275M721.9 1277.3L721.9 1272.6M709.1 1288.1L703.7 1287.6M708.4 1301.1L703 1305.5M746 1320L751.7 1317.8M715.2 1328.6L709.5 1330.6M722.2 1338L718.9 1343.1M737.3 1332.3L739.5 1335.9M811.3 1296.4L816.9 1294.6M816.9 1294.6L815.8 1287.8M815.8 1287.8L814.8 1280.9M814.8 1280.9L821.6 1280.5M821.6 1280.5L828.5 1280.2M828.5 1280.2L835.4 1285.9M835.4 1285.9L842.2 1291.7M842.2 1291.7L842.6 1298.2M842.6 1298.2L843 1304.8M843 1304.8L836.5 1305.1M836.5 1305.1L829.9 1305.5M829.9 1305.5L823.4 1300.1M823.4 1300.1L816.9 1294.6M829.9 1305.5L828.1 1311.3M828.1 1311.3L826.3 1317.1M826.3 1317.1L818.7 1314.2M818.7 1314.2L811.1 1311.3M811.1 1311.3L808.4 1304.8M826.3 1317.1L830.7 1323.2M830.7 1323.2L835 1329.4M835 1329.4L831.4 1333.7M831.4 1333.7L827.8 1338M827.8 1338L820.2 1335.5M820.2 1335.5L812.6 1333M812.6 1333L808.6 1326.5M808.6 1326.5L804.6 1320M804.6 1320L807.9 1315.6M807.9 1315.6L811.1 1311.3M814.8 1280.9L809.9 1277.5M828.5 1280.2L828.1 1276M842.2 1291.7L847.3 1291.4M843 1304.8L848 1308.7M804.6 1320L799.1 1318M835 1329.4L840.8 1331.9M827.8 1338L831 1343.5M812.6 1333L810.1 1336.2" stroke="#b09b6c" stroke-width="2.2" fill="none"/>
<path d="M775.1 1305.6L775 1312.3M740.2 1275L745.3 1271.2M721.9 1272.6L721.9 1267.9M703.7 1287.6L698.3 1287.1M703 1305.5L697.6 1309.8M751.7 1317.8L757.3 1315.6M709.5 1330.6L703.8 1332.5M718.9 1343.1L715.6 1348.2M739.5 1335.9L741.7 1339.5M809.9 1277.5L805.1 1274.1M828.1 1276L827.8 1271.8M847.3 1291.4L852.4 1291M848 1308.7L853.1 1312.7M799.1 1318L793.5 1316M840.8 1331.9L846.6 1334.4M831 1343.5L834.3 1348.9M810.1 1336.2L807.5 1339.5" stroke="#d6d2c8" stroke-width="2.2" fill="none"/>
<path d="M753 1293.5L745.3 1297.5M798.1 1293.9L805.6 1298.2M745.3 1297.5L739.9 1295M742.4 1303.7L745.3 1297.5M805.6 1298.2L811.3 1296.4M808.4 1304.8L805.6 1298.2" stroke="#2634cc" stroke-width="2.2" fill="none"/>
<circle cx="775" cy="1312.3" r="2.7" fill="url(#atH)"/>
<circle cx="745.3" cy="1271.2" r="2.7" fill="url(#atH)"/>
<circle cx="721.9" cy="1267.9" r="2.7" fill="url(#atH)"/>
<circle cx="698.3" cy="1287.1" r="2.7" fill="url(#atH)"/>
<circle cx="697.6" cy="1309.8" r="2.7" fill="url(#atH)"/>
<circle cx="757.3" cy="1315.6" r="2.7" fill="url(#atH)"/>
<circle cx="703.8" cy="1332.5" r="2.7" fill="url(#atH)"/>
<circle cx="715.6" cy="1348.2" r="2.7" fill="url(#atH)"/>
<circle cx="741.7" cy="1339.5" r="2.7" fill="url(#atH)"/>
<circle cx="805.1" cy="1274.1" r="2.7" fill="url(#atH)"/>
<circle cx="827.8" cy="1271.8" r="2.7" fill="url(#atH)"/>
<circle cx="852.4" cy="1291" r="2.7" fill="url(#atH)"/>
<circle cx="853.1" cy="1312.7" r="2.7" fill="url(#atH)"/>
<circle cx="793.5" cy="1316" r="2.7" fill="url(#atH)"/>
<circle cx="846.6" cy="1334.4" r="2.7" fill="url(#atH)"/>
<circle cx="834.3" cy="1348.9" r="2.7" fill="url(#atH)"/>
<circle cx="807.5" cy="1339.5" r="2.7" fill="url(#atH)"/>
<circle cx="776.4" cy="1249.5" r="3.8" fill="url(#atF)"/>
<circle cx="776" cy="1265" r="4.6" fill="url(#atB)"/>
<circle cx="760.8" cy="1273.7" r="3.9" fill="url(#atO)"/>
<circle cx="791.2" cy="1274.4" r="3.9" fill="url(#atO)"/>
<circle cx="760.8" cy="1289.6" r="4.3" fill="url(#atC)"/>
<circle cx="790.6" cy="1289.6" r="4.3" fill="url(#atC)"/>
<circle cx="775.3" cy="1299" r="4.3" fill="url(#atC)"/>
<circle cx="745.3" cy="1297.5" r="3.9" fill="url(#atN)"/>
<circle cx="805.6" cy="1298.2" r="3.9" fill="url(#atN)"/>
<circle cx="734.4" cy="1292.5" r="4.3" fill="url(#atC)"/>
<circle cx="735.2" cy="1278.7" r="4.3" fill="url(#atC)"/>
<circle cx="721.9" cy="1277.3" r="4.3" fill="url(#atC)"/>
<circle cx="709.1" cy="1288.1" r="4.3" fill="url(#atC)"/>
<circle cx="708.4" cy="1301.1" r="4.3" fill="url(#atC)"/>
<circle cx="721" cy="1303" r="4.3" fill="url(#atC)"/>
<circle cx="724" cy="1315.6" r="4.3" fill="url(#atC)"/>
<circle cx="739.5" cy="1309.8" r="4.3" fill="url(#atC)"/>
<circle cx="715.2" cy="1328.6" r="4.3" fill="url(#atC)"/>
<circle cx="722.2" cy="1338" r="4.3" fill="url(#atC)"/>
<circle cx="737.3" cy="1332.3" r="4.3" fill="url(#atC)"/>
<circle cx="746" cy="1320" r="4.3" fill="url(#atC)"/>
<circle cx="816.9" cy="1294.6" r="4.3" fill="url(#atC)"/>
<circle cx="814.8" cy="1280.9" r="4.3" fill="url(#atC)"/>
<circle cx="828.5" cy="1280.2" r="4.3" fill="url(#atC)"/>
<circle cx="842.2" cy="1291.7" r="4.3" fill="url(#atC)"/>
<circle cx="843" cy="1304.8" r="4.3" fill="url(#atC)"/>
<circle cx="829.9" cy="1305.5" r="4.3" fill="url(#atC)"/>
<circle cx="826.3" cy="1317.1" r="4.3" fill="url(#atC)"/>
<circle cx="811.1" cy="1311.3" r="4.3" fill="url(#atC)"/>
<circle cx="835" cy="1329.4" r="4.3" fill="url(#atC)"/>
<circle cx="827.8" cy="1338" r="4.3" fill="url(#atC)"/>
<circle cx="812.6" cy="1333" r="4.3" fill="url(#atC)"/>
<circle cx="804.6" cy="1320" r="4.3" fill="url(#atC)"/>
</g>
<g>
<path d="M194.8 1249.5L194.6 1257.5" stroke="#48b8b6" stroke-width="2.3" fill="none"/>
<path d="M194.6 1257.5L194.4 1265.4M194.4 1265.4L186.5 1269.9M194.4 1265.4L202.2 1270.3" stroke="#e6a2a8" stroke-width="2.3" fill="none"/>
<path d="M186.5 1269.9L178.7 1274.4M202.2 1270.3L210 1275.1M178.7 1274.4L178.7 1282.6M210 1275.1L209.7 1283" stroke="#d6343c" stroke-width="2.3" fill="none"/>
<path d="M178.7 1282.6L178.7 1290.8M209.7 1283L209.4 1290.8M178.7 1290.8L186.2 1295.6M186.2 1295.6L193.6 1300.5M209.4 1290.8L201.5 1295.6M201.5 1295.6L193.6 1300.5M193.6 1300.5L193.5 1307.3M178.7 1290.8L170.7 1294.9M209.4 1290.8L217.2 1295.3M157.2 1296.4L151.6 1293.8M151.6 1293.8L152 1286.7M152 1286.7L152.3 1279.6M152.3 1279.6L145.5 1278.9M145.5 1278.9L138.6 1278.1M138.6 1278.1L132.1 1283.7M132.1 1283.7L125.5 1289.3M125.5 1289.3L125.1 1296M125.1 1296L124.8 1302.7M124.8 1302.7L131.2 1303.7M131.2 1303.7L137.7 1304.6M137.7 1304.6L144.6 1299.2M144.6 1299.2L151.6 1293.8M137.7 1304.6L139.3 1311.1M139.3 1311.1L140.8 1317.6M140.8 1317.6L148.8 1314.6M148.8 1314.6L156.8 1311.6M156.8 1311.6L159.8 1305.3M140.8 1317.6L136.3 1324.3M136.3 1324.3L131.8 1331M131.8 1331L135.3 1335.9M135.3 1335.9L138.9 1340.7M138.9 1340.7L146.7 1337.7M146.7 1337.7L154.6 1334.7M154.6 1334.7L159 1328.4M159 1328.4L163.5 1322.1M163.5 1322.1L160.1 1316.9M160.1 1316.9L156.8 1311.6M152.3 1279.6L157.5 1275.7M138.6 1278.1L138.6 1273.3M125.5 1289.3L119.9 1288.8M124.8 1302.7L119.2 1307.2M163.5 1322.1L169.3 1319.8M131.8 1331L125.9 1333M138.9 1340.7L135.6 1345.9M154.6 1334.7L156.8 1338.5M230.7 1297.9L236.5 1296M236.5 1296L235.4 1288.9M235.4 1288.9L234.3 1281.8M234.3 1281.8L241.4 1281.5M241.4 1281.5L248.5 1281.1M248.5 1281.1L255.5 1287.1M255.5 1287.1L262.6 1293M262.6 1293L263 1299.7M263 1299.7L263.4 1306.4M263.4 1306.4L256.7 1306.8M256.7 1306.8L249.9 1307.2M249.9 1307.2L243.2 1301.6M243.2 1301.6L236.5 1296M249.9 1307.2L248.1 1313.1M248.1 1313.1L246.2 1319.1M246.2 1319.1L238.4 1316.1M238.4 1316.1L230.6 1313.1M230.6 1313.1L227.7 1306.4M246.2 1319.1L250.7 1325.4M250.7 1325.4L255.2 1331.8M255.2 1331.8L251.4 1336.2M251.4 1336.2L247.7 1340.7M247.7 1340.7L239.9 1338.1M239.9 1338.1L232.1 1335.5M232.1 1335.5L228 1328.8M228 1328.8L223.9 1322.1M223.9 1322.1L227.2 1317.6M227.2 1317.6L230.6 1313.1M234.3 1281.8L229.3 1278.3M248.5 1281.1L248.1 1276.8M262.6 1293L267.8 1292.6M263.4 1306.4L268.6 1310.5M223.9 1322.1L218.1 1320.1M255.2 1331.8L261.1 1334.4M247.7 1340.7L251.1 1346.3M232.1 1335.5L229.5 1338.8" stroke="#b09b6c" stroke-width="2.3" fill="none"/>
<path d="M193.5 1307.3L193.3 1314.2M157.5 1275.7L162.8 1271.9M138.6 1273.3L138.6 1268.4M119.9 1288.8L114.3 1288.2M119.2 1307.2L113.6 1311.6M169.3 1319.8L175.1 1317.6M125.9 1333L120 1335M135.6 1345.9L132.2 1351.1M156.8 1338.5L159 1342.2M229.3 1278.3L224.3 1274.8M248.1 1276.8L247.7 1272.5M267.8 1292.6L273 1292.3M268.6 1310.5L273.8 1314.6M218.1 1320.1L212.4 1318.1M261.1 1334.4L267.1 1337M251.1 1346.3L254.4 1351.9M229.5 1338.8L226.8 1342.2" stroke="#d6d2c8" stroke-width="2.3" fill="none"/>
<path d="M170.7 1294.9L162.8 1299M217.2 1295.3L224.9 1299.7M162.8 1299L157.2 1296.4M159.8 1305.3L162.8 1299M224.9 1299.7L230.7 1297.9M227.7 1306.4L224.9 1299.7" stroke="#2634cc" stroke-width="2.3" fill="none"/>
<circle cx="193.3" cy="1314.2" r="2.8" fill="url(#atH)"/>
<circle cx="162.8" cy="1271.9" r="2.8" fill="url(#atH)"/>
<circle cx="138.6" cy="1268.4" r="2.8" fill="url(#atH)"/>
<circle cx="114.3" cy="1288.2" r="2.8" fill="url(#atH)"/>
<circle cx="113.6" cy="1311.6" r="2.8" fill="url(#atH)"/>
<circle cx="175.1" cy="1317.6" r="2.8" fill="url(#atH)"/>
<circle cx="120" cy="1335" r="2.8" fill="url(#atH)"/>
<circle cx="132.2" cy="1351.1" r="2.8" fill="url(#atH)"/>
<circle cx="159" cy="1342.2" r="2.8" fill="url(#atH)"/>
<circle cx="224.3" cy="1274.8" r="2.8" fill="url(#atH)"/>
<circle cx="247.7" cy="1272.5" r="2.8" fill="url(#atH)"/>
<circle cx="273" cy="1292.3" r="2.8" fill="url(#atH)"/>
<circle cx="273.8" cy="1314.6" r="2.8" fill="url(#atH)"/>
<circle cx="212.4" cy="1318.1" r="2.8" fill="url(#atH)"/>
<circle cx="267.1" cy="1337" r="2.8" fill="url(#atH)"/>
<circle cx="254.4" cy="1351.9" r="2.8" fill="url(#atH)"/>
<circle cx="226.8" cy="1342.2" r="2.8" fill="url(#atH)"/>
<circle cx="194.8" cy="1249.5" r="3.9" fill="url(#atF)"/>
<circle cx="194.4" cy="1265.4" r="4.7" fill="url(#atB)"/>
<circle cx="178.7" cy="1274.4" r="4" fill="url(#atO)"/>
<circle cx="210" cy="1275.1" r="4" fill="url(#atO)"/>
<circle cx="178.7" cy="1290.8" r="4.4" fill="url(#atC)"/>
<circle cx="209.4" cy="1290.8" r="4.4" fill="url(#atC)"/>
<circle cx="193.6" cy="1300.5" r="4.4" fill="url(#atC)"/>
<circle cx="162.8" cy="1299" r="4" fill="url(#atN)"/>
<circle cx="224.9" cy="1299.7" r="4" fill="url(#atN)"/>
<circle cx="151.6" cy="1293.8" r="4.4" fill="url(#atC)"/>
<circle cx="152.3" cy="1279.6" r="4.4" fill="url(#atC)"/>
<circle cx="138.6" cy="1278.1" r="4.4" fill="url(#atC)"/>
<circle cx="125.5" cy="1289.3" r="4.4" fill="url(#atC)"/>
<circle cx="124.8" cy="1302.7" r="4.4" fill="url(#atC)"/>
<circle cx="137.7" cy="1304.6" r="4.4" fill="url(#atC)"/>
<circle cx="140.8" cy="1317.6" r="4.4" fill="url(#atC)"/>
<circle cx="156.8" cy="1311.6" r="4.4" fill="url(#atC)"/>
<circle cx="131.8" cy="1331" r="4.4" fill="url(#atC)"/>
<circle cx="138.9" cy="1340.7" r="4.4" fill="url(#atC)"/>
<circle cx="154.6" cy="1334.7" r="4.4" fill="url(#atC)"/>
<circle cx="163.5" cy="1322.1" r="4.4" fill="url(#atC)"/>
<circle cx="236.5" cy="1296" r="4.4" fill="url(#atC)"/>
<circle cx="234.3" cy="1281.8" r="4.4" fill="url(#atC)"/>
<circle cx="248.5" cy="1281.1" r="4.4" fill="url(#atC)"/>
<circle cx="262.6" cy="1293" r="4.4" fill="url(#atC)"/>
<circle cx="263.4" cy="1306.4" r="4.4" fill="url(#atC)"/>
<circle cx="249.9" cy="1307.2" r="4.4" fill="url(#atC)"/>
<circle cx="246.2" cy="1319.1" r="4.4" fill="url(#atC)"/>
<circle cx="230.6" cy="1313.1" r="4.4" fill="url(#atC)"/>
<circle cx="255.2" cy="1331.8" r="4.4" fill="url(#atC)"/>
<circle cx="247.7" cy="1340.7" r="4.4" fill="url(#atC)"/>
<circle cx="232.1" cy="1335.5" r="4.4" fill="url(#atC)"/>
<circle cx="223.9" cy="1322.1" r="4.4" fill="url(#atC)"/>
</g>
</g>
</svg>
</body></html>
